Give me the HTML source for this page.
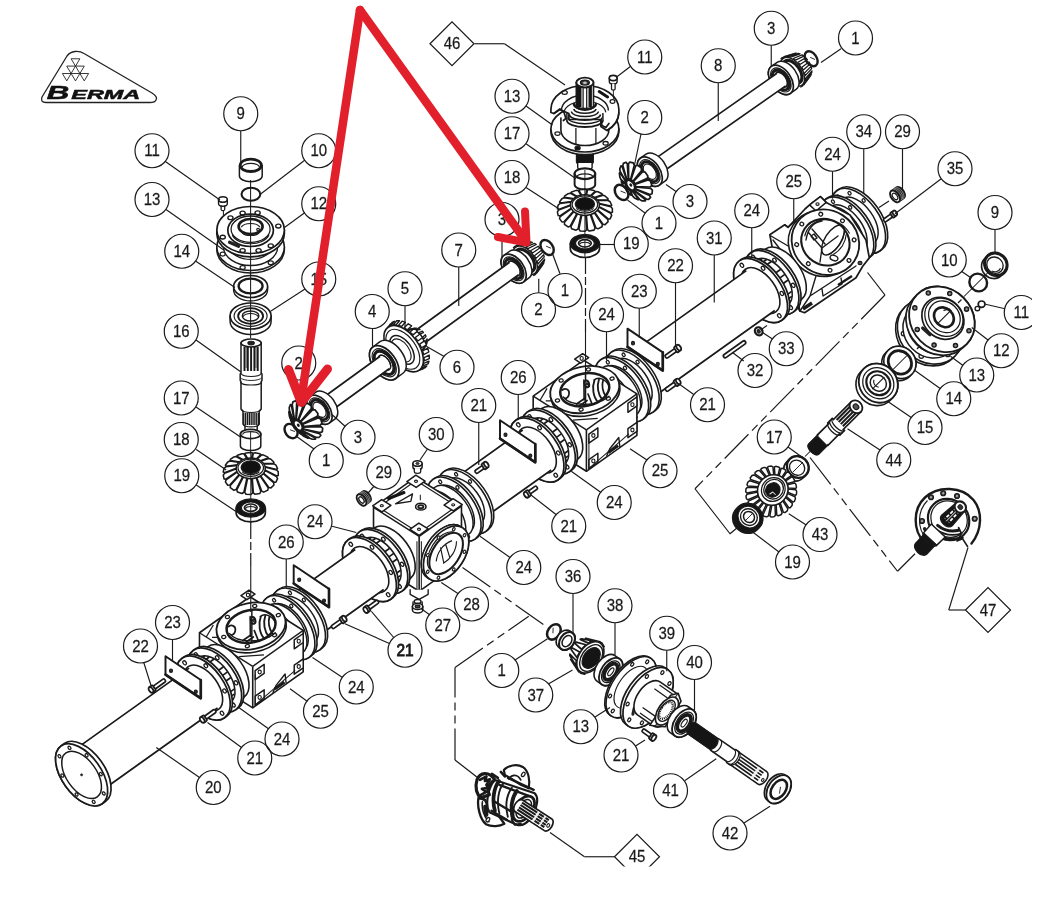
<!DOCTYPE html>
<html><head><meta charset="utf-8"><title>Berma exploded view</title>
<style>
html,body{margin:0;padding:0;background:#fff;}
body{width:1064px;height:904px;overflow:hidden;}
svg{display:block;}
svg text{font-family:"Liberation Sans",Arial,sans-serif;fill:#1a1a1a;}
</style></head><body>
<svg width="1064" height="904" viewBox="0 0 1064 904">
<rect x="0" y="0" width="1064" height="904" fill="#fff"/>
<g opacity="0.999">
<path d="M239.4 165.5 L239.4 176 A11.2 5.6 0 0 0 262.2 176 L262.2 165.5" fill="#fff" stroke="#1a1a1a" stroke-width="1.49" stroke-linejoin="round" stroke-linecap="round" />
<ellipse cx="250.8" cy="165.3" rx="10.6" ry="6.2" fill="#fff" stroke="#1a1a1a" stroke-width="2.76"/>
<path d="M242.2 167.3 A8.6 4 0 0 1 259.4 167.3" fill="none" stroke="#1a1a1a" stroke-width="1.26"/>
<ellipse cx="250.9" cy="194.2" rx="9.4" ry="6.5" fill="none" stroke="#1a1a1a" stroke-width="2.07"/>
<path d="M218.5 199.6 L218.5 203.4 A4.4 2.8 0 0 0 227.3 203.4 L227.3 199.6" fill="#fff" stroke="#1a1a1a" stroke-width="1.38" stroke-linejoin="round" stroke-linecap="round" />
<ellipse cx="222.9" cy="199.5" rx="4.4" ry="2.8" fill="#fff" stroke="#1a1a1a" stroke-width="1.61"/>
<path d="M221.1 206 L221.1 209.5 A1.8 1.2 0 0 0 224.7 209.5 L224.7 206" fill="none" stroke="#1a1a1a" stroke-width="1.26" stroke-linejoin="round" stroke-linecap="round" />
<line x1="223.4" y1="211" x2="223.4" y2="234" stroke="#1a1a1a" stroke-width="1.03" stroke-linecap="butt"/>
<path d="M216.8 247 L216.8 249.5 A33.8 23.5 0 0 0 284.4 249.5 L284.4 247" fill="#fff" stroke="#1a1a1a" stroke-width="1.49" stroke-linejoin="round" stroke-linecap="round" />
<ellipse cx="250.6" cy="247" rx="33.8" ry="23.5" fill="#fff" stroke="#1a1a1a" stroke-width="1.61"/>
<ellipse cx="222.72" cy="254.12" rx="2.6" ry="1.9" fill="none" stroke="#1a1a1a" stroke-width="1.26"/>
<ellipse cx="242.61" cy="267.49" rx="2.6" ry="1.9" fill="none" stroke="#1a1a1a" stroke-width="1.26"/>
<ellipse cx="270.75" cy="262.78" rx="2.6" ry="1.9" fill="none" stroke="#1a1a1a" stroke-width="1.26"/>
<path d="M223.6 238 L223.6 247 A27 18.5 0 0 0 277.6 247 L277.6 238" fill="#fff" stroke="#1a1a1a" stroke-width="1.38" stroke-linejoin="round" stroke-linecap="round" />
<path d="M272.33 248.01 A22.5 15.5 0 0 1 228.87 248.01" fill="none" stroke="#1a1a1a" stroke-width="1.26"/>
<path d="M216.8 230 L216.8 233.4 A33.8 23.5 0 0 0 284.4 233.4 L284.4 230" fill="#fff" stroke="#1a1a1a" stroke-width="1.61" stroke-linejoin="round" stroke-linecap="round" />
<ellipse cx="250.6" cy="230" rx="33.8" ry="23.5" fill="#fff" stroke="#1a1a1a" stroke-width="1.72"/>
<ellipse cx="242.61" cy="213.01" rx="2.6" ry="1.9" fill="none" stroke="#1a1a1a" stroke-width="1.38"/>
<ellipse cx="257.62" cy="212.83" rx="2.6" ry="1.9" fill="none" stroke="#1a1a1a" stroke-width="1.38"/>
<ellipse cx="230.45" cy="217.72" rx="2.6" ry="1.9" fill="none" stroke="#1a1a1a" stroke-width="1.38"/>
<ellipse cx="278.33" cy="226.05" rx="2.6" ry="1.9" fill="none" stroke="#1a1a1a" stroke-width="1.38"/>
<ellipse cx="222.72" cy="237.12" rx="2.6" ry="1.9" fill="none" stroke="#1a1a1a" stroke-width="1.38"/>
<ellipse cx="242.61" cy="250.49" rx="2.6" ry="1.9" fill="none" stroke="#1a1a1a" stroke-width="1.38"/>
<ellipse cx="258.59" cy="250.49" rx="2.6" ry="1.9" fill="none" stroke="#1a1a1a" stroke-width="1.38"/>
<ellipse cx="270.75" cy="245.78" rx="2.6" ry="1.9" fill="none" stroke="#1a1a1a" stroke-width="1.38"/>
<ellipse cx="250.6" cy="230.3" rx="22.8" ry="16.2" fill="none" stroke="#1a1a1a" stroke-width="1.72"/>
<ellipse cx="250.6" cy="229.2" rx="19.5" ry="13.2" fill="none" stroke="#1a1a1a" stroke-width="1.26"/>
<path d="M268.92 235.11 A19.5 13.2 0 0 1 232.28 235.11" fill="none" stroke="#1a1a1a" stroke-width="1.15"/>
<ellipse cx="250.6" cy="226.5" rx="12" ry="7.5" fill="none" stroke="#1a1a1a" stroke-width="2.64"/>
<path d="M241.2 227.12 A10 5.5 0 0 1 260 227.12" fill="none" stroke="#1a1a1a" stroke-width="1.15"/>
<path d="M259.06 232.87 A9 4 0 0 1 242.14 232.87" fill="none" stroke="#1a1a1a" stroke-width="1.15"/>
<ellipse cx="258.1" cy="229.5" rx="1.4" ry="1.2" fill="#fff" stroke="#1a1a1a" stroke-width="1.15"/>
<rect x="227.6" y="242.5" width="13" height="3.2" rx="1.5" fill="#222" transform="rotate(24 233.6 244)"/>
<path d="M233.6 286.5 L233.6 290 A17 11 0 0 0 267.6 290 L267.6 286.5" fill="#fff" stroke="#1a1a1a" stroke-width="1.38" stroke-linejoin="round" stroke-linecap="round" />
<ellipse cx="250.6" cy="286.5" rx="17" ry="11" fill="#fff" stroke="#1a1a1a" stroke-width="1.61"/>
<ellipse cx="250.6" cy="286" rx="12" ry="7.4" fill="none" stroke="#1a1a1a" stroke-width="2.3"/>
<path d="M230.1 316 L230.1 321.5 A20.5 13 0 0 0 271.1 321.5 L271.1 316" fill="#fff" stroke="#1a1a1a" stroke-width="1.49" stroke-linejoin="round" stroke-linecap="round" />
<ellipse cx="250.6" cy="316" rx="20.5" ry="13" fill="#fff" stroke="#1a1a1a" stroke-width="1.72"/>
<ellipse cx="250.6" cy="316" rx="16.5" ry="10.3" fill="none" stroke="#1a1a1a" stroke-width="1.15"/>
<ellipse cx="250.6" cy="316" rx="12.5" ry="7.8" fill="none" stroke="#1a1a1a" stroke-width="1.84"/>
<ellipse cx="250.6" cy="316" rx="8.3" ry="5" fill="none" stroke="#1a1a1a" stroke-width="1.38"/>
<path d="M242.8 316.79 A8.3 5 0 0 1 258.4 316.79" fill="none" stroke="#1a1a1a" stroke-width="1.15"/>
<line x1="250.6" y1="180" x2="250.6" y2="338" stroke="#1a1a1a" stroke-width="1.03" stroke-linecap="butt"/>
<path d="M241 343 L241 373 L240.2 374 L240.2 380.5 L241 381.5 L241 409 L243 411 L243 424 L245 426 L245 430 A6 2.5 0 0 0 257.2 430 L257.2 426 L259.2 424 L259.2 411 L261.2 409 L261.2 381.5 L262.0 380.5 L262.0 374 L261.2 373 L261.2 343" fill="#fff" stroke="#1a1a1a" stroke-width="1.49" stroke-linejoin="round" stroke-linecap="round" />
<ellipse cx="251.1" cy="343" rx="10.1" ry="4" fill="#fff" stroke="#1a1a1a" stroke-width="1.61"/>
<ellipse cx="251.1" cy="343" rx="3.2" ry="1.8" fill="#222" stroke="#1a1a1a" stroke-width="1.15"/>
<line x1="244.5" y1="347" x2="244.5" y2="371" stroke="#1a1a1a" stroke-width="1.95" stroke-linecap="butt"/>
<line x1="247.8" y1="347" x2="247.8" y2="371" stroke="#1a1a1a" stroke-width="1.95" stroke-linecap="butt"/>
<line x1="251.1" y1="347" x2="251.1" y2="371" stroke="#1a1a1a" stroke-width="1.95" stroke-linecap="butt"/>
<line x1="254.4" y1="347" x2="254.4" y2="371" stroke="#1a1a1a" stroke-width="1.95" stroke-linecap="butt"/>
<line x1="257.7" y1="347" x2="257.7" y2="371" stroke="#1a1a1a" stroke-width="1.95" stroke-linecap="butt"/>
<line x1="246.2" y1="347" x2="246.2" y2="368" stroke="#1a1a1a" stroke-width="0.69" stroke-linecap="butt"/>
<line x1="256" y1="347" x2="256" y2="368" stroke="#1a1a1a" stroke-width="0.69" stroke-linecap="butt"/>
<path d="M261.05 373.61 A10.1 3.5 0 0 1 241.15 373.61" fill="none" stroke="#1a1a1a" stroke-width="1.15"/>
<path d="M261.83 382.11 A10.9 3.5 0 0 1 240.37 382.11" fill="none" stroke="#1a1a1a" stroke-width="1.15"/>
<path d="M261.83 377.61 A10.9 3.5 0 0 1 240.37 377.61" fill="none" stroke="#1a1a1a" stroke-width="0.92"/>
<path d="M261.05 409.61 A10.1 3.5 0 0 1 241.15 409.61" fill="none" stroke="#1a1a1a" stroke-width="1.15"/>
<line x1="243.8" y1="413" x2="243.8" y2="425" stroke="#1a1a1a" stroke-width="1.32" stroke-linecap="butt"/>
<line x1="245.65" y1="413" x2="245.65" y2="425" stroke="#1a1a1a" stroke-width="1.32" stroke-linecap="butt"/>
<line x1="247.5" y1="413" x2="247.5" y2="425" stroke="#1a1a1a" stroke-width="1.32" stroke-linecap="butt"/>
<line x1="249.35" y1="413" x2="249.35" y2="425" stroke="#1a1a1a" stroke-width="1.32" stroke-linecap="butt"/>
<line x1="251.2" y1="413" x2="251.2" y2="425" stroke="#1a1a1a" stroke-width="1.32" stroke-linecap="butt"/>
<line x1="253.05" y1="413" x2="253.05" y2="425" stroke="#1a1a1a" stroke-width="1.32" stroke-linecap="butt"/>
<line x1="254.9" y1="413" x2="254.9" y2="425" stroke="#1a1a1a" stroke-width="1.32" stroke-linecap="butt"/>
<line x1="256.75" y1="413" x2="256.75" y2="425" stroke="#1a1a1a" stroke-width="1.32" stroke-linecap="butt"/>
<line x1="258.6" y1="413" x2="258.6" y2="425" stroke="#1a1a1a" stroke-width="1.32" stroke-linecap="butt"/>
<path d="M259.08 424.49 A8.1 2.8 0 0 1 243.12 424.49" fill="none" stroke="#1a1a1a" stroke-width="1.15"/>
<path d="M240.4 434 L240.4 446 A10.2 4.6 0 0 0 260.8 446 L260.8 434" fill="#fff" stroke="#1a1a1a" stroke-width="1.49" stroke-linejoin="round" stroke-linecap="round" />
<ellipse cx="250.6" cy="434" rx="10.2" ry="4.6" fill="#fff" stroke="#1a1a1a" stroke-width="1.84"/>
<path d="M242.52 434.43 A8.2 3.3 0 0 1 258.68 434.43" fill="none" stroke="#1a1a1a" stroke-width="1.15"/>
<line x1="250.6" y1="431" x2="250.6" y2="452" stroke="#1a1a1a" stroke-width="0.92" stroke-linecap="butt"/>
<polygon points="247.72,458.75 244.73,453.58 246.03,452.91 250.93,452.6 252.48,453.09 251.52,458.53" fill="#fff" stroke="#1a1a1a" stroke-width="1.55" stroke-linejoin="round"/>
<polygon points="252.25,458.57 253.35,453.15 255.11,452.86 259.88,453.78 260.88,454.6 255.95,459.24" fill="#fff" stroke="#1a1a1a" stroke-width="1.55" stroke-linejoin="round"/>
<polygon points="243.52,459.97 236.77,456.12 237.45,455.2 241.96,453.69 243.89,453.74 247.02,458.88" fill="#fff" stroke="#1a1a1a" stroke-width="1.55" stroke-linejoin="round"/>
<polygon points="256.62,459.45 261.68,454.87 263.73,455.07 267.85,457.11 268.19,458.1 259.81,460.93" fill="#fff" stroke="#1a1a1a" stroke-width="1.55" stroke-linejoin="round"/>
<polygon points="240.11,462.09 230.33,460.49 230.32,459.48 233.94,456.94 236.05,456.48 242.91,460.25" fill="#fff" stroke="#1a1a1a" stroke-width="1.55" stroke-linejoin="round"/>
<polygon points="260.34,461.28 268.82,458.55 270.93,459.28 273.96,462.23 273.6,463.22 262.69,463.42" fill="#fff" stroke="#1a1a1a" stroke-width="1.55" stroke-linejoin="round"/>
<polygon points="237.84,464.88 226.09,466.21 225.4,465.29 227.74,462 229.8,461.01 239.66,462.5" fill="#fff" stroke="#1a1a1a" stroke-width="1.55" stroke-linejoin="round"/>
<polygon points="263.03,463.87 274.01,463.8 275.95,465.04 277.55,468.58 276.54,469.39 264.27,466.43" fill="#fff" stroke="#1a1a1a" stroke-width="1.55" stroke-linejoin="round"/>
<polygon points="236.98,468.04 224.53,472.67 223.23,472 224.04,468.31 225.81,466.84 237.61,465.37" fill="#fff" stroke="#1a1a1a" stroke-width="1.55" stroke-linejoin="round"/>
<polygon points="264.39,466.95 276.68,470.04 278.24,471.73 278.24,475.47 276.68,475.96 264.39,469.65" fill="#fff" stroke="#1a1a1a" stroke-width="1.55" stroke-linejoin="round"/>
<polygon points="237.61,471.23 225.81,479.16 224.04,478.89 223.23,475.2 224.53,473.33 236.98,468.56" fill="#fff" stroke="#1a1a1a" stroke-width="1.55" stroke-linejoin="round"/>
<polygon points="264.27,470.17 276.54,476.61 277.55,478.62 275.95,482.16 274.01,482.2 263.03,472.73" fill="#fff" stroke="#1a1a1a" stroke-width="1.55" stroke-linejoin="round"/>
<polygon points="239.66,474.1 229.8,484.99 227.74,485.2 225.4,481.91 226.09,479.79 237.84,471.72" fill="#fff" stroke="#1a1a1a" stroke-width="1.55" stroke-linejoin="round"/>
<polygon points="262.69,473.18 273.6,482.78 273.96,484.97 270.93,487.92 268.82,487.45 260.34,475.32" fill="#fff" stroke="#1a1a1a" stroke-width="1.55" stroke-linejoin="round"/>
<polygon points="242.91,476.35 236.05,489.52 233.94,490.26 230.32,487.72 230.33,485.51 240.11,474.51" fill="#fff" stroke="#1a1a1a" stroke-width="1.55" stroke-linejoin="round"/>
<polygon points="259.81,475.67 268.19,487.9 267.85,490.09 263.73,492.13 261.68,491.13 256.62,477.15" fill="#fff" stroke="#1a1a1a" stroke-width="1.55" stroke-linejoin="round"/>
<polygon points="247.02,477.72 243.89,492.26 241.96,493.51 237.45,492 236.77,489.88 243.52,476.63" fill="#fff" stroke="#1a1a1a" stroke-width="1.55" stroke-linejoin="round"/>
<polygon points="255.95,477.36 260.88,491.4 259.88,493.42 255.11,494.34 253.35,492.85 252.25,478.03" fill="#fff" stroke="#1a1a1a" stroke-width="1.55" stroke-linejoin="round"/>
<polygon points="251.52,478.07 252.48,492.91 250.93,494.6 246.03,494.29 244.73,492.42 247.72,477.85" fill="#fff" stroke="#1a1a1a" stroke-width="1.55" stroke-linejoin="round"/>
<ellipse cx="250.75" cy="468.4" rx="14.5" ry="10.3" fill="#fff" stroke="#1a1a1a" stroke-width="1.49"/>
<ellipse cx="250.75" cy="467.8" rx="12.76" ry="8.65" fill="none" stroke="#1a1a1a" stroke-width="1.26"/>
<ellipse cx="250.75" cy="467.2" rx="9.57" ry="6.18" fill="#111" stroke="#1a1a1a" stroke-width="1.38"/>
<path d="M259.42 471.58 A9.57 5.15 0 0 1 242.08 471.58" fill="none" stroke="#1a1a1a" stroke-width="1.03"/>
<line x1="250.75" y1="452" x2="250.75" y2="461" stroke="#1a1a1a" stroke-width="0.92" stroke-linecap="butt"/>
<line x1="250.75" y1="474" x2="250.75" y2="499" stroke="#1a1a1a" stroke-width="0.92" stroke-linecap="butt"/>
<path d="M236.15 508 L236.15 512.8 A14.6 9.1 0 0 0 265.35 512.8 L265.35 508" fill="#fff" stroke="#1a1a1a" stroke-width="1.72" stroke-linejoin="round" stroke-linecap="round" />
<ellipse cx="250.75" cy="508" rx="14.6" ry="9.1" fill="#151515" stroke="#1a1a1a" stroke-width="1.38"/>
<ellipse cx="250.75" cy="507.7" rx="9.4" ry="5.7" fill="#fff" stroke="#1a1a1a" stroke-width="1.15"/>
<ellipse cx="250.75" cy="507.7" rx="6.4" ry="3.7" fill="none" stroke="#1a1a1a" stroke-width="1.61"/>
<path d="M245.11 508.71 A6 3.2 0 0 1 256.39 508.71" fill="none" stroke="#1a1a1a" stroke-width="1.03"/>
<line x1="250.75" y1="505" x2="250.75" y2="522" stroke="#1a1a1a" stroke-width="0.92" stroke-linecap="butt"/>
<path d="M576.4 150 L576.4 162 A8.5 3 0 0 0 593.4 162 L593.4 150Z" fill="#151515" stroke="#1a1a1a" stroke-width="1.15" stroke-linejoin="round" stroke-linecap="round" />
<path d="M577.6999999999999 163 L577.6999999999999 167.5 A7.2 2.6 0 0 0 592.1 167.5 L592.1 163" fill="#fff" stroke="#1a1a1a" stroke-width="1.38" stroke-linejoin="round" stroke-linecap="round" />
<path d="M550.9 129 L550.9 131.6 A34 23 0 0 0 618.9 131.6 L618.9 129" fill="#fff" stroke="#1a1a1a" stroke-width="1.61" stroke-linejoin="round" stroke-linecap="round" />
<ellipse cx="584.9" cy="129" rx="34" ry="23" fill="#fff" stroke="#1a1a1a" stroke-width="1.72"/>
<ellipse cx="557.5" cy="133.6" rx="2.6" ry="1.8" fill="none" stroke="#1a1a1a" stroke-width="1.26"/>
<ellipse cx="605.6" cy="143.3" rx="2.6" ry="1.8" fill="none" stroke="#1a1a1a" stroke-width="1.26"/>
<ellipse cx="577.6" cy="148" rx="2.6" ry="2" fill="#151515" stroke="#1a1a1a" stroke-width="1.15"/>
<path d="M560.9 118 L560.9 130 A24 15.5 0 0 0 608.9 130 L608.9 118" fill="#fff" stroke="#1a1a1a" stroke-width="1.61" stroke-linejoin="round" stroke-linecap="round" />
<line x1="575.9" y1="128" x2="575.9" y2="144" stroke="#1a1a1a" stroke-width="1.26" stroke-linecap="butt"/>
<line x1="595.9" y1="128" x2="595.9" y2="144" stroke="#1a1a1a" stroke-width="1.26" stroke-linecap="butt"/>
<path d="M550.9 112.5 L550.9 109.5 A34 24 0 0 1 618.9 109.5 L618.9 112.5 A34 24 0 0 1 606.9 130.5 L600.9 126.5 L600.9 119.5 L568.9 119.5 L568.9 113.5 L559.9 109.5 L553.9 113.5Z" fill="#fff" stroke="#1a1a1a" stroke-width="1.72" stroke-linejoin="round" stroke-linecap="round" />
<path d="M618.9 112.5 A34 24 0 0 1 606.75 130.89" fill="none" stroke="#1a1a1a" stroke-width="1.49"/>
<path d="M561.4 110.5 A23.5 15.5 0 0 1 608.4 110.5" fill="none" stroke="#1a1a1a" stroke-width="1.49"/>
<path d="M563.98 112.41 A21 12.5 0 0 1 605.82 112.41" fill="none" stroke="#1a1a1a" stroke-width="1.15"/>
<path d="M553.9 113.5 L559.9 109.0 L563.9 112.0 L565.9 118.5 L563.4 120.5" fill="none" stroke="#1a1a1a" stroke-width="1.72" stroke-linejoin="round" stroke-linecap="round" />
<path d="M600.9 120.0 L601.9 125.5 L605.9 127.5 L608.9 123.5" fill="none" stroke="#1a1a1a" stroke-width="1.72" stroke-linejoin="round" stroke-linecap="round" />
<path d="M602.9 120.5 A18 6.5 0 0 1 566.9 120.5" fill="none" stroke="#1a1a1a" stroke-width="1.84"/>
<path d="M601.9 117.5 A17 6.2 0 0 1 567.9 117.5" fill="none" stroke="#1a1a1a" stroke-width="1.38"/>
<path d="M600.4 114.5 A15.5 5.6 0 0 1 569.4 114.5" fill="none" stroke="#1a1a1a" stroke-width="1.72"/>
<path d="M598.4 111.5 A13.5 5 0 0 1 571.4 111.5" fill="none" stroke="#1a1a1a" stroke-width="1.38"/>
<path d="M595.9 109 A11 4.2 0 0 1 573.9 109" fill="none" stroke="#1a1a1a" stroke-width="1.61"/>
<line x1="566.9" y1="113" x2="566.9" y2="121" stroke="#1a1a1a" stroke-width="1.49" stroke-linecap="butt"/>
<line x1="602.9" y1="113" x2="602.9" y2="121" stroke="#1a1a1a" stroke-width="1.49" stroke-linecap="butt"/>
<ellipse cx="564.6" cy="92.5" rx="2.7" ry="1.9" fill="none" stroke="#1a1a1a" stroke-width="1.26"/>
<ellipse cx="612.5" cy="101.5" rx="2.4" ry="1.8" fill="none" stroke="#1a1a1a" stroke-width="1.26"/>
<rect x="597" y="92.5" width="13" height="3" rx="1.5" fill="#151515" transform="rotate(33 603 94)"/>
<path d="M576.3 82.5 L576.3 106.5 A8.6 3.6 0 0 0 593.5 106.5 L593.5 82.5Z" fill="#fff" stroke="#1a1a1a" stroke-width="1.61" stroke-linejoin="round" stroke-linecap="round" />
<rect x="576.9" y="85" width="4.6" height="22" fill="#151515"/>
<rect x="588.5" y="86" width="3.4" height="21" fill="#151515"/>
<line x1="583.1" y1="87" x2="583.1" y2="108" stroke="#1a1a1a" stroke-width="1.26" stroke-linecap="butt"/>
<line x1="586.7" y1="87" x2="586.7" y2="108" stroke="#1a1a1a" stroke-width="1.26" stroke-linecap="butt"/>
<ellipse cx="584.9" cy="82.5" rx="8.6" ry="4.9" fill="#fff" stroke="#1a1a1a" stroke-width="1.95"/>
<ellipse cx="584.9" cy="82.6" rx="4.4" ry="2.5" fill="#333" stroke="#1a1a1a" stroke-width="1.38"/>
<ellipse cx="584.9" cy="82.9" rx="2" ry="1.1" fill="#ddd" stroke="#888" stroke-width="0.57"/>
<path d="M573.9 104 A11 5 0 0 0 595.9 104" fill="none" stroke="#1a1a1a" stroke-width="2.53" stroke-linejoin="round" stroke-linecap="round" />
<path d="M609.3 78 L609.3 81.6 A3.9 2.6 0 0 0 617.1 81.6 L617.1 78" fill="#fff" stroke="#1a1a1a" stroke-width="1.38" stroke-linejoin="round" stroke-linecap="round" />
<ellipse cx="613.2" cy="78" rx="3.9" ry="2.6" fill="#fff" stroke="#1a1a1a" stroke-width="1.61"/>
<path d="M611.5 84 L611.5 89 A1.8 1.1 0 0 0 615.1 89 L615.1 84" fill="#fff" stroke="#1a1a1a" stroke-width="1.26" stroke-linejoin="round" stroke-linecap="round" />
<line x1="613.4" y1="90" x2="613.4" y2="99" stroke="#1a1a1a" stroke-width="0.92" stroke-linecap="butt"/>
<path d="M574.6 173.8 L574.6 184.5 A10.3 5 0 0 0 595.1999999999999 184.5 L595.1999999999999 173.8" fill="#fff" stroke="#1a1a1a" stroke-width="1.95" stroke-linejoin="round" stroke-linecap="round" />
<ellipse cx="584.9" cy="173.7" rx="10.3" ry="5.4" fill="#fff" stroke="#1a1a1a" stroke-width="2.18"/>
<path d="M576.63 177.19 A8.3 3.6 0 0 1 593.17 177.19" fill="none" stroke="#1a1a1a" stroke-width="1.38"/>
<line x1="584.9" y1="170" x2="584.9" y2="190" stroke="#1a1a1a" stroke-width="0.92" stroke-linecap="butt"/>
<polygon points="581.87,195.45 578.88,190.28 580.18,189.61 585.08,189.3 586.63,189.79 585.67,195.23" fill="#fff" stroke="#1a1a1a" stroke-width="1.55" stroke-linejoin="round"/>
<polygon points="586.4,195.27 587.5,189.85 589.26,189.56 594.03,190.48 595.03,191.3 590.1,195.94" fill="#fff" stroke="#1a1a1a" stroke-width="1.55" stroke-linejoin="round"/>
<polygon points="577.67,196.67 570.92,192.82 571.6,191.9 576.11,190.39 578.04,190.44 581.17,195.58" fill="#fff" stroke="#1a1a1a" stroke-width="1.55" stroke-linejoin="round"/>
<polygon points="590.77,196.15 595.83,191.57 597.88,191.77 602,193.81 602.34,194.8 593.96,197.63" fill="#fff" stroke="#1a1a1a" stroke-width="1.55" stroke-linejoin="round"/>
<polygon points="574.26,198.79 564.48,197.19 564.47,196.18 568.09,193.64 570.2,193.18 577.06,196.95" fill="#fff" stroke="#1a1a1a" stroke-width="1.55" stroke-linejoin="round"/>
<polygon points="594.49,197.98 602.97,195.25 605.08,195.98 608.11,198.93 607.75,199.92 596.84,200.12" fill="#fff" stroke="#1a1a1a" stroke-width="1.55" stroke-linejoin="round"/>
<polygon points="571.99,201.58 560.24,202.91 559.55,201.99 561.89,198.7 563.95,197.71 573.81,199.2" fill="#fff" stroke="#1a1a1a" stroke-width="1.55" stroke-linejoin="round"/>
<polygon points="597.18,200.57 608.16,200.5 610.1,201.74 611.7,205.28 610.69,206.09 598.42,203.13" fill="#fff" stroke="#1a1a1a" stroke-width="1.55" stroke-linejoin="round"/>
<polygon points="571.13,204.74 558.68,209.37 557.38,208.7 558.19,205.01 559.96,203.54 571.76,202.07" fill="#fff" stroke="#1a1a1a" stroke-width="1.55" stroke-linejoin="round"/>
<polygon points="598.54,203.65 610.83,206.74 612.39,208.43 612.39,212.17 610.83,212.66 598.54,206.35" fill="#fff" stroke="#1a1a1a" stroke-width="1.55" stroke-linejoin="round"/>
<polygon points="571.76,207.93 559.96,215.86 558.19,215.59 557.38,211.9 558.68,210.03 571.13,205.26" fill="#fff" stroke="#1a1a1a" stroke-width="1.55" stroke-linejoin="round"/>
<polygon points="598.42,206.87 610.69,213.31 611.7,215.32 610.1,218.86 608.16,218.9 597.18,209.43" fill="#fff" stroke="#1a1a1a" stroke-width="1.55" stroke-linejoin="round"/>
<polygon points="573.81,210.8 563.95,221.69 561.89,221.9 559.55,218.61 560.24,216.49 571.99,208.42" fill="#fff" stroke="#1a1a1a" stroke-width="1.55" stroke-linejoin="round"/>
<polygon points="596.84,209.88 607.75,219.48 608.11,221.67 605.08,224.62 602.97,224.15 594.49,212.02" fill="#fff" stroke="#1a1a1a" stroke-width="1.55" stroke-linejoin="round"/>
<polygon points="577.06,213.05 570.2,226.22 568.09,226.96 564.47,224.42 564.48,222.21 574.26,211.21" fill="#fff" stroke="#1a1a1a" stroke-width="1.55" stroke-linejoin="round"/>
<polygon points="593.96,212.37 602.34,224.6 602,226.79 597.88,228.83 595.83,227.83 590.77,213.85" fill="#fff" stroke="#1a1a1a" stroke-width="1.55" stroke-linejoin="round"/>
<polygon points="581.17,214.42 578.04,228.96 576.11,230.21 571.6,228.7 570.92,226.58 577.67,213.33" fill="#fff" stroke="#1a1a1a" stroke-width="1.55" stroke-linejoin="round"/>
<polygon points="590.1,214.06 595.03,228.1 594.03,230.12 589.26,231.04 587.5,229.55 586.4,214.73" fill="#fff" stroke="#1a1a1a" stroke-width="1.55" stroke-linejoin="round"/>
<polygon points="585.67,214.77 586.63,229.61 585.08,231.3 580.18,230.99 578.88,229.12 581.87,214.55" fill="#fff" stroke="#1a1a1a" stroke-width="1.55" stroke-linejoin="round"/>
<ellipse cx="584.9" cy="205.1" rx="14.5" ry="10.3" fill="#fff" stroke="#1a1a1a" stroke-width="1.49"/>
<ellipse cx="584.9" cy="204.5" rx="12.76" ry="8.65" fill="none" stroke="#1a1a1a" stroke-width="1.26"/>
<ellipse cx="584.9" cy="203.9" rx="9.57" ry="6.18" fill="#111" stroke="#1a1a1a" stroke-width="1.38"/>
<path d="M593.57 208.28 A9.57 5.15 0 0 1 576.23 208.28" fill="none" stroke="#1a1a1a" stroke-width="1.03"/>
<line x1="584.9" y1="188" x2="584.9" y2="197" stroke="#1a1a1a" stroke-width="0.92" stroke-linecap="butt"/>
<line x1="584.9" y1="210" x2="584.9" y2="236" stroke="#1a1a1a" stroke-width="0.92" stroke-linecap="butt"/>
<path d="M570.3 243.6 L570.3 248.4 A14.6 9.1 0 0 0 599.5 248.4 L599.5 243.6" fill="#fff" stroke="#1a1a1a" stroke-width="1.72" stroke-linejoin="round" stroke-linecap="round" />
<ellipse cx="584.9" cy="243.6" rx="14.6" ry="9.1" fill="#151515" stroke="#1a1a1a" stroke-width="1.38"/>
<ellipse cx="584.9" cy="243.3" rx="9.4" ry="5.7" fill="#fff" stroke="#1a1a1a" stroke-width="1.15"/>
<ellipse cx="584.9" cy="243.3" rx="6.4" ry="3.7" fill="none" stroke="#1a1a1a" stroke-width="1.61"/>
<path d="M579.26 244.31 A6 3.2 0 0 1 590.54 244.31" fill="none" stroke="#1a1a1a" stroke-width="1.03"/>
<line x1="584.9" y1="240" x2="584.9" y2="257" stroke="#1a1a1a" stroke-width="0.92" stroke-linecap="butt"/>
<g transform="translate(524.99 260.5) rotate(-36)">
<polygon points="-1.82,-17.23 9.54,-13.79 11,-14 0,-17.5" fill="#fff" stroke="#1a1a1a" stroke-width="1.26" stroke-linejoin="round"/>
<polygon points="2.02,-17.17 12.62,-13.74 14.03,-13.06 3.78,-16.33" fill="#fff" stroke="#1a1a1a" stroke-width="1.26" stroke-linejoin="round"/>
<polygon points="5.6,-14.8 15.48,-11.84 16.64,-10.37 7.06,-12.96" fill="#fff" stroke="#1a1a1a" stroke-width="1.26" stroke-linejoin="round"/>
<polygon points="8.42,-10.45 17.74,-8.36 18.51,-6.28 9.38,-7.85" fill="#fff" stroke="#1a1a1a" stroke-width="1.26" stroke-linejoin="round"/>
<polygon points="10.12,-4.69 19.09,-3.75 19.36,-1.36 10.45,-1.69" fill="#fff" stroke="#1a1a1a" stroke-width="1.26" stroke-linejoin="round"/>
<polygon points="10.45,1.69 19.36,1.36 19.09,3.75 10.12,4.69" fill="#fff" stroke="#1a1a1a" stroke-width="1.26" stroke-linejoin="round"/>
<polygon points="9.38,7.85 18.51,6.28 17.74,8.36 8.42,10.45" fill="#fff" stroke="#1a1a1a" stroke-width="1.26" stroke-linejoin="round"/>
<polygon points="7.06,12.96 16.64,10.37 15.48,11.84 5.6,14.8" fill="#fff" stroke="#1a1a1a" stroke-width="1.26" stroke-linejoin="round"/>
<polygon points="3.78,16.33 14.03,13.06 12.62,13.74 2.02,17.17" fill="#fff" stroke="#1a1a1a" stroke-width="1.26" stroke-linejoin="round"/>
<polygon points="0,17.5 11,14 9.54,13.79 -1.82,17.23" fill="#fff" stroke="#1a1a1a" stroke-width="1.26" stroke-linejoin="round"/>
<ellipse cx="0" cy="0" rx="9.77" ry="16.28" fill="#fff" stroke="#1a1a1a" stroke-width="1.38"/>
</g>
<g transform="translate(524.99 260.5) rotate(-36)">
<ellipse cx="0" cy="0" rx="7.6" ry="13" fill="none" stroke="#1a1a1a" stroke-width="3.22"/>
</g>
<g transform="translate(547.09 247.54) rotate(-36)">
<ellipse cx="0" cy="0" rx="5.6" ry="8.3" fill="none" stroke="#1a1a1a" stroke-width="2.42"/>
</g>
<line x1="546.11" y1="246.19" x2="551.06" y2="248.24" stroke="#1a1a1a" stroke-width="0.92" stroke-linecap="butt"/>
<g transform="translate(513.66 268.73) rotate(-36)">
<path d="M0 -16.5 L7 -16.5 A10 16.5 0 0 1 7 16.5 L0 16.5 A10 16.5 0 0 1 0 -16.5Z" fill="#fff" stroke="#1a1a1a" stroke-width="1.49" stroke-linejoin="round"/>
<ellipse cx="0" cy="0" rx="10" ry="16.5" fill="#fff" stroke="#1a1a1a" stroke-width="1.72"/>
</g>
<g transform="translate(513.66 268.73) rotate(-36)">
<ellipse cx="0" cy="0" rx="8.2" ry="13.53" fill="none" stroke="#1a1a1a" stroke-width="1.15"/>
</g>
<g transform="translate(513.66 268.73) rotate(-36)">
<ellipse cx="0" cy="0" rx="6.8" ry="11.22" fill="none" stroke="#1a1a1a" stroke-width="2.99"/>
</g>
<g transform="translate(513.66 268.73) rotate(-36)">
<ellipse cx="0" cy="0" rx="5.23" ry="8.62" fill="none" stroke="#1a1a1a" stroke-width="1.15"/>
</g>
<g transform="translate(410.11 343.97) rotate(-36)">
<rect x="0" y="-7.7" width="128.5" height="15.4" fill="#fff" stroke="none"/>
<path d="M0 -7.7 L128.5 -7.7 M0 7.7 L128.5 7.7" stroke="#1a1a1a" stroke-width="1.72" fill="none"/>
</g>
<g transform="translate(513.66 268.73) rotate(-36)">
<path d="M0 -8.62 A5.23 8.62 0 0 1 0 8.62" fill="none" stroke="#1a1a1a" stroke-width="1.38"/>
<path d="M0 -11.22 A6.8 11.22 0 0 1 0 11.22" fill="none" stroke="#1a1a1a" stroke-width="2.99"/>
</g>
<g transform="translate(415.77 339.85) rotate(-36)">
<polygon points="-1.25,-12.31 4,-9.85 5,-10 0,-12.5" fill="#fff" stroke="#1a1a1a" stroke-width="1.26" stroke-linejoin="round"/>
<polygon points="2.12,-11.94 6.7,-9.56 7.63,-8.9 3.28,-11.12" fill="#fff" stroke="#1a1a1a" stroke-width="1.26" stroke-linejoin="round"/>
<polygon points="5.03,-8.95 9.02,-7.16 9.68,-5.84 5.85,-7.3" fill="#fff" stroke="#1a1a1a" stroke-width="1.26" stroke-linejoin="round"/>
<polygon points="6.83,-3.98 10.46,-3.18 10.7,-1.49 7.12,-1.86" fill="#fff" stroke="#1a1a1a" stroke-width="1.26" stroke-linejoin="round"/>
<polygon points="7.12,1.86 10.7,1.49 10.46,3.18 6.83,3.98" fill="#fff" stroke="#1a1a1a" stroke-width="1.26" stroke-linejoin="round"/>
<polygon points="5.85,7.3 9.68,5.84 9.02,7.16 5.03,8.95" fill="#fff" stroke="#1a1a1a" stroke-width="1.26" stroke-linejoin="round"/>
<polygon points="3.28,11.12 7.63,8.9 6.7,9.56 2.12,11.94" fill="#fff" stroke="#1a1a1a" stroke-width="1.26" stroke-linejoin="round"/>
<polygon points="0,12.5 5,10 4,9.85 -1.25,12.31" fill="#fff" stroke="#1a1a1a" stroke-width="1.26" stroke-linejoin="round"/>
<ellipse cx="0" cy="0" rx="6.7" ry="11.62" fill="#fff" stroke="#1a1a1a" stroke-width="1.38"/>
</g>
<g transform="translate(403.64 348.67) rotate(-36)">
<polygon points="-3.29,-25.4 1.47,-26.83 3.96,-27.77 -0.93,-26.28" fill="#fff" stroke="#1a1a1a" stroke-width="1.38" stroke-linejoin="round"/>
<polygon points="1.1,-26.5 6.11,-28 8.64,-27.61 3.5,-26.13" fill="#fff" stroke="#1a1a1a" stroke-width="1.38" stroke-linejoin="round"/>
<polygon points="5.49,-25.29 10.74,-26.72 13.1,-25.04 7.72,-23.7" fill="#fff" stroke="#1a1a1a" stroke-width="1.38" stroke-linejoin="round"/>
<polygon points="9.47,-21.87 14.95,-23.1 16.93,-20.28 11.34,-19.19" fill="#fff" stroke="#1a1a1a" stroke-width="1.38" stroke-linejoin="round"/>
<polygon points="12.72,-16.53 18.39,-17.47 19.81,-13.75 14.07,-13.01" fill="#fff" stroke="#1a1a1a" stroke-width="1.38" stroke-linejoin="round"/>
<polygon points="14.95,-9.76 20.74,-10.31 21.48,-6.01 15.65,-5.69" fill="#fff" stroke="#1a1a1a" stroke-width="1.38" stroke-linejoin="round"/>
<polygon points="15.95,-2.13 21.8,-2.25 21.8,2.25 15.95,2.13" fill="#fff" stroke="#1a1a1a" stroke-width="1.38" stroke-linejoin="round"/>
<polygon points="15.65,5.69 21.48,6.01 20.74,10.31 14.95,9.76" fill="#fff" stroke="#1a1a1a" stroke-width="1.38" stroke-linejoin="round"/>
<polygon points="14.07,13.01 19.81,13.75 18.39,17.47 12.72,16.53" fill="#fff" stroke="#1a1a1a" stroke-width="1.38" stroke-linejoin="round"/>
<polygon points="11.34,19.19 16.93,20.28 14.95,23.1 9.47,21.87" fill="#fff" stroke="#1a1a1a" stroke-width="1.38" stroke-linejoin="round"/>
<polygon points="7.72,23.7 13.1,25.04 10.74,26.72 5.49,25.29" fill="#fff" stroke="#1a1a1a" stroke-width="1.38" stroke-linejoin="round"/>
<polygon points="3.5,26.13 8.64,27.61 6.11,28 1.1,26.5" fill="#fff" stroke="#1a1a1a" stroke-width="1.38" stroke-linejoin="round"/>
<polygon points="-0.93,26.28 3.96,27.77 1.47,26.83 -3.29,25.4" fill="#fff" stroke="#1a1a1a" stroke-width="1.38" stroke-linejoin="round"/>
<ellipse cx="0" cy="0" rx="15" ry="26.5" fill="#fff" stroke="#1a1a1a" stroke-width="1.61"/>
<ellipse cx="-1" cy="0" rx="12.9" ry="22.79" fill="none" stroke="#1a1a1a" stroke-width="1.15"/>
<ellipse cx="-2" cy="0" rx="9.3" ry="16.43" fill="none" stroke="#1a1a1a" stroke-width="1.49"/>
<ellipse cx="-3" cy="0" rx="7.5" ry="13.25" fill="none" stroke="#1a1a1a" stroke-width="1.15"/>
</g>
<g transform="translate(384.22 362.78) rotate(-36)">
<path d="M0 -19.5 L9 -19.5 A11.5 19.5 0 0 1 9 19.5 L0 19.5 A11.5 19.5 0 0 1 0 -19.5Z" fill="#fff" stroke="#1a1a1a" stroke-width="1.49" stroke-linejoin="round"/>
<ellipse cx="0" cy="0" rx="11.5" ry="19.5" fill="#fff" stroke="#1a1a1a" stroke-width="1.72"/>
</g>
<g transform="translate(384.22 362.78) rotate(-36)">
<ellipse cx="0" cy="0" rx="9.43" ry="15.99" fill="none" stroke="#1a1a1a" stroke-width="1.15"/>
</g>
<g transform="translate(384.22 362.78) rotate(-36)">
<ellipse cx="0" cy="0" rx="7.82" ry="13.26" fill="none" stroke="#1a1a1a" stroke-width="2.99"/>
</g>
<g transform="translate(384.22 362.78) rotate(-36)">
<ellipse cx="0" cy="0" rx="5.09" ry="8.62" fill="none" stroke="#1a1a1a" stroke-width="1.15"/>
</g>
<g transform="translate(324.35 406.27) rotate(-36)">
<rect x="0" y="-7.7" width="74.5" height="15.4" fill="#fff" stroke="none"/>
<path d="M0 -7.7 L74.5 -7.7 M0 7.7 L74.5 7.7" stroke="#1a1a1a" stroke-width="1.72" fill="none"/>
</g>
<g transform="translate(384.22 362.78) rotate(-36)">
<path d="M0 -8.62 A5.09 8.62 0 0 1 0 8.62" fill="none" stroke="#1a1a1a" stroke-width="1.38"/>
<path d="M0 -13.26 A7.82 13.26 0 0 1 0 13.26" fill="none" stroke="#1a1a1a" stroke-width="2.99"/>
</g>
<g transform="translate(319.5 409.8) rotate(-36)">
<path d="M0 -16.5 L7 -16.5 A10 16.5 0 0 1 7 16.5 L0 16.5 A10 16.5 0 0 1 0 -16.5Z" fill="#fff" stroke="#1a1a1a" stroke-width="1.49" stroke-linejoin="round"/>
<ellipse cx="0" cy="0" rx="10" ry="16.5" fill="#fff" stroke="#1a1a1a" stroke-width="1.72"/>
</g>
<g transform="translate(319.5 409.8) rotate(-36)">
<ellipse cx="0" cy="0" rx="8.2" ry="13.53" fill="none" stroke="#1a1a1a" stroke-width="1.15"/>
</g>
<g transform="translate(319.5 409.8) rotate(-36)">
<ellipse cx="0" cy="0" rx="6.8" ry="11.22" fill="none" stroke="#1a1a1a" stroke-width="2.99"/>
</g>
<g transform="translate(319.5 409.8) rotate(-36)">
<ellipse cx="0" cy="0" rx="5.23" ry="8.62" fill="none" stroke="#1a1a1a" stroke-width="1.15"/>
</g>
<g transform="translate(298.06 425.38) rotate(-36)">
<polygon points="3.35,-1.12 20.86,-4.03 22.92,-2.39 22.92,2.39 20.86,4.03 3.35,1.12" fill="#fff" stroke="#1a1a1a" stroke-width="1.72" stroke-linejoin="round"/>
<polygon points="2.65,-3.54 18.3,-12.89 20.7,-12.28 22.07,-8.04 20.6,-5.76 3.29,-1.54" fill="#fff" stroke="#1a1a1a" stroke-width="1.72" stroke-linejoin="round"/>
<polygon points="3.29,1.54 20.6,5.76 22.07,8.04 20.7,12.28 18.3,12.89 2.65,3.54" fill="#fff" stroke="#1a1a1a" stroke-width="1.72" stroke-linejoin="round"/>
<polygon points="1.34,-5.14 13.51,-18.8 15.91,-19.36 18.33,-16.64 17.58,-14.22 2.47,-3.86" fill="#fff" stroke="#1a1a1a" stroke-width="1.72" stroke-linejoin="round"/>
<polygon points="2.47,3.86 17.58,14.22 18.33,16.64 15.91,19.36 13.51,18.8 1.34,5.14" fill="#fff" stroke="#1a1a1a" stroke-width="1.72" stroke-linejoin="round"/>
<polygon points="1.09,5.29 12.49,19.43 12.58,21.42 9.66,22 7.58,20.4 -0.28,5.56" fill="#fff" stroke="#1a1a1a" stroke-width="1.72" stroke-linejoin="round"/>
<polygon points="-0.28,-5.56 7.58,-20.4 9.66,-22 12.58,-21.42 12.49,-19.43 1.09,-5.29" fill="#fff" stroke="#1a1a1a" stroke-width="1.72" stroke-linejoin="round"/>
<polygon points="-0.54,5.51 6.5,20.18 6.11,21.3 3.37,19.6 1.87,17.33 -1.83,4.71" fill="#fff" stroke="#1a1a1a" stroke-width="1.72" stroke-linejoin="round"/>
<polygon points="-1.83,-4.71 1.87,-17.33 3.37,-19.6 6.11,-21.3 6.5,-20.18 -0.54,-5.51" fill="#fff" stroke="#1a1a1a" stroke-width="1.72" stroke-linejoin="round"/>
<polygon points="-2.05,4.47 0.98,16.32 0.43,16.29 -1.52,12.71 -2.3,10.29 -2.97,2.78" fill="#fff" stroke="#1a1a1a" stroke-width="1.72" stroke-linejoin="round"/>
<polygon points="-2.97,-2.78 -2.3,-10.29 -1.52,-12.71 0.43,-16.29 0.98,-16.32 -2.05,-4.47" fill="#fff" stroke="#1a1a1a" stroke-width="1.72" stroke-linejoin="round"/>
<polygon points="-3.09,2.4 -2.81,8.71 -3.18,7.56 -3.88,2.91 -3.99,0.89 -3.42,0.22" fill="#fff" stroke="#1a1a1a" stroke-width="1.72" stroke-linejoin="round"/>
<polygon points="-3.42,-0.22 -3.99,-0.89 -3.88,-2.91 -3.18,-7.56 -2.81,-8.71 -3.09,-2.4" fill="#fff" stroke="#1a1a1a" stroke-width="1.72" stroke-linejoin="round"/>
<ellipse cx="0" cy="0" rx="3.99" ry="6.2" fill="#fff" stroke="#1a1a1a" stroke-width="2.99"/>
<ellipse cx="0.3" cy="0" rx="1.3" ry="1.8" fill="#1a1a1a" stroke="none"/>
</g>
<g transform="translate(291.07 431.07) rotate(-36)">
<ellipse cx="0" cy="0" rx="5.8" ry="7.8" fill="none" stroke="#1a1a1a" stroke-width="2.42"/>
</g>
<line x1="290.16" y1="429.81" x2="295.02" y2="431.57" stroke="#1a1a1a" stroke-width="0.92" stroke-linecap="butt"/>
<g transform="translate(792.33 71.9) rotate(-35)">
<polygon points="-1.82,-17.23 9.54,-13.79 11,-14 0,-17.5" fill="#fff" stroke="#1a1a1a" stroke-width="1.26" stroke-linejoin="round"/>
<polygon points="2.02,-17.17 12.62,-13.74 14.03,-13.06 3.78,-16.33" fill="#fff" stroke="#1a1a1a" stroke-width="1.26" stroke-linejoin="round"/>
<polygon points="5.6,-14.8 15.48,-11.84 16.64,-10.37 7.06,-12.96" fill="#fff" stroke="#1a1a1a" stroke-width="1.26" stroke-linejoin="round"/>
<polygon points="8.42,-10.45 17.74,-8.36 18.51,-6.28 9.38,-7.85" fill="#fff" stroke="#1a1a1a" stroke-width="1.26" stroke-linejoin="round"/>
<polygon points="10.12,-4.69 19.09,-3.75 19.36,-1.36 10.45,-1.69" fill="#fff" stroke="#1a1a1a" stroke-width="1.26" stroke-linejoin="round"/>
<polygon points="10.45,1.69 19.36,1.36 19.09,3.75 10.12,4.69" fill="#fff" stroke="#1a1a1a" stroke-width="1.26" stroke-linejoin="round"/>
<polygon points="9.38,7.85 18.51,6.28 17.74,8.36 8.42,10.45" fill="#fff" stroke="#1a1a1a" stroke-width="1.26" stroke-linejoin="round"/>
<polygon points="7.06,12.96 16.64,10.37 15.48,11.84 5.6,14.8" fill="#fff" stroke="#1a1a1a" stroke-width="1.26" stroke-linejoin="round"/>
<polygon points="3.78,16.33 14.03,13.06 12.62,13.74 2.02,17.17" fill="#fff" stroke="#1a1a1a" stroke-width="1.26" stroke-linejoin="round"/>
<polygon points="0,17.5 11,14 9.54,13.79 -1.82,17.23" fill="#fff" stroke="#1a1a1a" stroke-width="1.26" stroke-linejoin="round"/>
<ellipse cx="0" cy="0" rx="9.77" ry="16.28" fill="#fff" stroke="#1a1a1a" stroke-width="1.38"/>
</g>
<g transform="translate(792.33 71.9) rotate(-35)">
<ellipse cx="0" cy="0" rx="7.6" ry="13" fill="none" stroke="#1a1a1a" stroke-width="3.22"/>
</g>
<g transform="translate(811.17 58.71) rotate(-35)">
<ellipse cx="0" cy="0" rx="5.4" ry="8.3" fill="none" stroke="#1a1a1a" stroke-width="2.42"/>
</g>
<line x1="810.22" y1="57.35" x2="815.05" y2="59.54" stroke="#1a1a1a" stroke-width="0.92" stroke-linecap="butt"/>
<g transform="translate(780.86 79.93) rotate(-35)">
<path d="M0 -16.5 L7 -16.5 A10 16.5 0 0 1 7 16.5 L0 16.5 A10 16.5 0 0 1 0 -16.5Z" fill="#fff" stroke="#1a1a1a" stroke-width="1.49" stroke-linejoin="round"/>
<ellipse cx="0" cy="0" rx="10" ry="16.5" fill="#fff" stroke="#1a1a1a" stroke-width="1.72"/>
</g>
<g transform="translate(780.86 79.93) rotate(-35)">
<ellipse cx="0" cy="0" rx="8.2" ry="13.53" fill="none" stroke="#1a1a1a" stroke-width="1.15"/>
</g>
<g transform="translate(780.86 79.93) rotate(-35)">
<ellipse cx="0" cy="0" rx="6.8" ry="11.22" fill="none" stroke="#1a1a1a" stroke-width="2.99"/>
</g>
<g transform="translate(780.86 79.93) rotate(-35)">
<ellipse cx="0" cy="0" rx="5.23" ry="8.62" fill="none" stroke="#1a1a1a" stroke-width="1.15"/>
</g>
<g transform="translate(653.9 168.83) rotate(-35)">
<rect x="0" y="-7.6" width="155.5" height="15.2" fill="#fff" stroke="none"/>
<path d="M0 -7.6 L155.5 -7.6 M0 7.6 L155.5 7.6" stroke="#1a1a1a" stroke-width="1.72" fill="none"/>
</g>
<g transform="translate(780.86 79.93) rotate(-35)">
<path d="M0 -8.62 A5.23 8.62 0 0 1 0 8.62" fill="none" stroke="#1a1a1a" stroke-width="1.38"/>
<path d="M0 -11.22 A6.8 11.22 0 0 1 0 11.22" fill="none" stroke="#1a1a1a" stroke-width="2.99"/>
</g>
<g transform="translate(649.8 171.7) rotate(-35)">
<path d="M0 -16.5 L7 -16.5 A10 16.5 0 0 1 7 16.5 L0 16.5 A10 16.5 0 0 1 0 -16.5Z" fill="#fff" stroke="#1a1a1a" stroke-width="1.49" stroke-linejoin="round"/>
<ellipse cx="0" cy="0" rx="10" ry="16.5" fill="#fff" stroke="#1a1a1a" stroke-width="1.72"/>
</g>
<g transform="translate(649.8 171.7) rotate(-35)">
<ellipse cx="0" cy="0" rx="8.2" ry="13.53" fill="none" stroke="#1a1a1a" stroke-width="1.15"/>
</g>
<g transform="translate(649.8 171.7) rotate(-35)">
<ellipse cx="0" cy="0" rx="6.8" ry="11.22" fill="none" stroke="#1a1a1a" stroke-width="2.99"/>
</g>
<g transform="translate(649.8 171.7) rotate(-35)">
<ellipse cx="0" cy="0" rx="5.23" ry="8.62" fill="none" stroke="#1a1a1a" stroke-width="1.15"/>
</g>
<g transform="translate(630.55 185.18) rotate(-35)">
<polygon points="3.23,-1.12 17.7,-4.03 19.42,-2.39 19.42,2.39 17.7,4.03 3.23,1.12" fill="#fff" stroke="#1a1a1a" stroke-width="1.72" stroke-linejoin="round"/>
<polygon points="2.55,-3.54 15.24,-12.89 17.29,-12.28 18.6,-8.04 17.45,-5.76 3.17,-1.54" fill="#fff" stroke="#1a1a1a" stroke-width="1.72" stroke-linejoin="round"/>
<polygon points="3.17,1.54 17.45,5.76 18.6,8.04 17.29,12.28 15.24,12.89 2.55,3.54" fill="#fff" stroke="#1a1a1a" stroke-width="1.72" stroke-linejoin="round"/>
<polygon points="1.29,-5.14 10.62,-18.8 12.68,-19.36 15,-16.64 14.54,-14.22 2.38,-3.86" fill="#fff" stroke="#1a1a1a" stroke-width="1.72" stroke-linejoin="round"/>
<polygon points="2.38,3.86 14.54,14.22 15,16.64 12.68,19.36 10.62,18.8 1.29,5.14" fill="#fff" stroke="#1a1a1a" stroke-width="1.72" stroke-linejoin="round"/>
<polygon points="1.05,5.29 9.64,19.43 9.46,21.42 6.65,22 4.92,20.4 -0.27,5.56" fill="#fff" stroke="#1a1a1a" stroke-width="1.72" stroke-linejoin="round"/>
<polygon points="-0.27,-5.56 4.92,-20.4 6.65,-22 9.46,-21.42 9.64,-19.43 1.05,-5.29" fill="#fff" stroke="#1a1a1a" stroke-width="1.72" stroke-linejoin="round"/>
<polygon points="-0.52,5.51 3.87,20.18 3.24,21.3 0.6,19.6 -0.58,17.33 -1.77,4.71" fill="#fff" stroke="#1a1a1a" stroke-width="1.72" stroke-linejoin="round"/>
<polygon points="-1.77,-4.71 -0.58,-17.33 0.6,-19.6 3.24,-21.3 3.87,-20.18 -0.52,-5.51" fill="#fff" stroke="#1a1a1a" stroke-width="1.72" stroke-linejoin="round"/>
<polygon points="-1.98,4.47 -1.44,16.32 -2.24,16.29 -4.11,12.71 -4.6,10.29 -2.86,2.78" fill="#fff" stroke="#1a1a1a" stroke-width="1.72" stroke-linejoin="round"/>
<polygon points="-2.86,-2.78 -4.6,-10.29 -4.11,-12.71 -2.24,-16.29 -1.44,-16.32 -1.98,-4.47" fill="#fff" stroke="#1a1a1a" stroke-width="1.72" stroke-linejoin="round"/>
<polygon points="-2.98,2.4 -5.09,8.71 -5.71,7.56 -6.39,2.91 -6.23,0.89 -3.29,0.22" fill="#fff" stroke="#1a1a1a" stroke-width="1.72" stroke-linejoin="round"/>
<polygon points="-3.29,-0.22 -6.23,-0.89 -6.39,-2.91 -5.71,-7.56 -5.09,-8.71 -2.98,-2.4" fill="#fff" stroke="#1a1a1a" stroke-width="1.72" stroke-linejoin="round"/>
<ellipse cx="0" cy="0" rx="3.85" ry="6.2" fill="#fff" stroke="#1a1a1a" stroke-width="2.99"/>
<ellipse cx="0.3" cy="0" rx="1.3" ry="1.8" fill="#1a1a1a" stroke="none"/>
</g>
<g transform="translate(621.59 192.43) rotate(-35)">
<ellipse cx="0" cy="0" rx="6" ry="8.3" fill="none" stroke="#1a1a1a" stroke-width="2.53"/>
</g>
<line x1="620.64" y1="191.07" x2="625.71" y2="193.09" stroke="#1a1a1a" stroke-width="0.92" stroke-linecap="butt"/>
<g transform="translate(858.26 220.86) rotate(-35.5)">
<path d="M0 -37 L2.6 -37 A20.78 37 0 0 1 2.6 37 L0 37 A20.78 37 0 0 1 0 -37Z" fill="#fff" stroke="#1a1a1a" stroke-width="1.61" stroke-linejoin="round"/>
<ellipse cx="0" cy="0" rx="20.78" ry="37" fill="#fff" stroke="#1a1a1a" stroke-width="1.61"/>
</g>
<g transform="translate(873.93 248.18) rotate(-35.5)">
<ellipse cx="0" cy="0" rx="1.37" ry="1.9" fill="#fff" stroke="#1a1a1a" stroke-width="1.26"/>
</g>
<g transform="translate(858.99 245.46) rotate(-35.5)">
<ellipse cx="0" cy="0" rx="1.37" ry="1.9" fill="#fff" stroke="#1a1a1a" stroke-width="1.26"/>
</g>
<g transform="translate(843.71 231.24) rotate(-35.5)">
<ellipse cx="0" cy="0" rx="1.37" ry="1.9" fill="#fff" stroke="#1a1a1a" stroke-width="1.26"/>
</g>
<g transform="translate(835.24 212.16) rotate(-35.5)">
<ellipse cx="0" cy="0" rx="1.37" ry="1.9" fill="#fff" stroke="#1a1a1a" stroke-width="1.26"/>
</g>
<g transform="translate(837.94 196.65) rotate(-35.5)">
<ellipse cx="0" cy="0" rx="1.37" ry="1.9" fill="#fff" stroke="#1a1a1a" stroke-width="1.26"/>
</g>
<g transform="translate(849.53 193.24) rotate(-35.5)">
<ellipse cx="0" cy="0" rx="1.37" ry="1.9" fill="#fff" stroke="#1a1a1a" stroke-width="1.26"/>
</g>
<g transform="translate(863.64 200.51) rotate(-35.5)">
<ellipse cx="0" cy="0" rx="1.37" ry="1.9" fill="#fff" stroke="#1a1a1a" stroke-width="1.26"/>
</g>
<g transform="translate(858.26 220.86) rotate(-35.5)">
<ellipse cx="0" cy="0" rx="15.1" ry="27" fill="none" stroke="#1a1a1a" stroke-width="1.49"/>
</g>
<g transform="translate(852.97 224.64) rotate(-35.5)">
<ellipse cx="0" cy="0" rx="14.6" ry="26" fill="none" stroke="#1a1a1a" stroke-width="2.76"/>
</g>
<g transform="translate(846.86 228.99) rotate(-35.5)">
<path d="M0 -36.5 L2.6 -36.5 A20.5 36.5 0 0 1 2.6 36.5 L0 36.5 A20.5 36.5 0 0 1 0 -36.5Z" fill="#fff" stroke="#1a1a1a" stroke-width="1.61" stroke-linejoin="round"/>
<ellipse cx="0" cy="0" rx="20.5" ry="36.5" fill="#fff" stroke="#1a1a1a" stroke-width="1.61"/>
</g>
<g transform="translate(860.76 256.33) rotate(-35.5)">
<ellipse cx="0" cy="0" rx="1.37" ry="1.9" fill="#fff" stroke="#1a1a1a" stroke-width="1.26"/>
</g>
<g transform="translate(843.55 250.64) rotate(-35.5)">
<ellipse cx="0" cy="0" rx="1.37" ry="1.9" fill="#fff" stroke="#1a1a1a" stroke-width="1.26"/>
</g>
<g transform="translate(828.28 232.27) rotate(-35.5)">
<ellipse cx="0" cy="0" rx="1.37" ry="1.9" fill="#fff" stroke="#1a1a1a" stroke-width="1.26"/>
</g>
<g transform="translate(823.9 211.98) rotate(-35.5)">
<ellipse cx="0" cy="0" rx="1.37" ry="1.9" fill="#fff" stroke="#1a1a1a" stroke-width="1.26"/>
</g>
<g transform="translate(832.97 201.66) rotate(-35.5)">
<ellipse cx="0" cy="0" rx="1.37" ry="1.9" fill="#fff" stroke="#1a1a1a" stroke-width="1.26"/>
</g>
<g transform="translate(850.18 207.35) rotate(-35.5)">
<ellipse cx="0" cy="0" rx="1.37" ry="1.9" fill="#fff" stroke="#1a1a1a" stroke-width="1.26"/>
</g>
<g transform="translate(846.86 228.99) rotate(-35.5)">
<ellipse cx="0" cy="0" rx="15.4" ry="27.5" fill="none" stroke="#1a1a1a" stroke-width="1.49"/>
</g>
<g transform="translate(835.47 237.12) rotate(-35.5)">
<path d="M0 -29 L9 -29 A16.3 29 0 0 1 9 29 L0 29 A16.3 29 0 0 1 0 -29Z" fill="#fff" stroke="#1a1a1a" stroke-width="1.49" stroke-linejoin="round"/>
<ellipse cx="0" cy="0" rx="16.3" ry="29" fill="#fff" stroke="#1a1a1a" stroke-width="1.49"/>
</g>
<polygon points="769.8,234.7 784.7,224.8 788,227.3 805,209 809.6,204.9 820.4,196.6 826.2,202.4 850,215 866,240 869.3,257.9 862.7,266.2 856,277.8 804.6,312.7 799.7,311 790,290 775,262" fill="#fff" stroke="#1a1a1a" stroke-width="1.72" stroke-linejoin="round"/>
<polygon points="809.6,204.9 820.4,196.6 826.2,202.4 816,211" fill="#fff" stroke="#1a1a1a" stroke-width="1.49" stroke-linejoin="round"/>
<ellipse cx="817.5" cy="204" rx="1.6" ry="1.3" fill="#fff" stroke="#1a1a1a" stroke-width="1.15"/>
<path d="M771 236 L795 250 M784.7 224.8 L788 227.3 L796 220.5 M773 240 L790 262 L806 268 M790 262 L800 311" fill="none" stroke="#1a1a1a" stroke-width="1.38" stroke-linejoin="round" stroke-linecap="round" />
<path d="M816 276 L810 296 L800 311 M810 296 L856 266 M822 289 L823 296 L842 284 L841 278" fill="none" stroke="#1a1a1a" stroke-width="1.38" stroke-linejoin="round" stroke-linecap="round" />
<line x1="803" y1="309" x2="812" y2="303" stroke="#1a1a1a" stroke-width="3.45" stroke-linecap="butt"/>
<line x1="838" y1="285" x2="852" y2="276" stroke="#1a1a1a" stroke-width="2.53" stroke-linecap="butt"/>
<ellipse cx="860" cy="263" rx="2" ry="1.6" fill="#555" stroke="#1a1a1a" stroke-width="1.15"/>
<g transform="translate(825.4 242.2) rotate(33)">
<ellipse cx="-2" cy="3" rx="34.5" ry="32" fill="#fff" stroke="#1a1a1a" stroke-width="1.61"/>
<ellipse cx="0" cy="0" rx="34.5" ry="32" fill="#fff" stroke="#1a1a1a" stroke-width="1.84"/>
<ellipse cx="0" cy="0" rx="24.8" ry="22.6" fill="#fff" stroke="#1a1a1a" stroke-width="2.07"/>
<path d="M-22 9 A24.8 22.6 0 0 1 14 -18" fill="none" stroke="#1a1a1a" stroke-width="1.15" transform="translate(1.5 -2.5)"/>
<ellipse cx="29.69" cy="2.39" rx="1.9" ry="1.8" fill="#fff" stroke="#1a1a1a" stroke-width="1.26"/>
<ellipse cx="19.16" cy="20.99" rx="1.9" ry="1.8" fill="#fff" stroke="#1a1a1a" stroke-width="1.26"/>
<ellipse cx="-2.6" cy="27.3" rx="1.9" ry="1.8" fill="#fff" stroke="#1a1a1a" stroke-width="1.26"/>
<ellipse cx="-22.83" cy="17.61" rx="1.9" ry="1.8" fill="#fff" stroke="#1a1a1a" stroke-width="1.26"/>
<ellipse cx="-29.69" cy="-2.39" rx="1.9" ry="1.8" fill="#fff" stroke="#1a1a1a" stroke-width="1.26"/>
<ellipse cx="-19.16" cy="-20.99" rx="1.9" ry="1.8" fill="#fff" stroke="#1a1a1a" stroke-width="1.26"/>
<ellipse cx="2.6" cy="-27.3" rx="1.9" ry="1.8" fill="#fff" stroke="#1a1a1a" stroke-width="1.26"/>
<ellipse cx="22.83" cy="-17.61" rx="1.9" ry="1.8" fill="#fff" stroke="#1a1a1a" stroke-width="1.26"/>
</g>
<path d="M808 232 L822 248 L838 236 M822 248 L820 262 M812 229 L825 244 M806 240 C808 228 814 222 822 221 M811 236 l3 4 l3 -2 l-3 -4z" fill="none" stroke="#1a1a1a" stroke-width="1.38" stroke-linejoin="round" stroke-linecap="round" />
<g transform="translate(833 240) rotate(33)">
<ellipse cx="0" cy="0" rx="8" ry="17" fill="none" stroke="#1a1a1a" stroke-width="1.49"/>
<path d="M4 -15 C9 -6 9 6 4 15 M8 -12 C12 -5 12 5 8 12" fill="none" stroke="#1a1a1a" stroke-width="1.15"/>
</g>
<ellipse cx="834" cy="258" rx="4" ry="2.6" fill="none" stroke="#1a1a1a" stroke-width="1.38" transform="rotate(20 834 258)"/>
<g transform="translate(776.04 279.51) rotate(-35.5)">
<path d="M0 -31 L9 -31 A17.5 31 0 0 1 9 31 L0 31 A17.5 31 0 0 1 0 -31Z" fill="#fff" stroke="#1a1a1a" stroke-width="1.61" stroke-linejoin="round"/>
<ellipse cx="0" cy="0" rx="17.5" ry="31" fill="#fff" stroke="#1a1a1a" stroke-width="1.61"/>
</g>
<g transform="translate(761.35 256.61) rotate(-35.5)">
<ellipse cx="0" cy="0" rx="1.26" ry="1.7" fill="#fff" stroke="#1a1a1a" stroke-width="1.26"/>
</g>
<g transform="translate(770.25 256.19) rotate(-35.5)">
<ellipse cx="0" cy="0" rx="1.26" ry="1.7" fill="#fff" stroke="#1a1a1a" stroke-width="1.26"/>
</g>
<g transform="translate(780.7 262.02) rotate(-35.5)">
<ellipse cx="0" cy="0" rx="1.26" ry="1.7" fill="#fff" stroke="#1a1a1a" stroke-width="1.26"/>
</g>
<g transform="translate(789.91 272.54) rotate(-35.5)">
<ellipse cx="0" cy="0" rx="1.26" ry="1.7" fill="#fff" stroke="#1a1a1a" stroke-width="1.26"/>
</g>
<g transform="translate(795.82 286.94) rotate(-35.5)">
<ellipse cx="0" cy="0" rx="1.26" ry="1.7" fill="#fff" stroke="#1a1a1a" stroke-width="1.26"/>
</g>
<g transform="translate(794.58 298.65) rotate(-35.5)">
<ellipse cx="0" cy="0" rx="1.26" ry="1.7" fill="#fff" stroke="#1a1a1a" stroke-width="1.26"/>
</g>
<g transform="translate(771.97 282.42) rotate(-35.5)">
<path d="M0 -36.5 L2.6 -36.5 A20.5 36.5 0 0 1 2.6 36.5 L0 36.5 A20.5 36.5 0 0 1 0 -36.5Z" fill="#fff" stroke="#1a1a1a" stroke-width="1.72" stroke-linejoin="round"/>
<ellipse cx="0" cy="0" rx="20.5" ry="36.5" fill="#fff" stroke="#1a1a1a" stroke-width="1.72"/>
</g>
<g transform="translate(753.25 257.23) rotate(-35.5)">
<ellipse cx="0" cy="0" rx="1.54" ry="2.2" fill="#fff" stroke="#1a1a1a" stroke-width="1.26"/>
</g>
<g transform="translate(774.48 260.19) rotate(-35.5)">
<ellipse cx="0" cy="0" rx="1.54" ry="2.2" fill="#fff" stroke="#1a1a1a" stroke-width="1.26"/>
</g>
<g transform="translate(793.2 285.37) rotate(-35.5)">
<ellipse cx="0" cy="0" rx="1.54" ry="2.2" fill="#fff" stroke="#1a1a1a" stroke-width="1.26"/>
</g>
<g transform="translate(790.68 307.6) rotate(-35.5)">
<ellipse cx="0" cy="0" rx="1.54" ry="2.2" fill="#fff" stroke="#1a1a1a" stroke-width="1.26"/>
</g>
<g transform="translate(769.45 304.64) rotate(-35.5)">
<ellipse cx="0" cy="0" rx="1.54" ry="2.2" fill="#fff" stroke="#1a1a1a" stroke-width="1.26"/>
</g>
<g transform="translate(750.74 279.46) rotate(-35.5)">
<ellipse cx="0" cy="0" rx="1.54" ry="2.2" fill="#fff" stroke="#1a1a1a" stroke-width="1.26"/>
</g>
<line x1="762.05" y1="258.74" x2="757.17" y2="262.22" stroke="#1a1a1a" stroke-width="1.72" stroke-linecap="butt"/>
<line x1="766.54" y1="259.46" x2="761.65" y2="262.94" stroke="#1a1a1a" stroke-width="1.72" stroke-linecap="butt"/>
<line x1="771.34" y1="261.54" x2="766.46" y2="265.03" stroke="#1a1a1a" stroke-width="1.72" stroke-linecap="butt"/>
<line x1="780.78" y1="269.23" x2="775.9" y2="272.72" stroke="#1a1a1a" stroke-width="1.72" stroke-linecap="butt"/>
<line x1="784.85" y1="274.38" x2="779.97" y2="277.87" stroke="#1a1a1a" stroke-width="1.72" stroke-linecap="butt"/>
<line x1="788.15" y1="280.01" x2="783.27" y2="283.49" stroke="#1a1a1a" stroke-width="1.72" stroke-linecap="butt"/>
<line x1="791.74" y1="291.35" x2="786.85" y2="294.84" stroke="#1a1a1a" stroke-width="1.72" stroke-linecap="butt"/>
<line x1="791.8" y1="296.39" x2="786.92" y2="299.88" stroke="#1a1a1a" stroke-width="1.72" stroke-linecap="butt"/>
<line x1="790.69" y1="300.6" x2="785.81" y2="304.08" stroke="#1a1a1a" stroke-width="1.72" stroke-linecap="butt"/>
<g transform="translate(771.97 282.42) rotate(-35.5)">
<ellipse cx="0" cy="0" rx="15.4" ry="27.5" fill="none" stroke="#1a1a1a" stroke-width="1.49"/>
</g>
<g transform="translate(760.57 290.55) rotate(-35.5)">
<path d="M0 -36.5 L2.6 -36.5 A20.5 36.5 0 0 1 2.6 36.5 L0 36.5 A20.5 36.5 0 0 1 0 -36.5Z" fill="#fff" stroke="#1a1a1a" stroke-width="1.72" stroke-linejoin="round"/>
<ellipse cx="0" cy="0" rx="20.5" ry="36.5" fill="#fff" stroke="#1a1a1a" stroke-width="1.72"/>
</g>
<g transform="translate(741.85 265.36) rotate(-35.5)">
<ellipse cx="0" cy="0" rx="1.54" ry="2.2" fill="#fff" stroke="#1a1a1a" stroke-width="1.26"/>
</g>
<g transform="translate(763.08 268.32) rotate(-35.5)">
<ellipse cx="0" cy="0" rx="1.54" ry="2.2" fill="#fff" stroke="#1a1a1a" stroke-width="1.26"/>
</g>
<g transform="translate(781.8 293.5) rotate(-35.5)">
<ellipse cx="0" cy="0" rx="1.54" ry="2.2" fill="#fff" stroke="#1a1a1a" stroke-width="1.26"/>
</g>
<g transform="translate(779.29 315.73) rotate(-35.5)">
<ellipse cx="0" cy="0" rx="1.54" ry="2.2" fill="#fff" stroke="#1a1a1a" stroke-width="1.26"/>
</g>
<g transform="translate(758.06 312.77) rotate(-35.5)">
<ellipse cx="0" cy="0" rx="1.54" ry="2.2" fill="#fff" stroke="#1a1a1a" stroke-width="1.26"/>
</g>
<g transform="translate(739.34 287.59) rotate(-35.5)">
<ellipse cx="0" cy="0" rx="1.54" ry="2.2" fill="#fff" stroke="#1a1a1a" stroke-width="1.26"/>
</g>
<g transform="translate(760.57 290.55) rotate(-35.5)">
<ellipse cx="0" cy="0" rx="14.7" ry="26.2" fill="none" stroke="#1a1a1a" stroke-width="1.61"/>
</g>
<g transform="translate(632.26 382.07) rotate(-35.5)">
<rect x="0" y="-24.5" width="157.6" height="49" fill="#fff" stroke="none"/>
<path d="M0 -24.5 L157.6 -24.5 M0 24.5 L157.6 24.5" stroke="#1a1a1a" stroke-width="1.72" fill="none"/>
</g>
<g transform="translate(632.26 382.07) rotate(-35.5)">
<path d="M0 -36.5 L2.6 -36.5 A20.5 36.5 0 0 1 2.6 36.5 L0 36.5 A20.5 36.5 0 0 1 0 -36.5Z" fill="#fff" stroke="#1a1a1a" stroke-width="1.61" stroke-linejoin="round"/>
<ellipse cx="0" cy="0" rx="20.5" ry="36.5" fill="#fff" stroke="#1a1a1a" stroke-width="1.61"/>
</g>
<g transform="translate(647.72 409.01) rotate(-35.5)">
<ellipse cx="0" cy="0" rx="1.37" ry="1.9" fill="#fff" stroke="#1a1a1a" stroke-width="1.26"/>
</g>
<g transform="translate(632.99 406.33) rotate(-35.5)">
<ellipse cx="0" cy="0" rx="1.37" ry="1.9" fill="#fff" stroke="#1a1a1a" stroke-width="1.26"/>
</g>
<g transform="translate(617.91 392.3) rotate(-35.5)">
<ellipse cx="0" cy="0" rx="1.37" ry="1.9" fill="#fff" stroke="#1a1a1a" stroke-width="1.26"/>
</g>
<g transform="translate(609.55 373.48) rotate(-35.5)">
<ellipse cx="0" cy="0" rx="1.37" ry="1.9" fill="#fff" stroke="#1a1a1a" stroke-width="1.26"/>
</g>
<g transform="translate(612.22 358.18) rotate(-35.5)">
<ellipse cx="0" cy="0" rx="1.37" ry="1.9" fill="#fff" stroke="#1a1a1a" stroke-width="1.26"/>
</g>
<g transform="translate(623.65 354.81) rotate(-35.5)">
<ellipse cx="0" cy="0" rx="1.37" ry="1.9" fill="#fff" stroke="#1a1a1a" stroke-width="1.26"/>
</g>
<g transform="translate(637.57 361.99) rotate(-35.5)">
<ellipse cx="0" cy="0" rx="1.37" ry="1.9" fill="#fff" stroke="#1a1a1a" stroke-width="1.26"/>
</g>
<g transform="translate(632.26 382.07) rotate(-35.5)">
<ellipse cx="0" cy="0" rx="15.1" ry="27" fill="none" stroke="#1a1a1a" stroke-width="1.49"/>
</g>
<g transform="translate(627.38 385.55) rotate(-35.5)">
<ellipse cx="0" cy="0" rx="14.6" ry="26" fill="none" stroke="#1a1a1a" stroke-width="2.76"/>
</g>
<g transform="translate(621.68 389.61) rotate(-35.5)">
<path d="M0 -36.5 L2.6 -36.5 A20.5 36.5 0 0 1 2.6 36.5 L0 36.5 A20.5 36.5 0 0 1 0 -36.5Z" fill="#fff" stroke="#1a1a1a" stroke-width="1.61" stroke-linejoin="round"/>
<ellipse cx="0" cy="0" rx="20.5" ry="36.5" fill="#fff" stroke="#1a1a1a" stroke-width="1.61"/>
</g>
<g transform="translate(635.57 416.95) rotate(-35.5)">
<ellipse cx="0" cy="0" rx="1.37" ry="1.9" fill="#fff" stroke="#1a1a1a" stroke-width="1.26"/>
</g>
<g transform="translate(618.36 411.26) rotate(-35.5)">
<ellipse cx="0" cy="0" rx="1.37" ry="1.9" fill="#fff" stroke="#1a1a1a" stroke-width="1.26"/>
</g>
<g transform="translate(603.1 392.89) rotate(-35.5)">
<ellipse cx="0" cy="0" rx="1.37" ry="1.9" fill="#fff" stroke="#1a1a1a" stroke-width="1.26"/>
</g>
<g transform="translate(598.72 372.6) rotate(-35.5)">
<ellipse cx="0" cy="0" rx="1.37" ry="1.9" fill="#fff" stroke="#1a1a1a" stroke-width="1.26"/>
</g>
<g transform="translate(607.79 362.28) rotate(-35.5)">
<ellipse cx="0" cy="0" rx="1.37" ry="1.9" fill="#fff" stroke="#1a1a1a" stroke-width="1.26"/>
</g>
<g transform="translate(625 367.97) rotate(-35.5)">
<ellipse cx="0" cy="0" rx="1.37" ry="1.9" fill="#fff" stroke="#1a1a1a" stroke-width="1.26"/>
</g>
<g transform="translate(621.68 389.61) rotate(-35.5)">
<ellipse cx="0" cy="0" rx="15.4" ry="27.5" fill="none" stroke="#1a1a1a" stroke-width="1.49"/>
</g>
<g transform="translate(611.91 396.58) rotate(-35.5)">
<path d="M0 -29 L9 -29 A16.3 29 0 0 1 9 29 L0 29 A16.3 29 0 0 1 0 -29Z" fill="#fff" stroke="#1a1a1a" stroke-width="1.49" stroke-linejoin="round"/>
<ellipse cx="0" cy="0" rx="16.3" ry="29" fill="#fff" stroke="#1a1a1a" stroke-width="1.49"/>
</g>
<polygon points="533.19,396.2 583.67,360.19 636.9,393.9 636.9,435.3 586.42,471.3 533.19,437.6" fill="#fff" stroke="#1a1a1a" stroke-width="1.61" stroke-linejoin="round"/>
<polygon points="574.67,359.19 582.67,353.69 588.67,357.69 580.67,363.19" fill="#fff" stroke="#1a1a1a" stroke-width="1.49" stroke-linejoin="round"/>
<ellipse cx="581.67" cy="358.44" rx="1.6" ry="1.9" fill="#fff" stroke="#1a1a1a" stroke-width="1.15"/>
<line x1="539.95" y1="400.48" x2="547.06" y2="388.44" stroke="#1a1a1a" stroke-width="1.26" stroke-linecap="butt"/>
<line x1="586.42" y1="429.9" x2="636.9" y2="393.9" stroke="#1a1a1a" stroke-width="1.38" stroke-linecap="butt"/>
<line x1="586.42" y1="429.9" x2="533.19" y2="396.2" stroke="#1a1a1a" stroke-width="1.38" stroke-linecap="butt"/>
<line x1="586.42" y1="429.9" x2="586.42" y2="471.3" stroke="#1a1a1a" stroke-width="1.61" stroke-linecap="butt"/>
<line x1="545.77" y1="400.87" x2="568.19" y2="400.81" stroke="#1a1a1a" stroke-width="1.26" stroke-linecap="butt"/>
<line x1="572.84" y1="420.11" x2="597.7" y2="418.31" stroke="#1a1a1a" stroke-width="1.26" stroke-linecap="butt"/>
<polygon points="627.94,403.28 636.94,396.98 636.94,405.98 627.94,412.28" fill="#fff" stroke="#1a1a1a" stroke-width="1.49" stroke-linejoin="round"/>
<ellipse cx="632.44" cy="404.63" rx="1.6" ry="1.9" fill="#fff" stroke="#1a1a1a" stroke-width="1.15"/>
<polygon points="588.87,434.16 597.87,427.86 597.87,436.86 588.87,443.16" fill="#fff" stroke="#1a1a1a" stroke-width="1.49" stroke-linejoin="round"/>
<ellipse cx="593.37" cy="435.51" rx="1.6" ry="1.9" fill="#fff" stroke="#1a1a1a" stroke-width="1.15"/>
<polygon points="627.94,428.68 636.94,422.38 636.94,431.38 627.94,437.68" fill="#fff" stroke="#1a1a1a" stroke-width="1.49" stroke-linejoin="round"/>
<ellipse cx="632.44" cy="430.03" rx="1.6" ry="1.9" fill="#fff" stroke="#1a1a1a" stroke-width="1.15"/>
<polygon points="588.87,459.56 597.87,453.26 597.87,462.26 588.87,468.56" fill="#fff" stroke="#1a1a1a" stroke-width="1.49" stroke-linejoin="round"/>
<ellipse cx="593.37" cy="460.91" rx="1.6" ry="1.9" fill="#fff" stroke="#1a1a1a" stroke-width="1.15"/>
<path d="M606.78 455.78 L609.78 448.78 L618.8 437.49 L619.8 446.49" fill="#fff" stroke="#1a1a1a" stroke-width="1.38" stroke-linejoin="round" stroke-linecap="round" />
<line x1="608.41" y1="452.62" x2="618.18" y2="445.65" stroke="#1a1a1a" stroke-width="2.99" stroke-linecap="butt"/>
<line x1="588.42" y1="468.8" x2="628.9" y2="433.8" stroke="#1a1a1a" stroke-width="1.03" stroke-linecap="butt"/>
<line x1="588.92" y1="468.3" x2="588.92" y2="437.9" stroke="#1a1a1a" stroke-width="1.03" stroke-linecap="butt"/>
<g transform="translate(584.74 389.55) rotate(-12)">
<path d="M-35 0 L-35 3.2 A35 23 0 0 0 35 3.2 L35 0Z" fill="#fff" stroke="#1a1a1a" stroke-width="1.61"/>
<ellipse cx="0" cy="0" rx="35" ry="23" fill="#fff" stroke="#1a1a1a" stroke-width="1.84"/>
<ellipse cx="0" cy="0.2" rx="24.8" ry="16.2" fill="#fff" stroke="#1a1a1a" stroke-width="2.53"/>
<ellipse cx="-21.21" cy="-13.79" rx="2.1" ry="1.6" fill="#fff" stroke="#1a1a1a" stroke-width="1.26"/>
<ellipse cx="7.76" cy="-18.84" rx="2.1" ry="1.6" fill="#fff" stroke="#1a1a1a" stroke-width="1.26"/>
<ellipse cx="28.98" cy="-5.05" rx="2.1" ry="1.6" fill="#fff" stroke="#1a1a1a" stroke-width="1.26"/>
<ellipse cx="21.21" cy="13.79" rx="2.1" ry="1.6" fill="#fff" stroke="#1a1a1a" stroke-width="1.26"/>
<ellipse cx="-7.76" cy="18.84" rx="2.1" ry="1.6" fill="#fff" stroke="#1a1a1a" stroke-width="1.26"/>
<ellipse cx="-28.98" cy="5.05" rx="2.1" ry="1.6" fill="#fff" stroke="#1a1a1a" stroke-width="1.26"/>
</g>
<path d="M562.33 390.04 C565.12 387.85 569.31 389.25 569.11 393.23 C568.91 396.22 566.92 398.21 564.92 398.61 " fill="none" stroke="#1a1a1a" stroke-width="1.72" stroke-linejoin="round" stroke-linecap="round" />
<path d="M563.33 397.02 C570.1 405.98 596 407.97 608.95 396.22 " fill="none" stroke="#1a1a1a" stroke-width="1.38" stroke-linejoin="round" stroke-linecap="round" />
<path d="M585.54 374.11 L585.54 405.98 M583.85 380.08 L584.05 400 " fill="none" stroke="#1a1a1a" stroke-width="1.49" stroke-linejoin="round" stroke-linecap="round" />
<ellipse cx="586.84" cy="383.87" rx="2.1" ry="3.4" fill="#fff" stroke="#1a1a1a" stroke-width="2.18" transform="rotate(-15 586.84 383.87)"/>
<ellipse cx="586.84" cy="383.87" rx="0.7" ry="1.2" fill="#333" stroke="#1a1a1a" stroke-width="0.92" transform="rotate(-15 586.84 383.87)"/>
<path d="M576.58 403.99 L584.55 398.51 M579.27 405.98 L587.04 400.5 M588.03 394.03 L592.02 403.99 " fill="none" stroke="#1a1a1a" stroke-width="1.72" stroke-linejoin="round" stroke-linecap="round" />
<path d="M594.01 380.08 C597.99 376.3 605.46 378.59 609.15 386.06 " fill="none" stroke="#1a1a1a" stroke-width="1.49" stroke-linejoin="round" stroke-linecap="round" />
<path d="M594.51 380.08 C591.82 387.06 593.01 397.02 598.19 402.2 M598.99 379.29 C596.6 386.06 597.99 395.02 602.57 400.2 M603.17 380.08 C601.58 385.06 602.57 392.04 606.16 397.02 " fill="none" stroke="#1a1a1a" stroke-width="1.84" stroke-linejoin="round" stroke-linecap="round" />
<g transform="translate(552.48 438.97) rotate(-35.5)">
<path d="M0 -31 L9 -31 A17.5 31 0 0 1 9 31 L0 31 A17.5 31 0 0 1 0 -31Z" fill="#fff" stroke="#1a1a1a" stroke-width="1.61" stroke-linejoin="round"/>
<ellipse cx="0" cy="0" rx="17.5" ry="31" fill="#fff" stroke="#1a1a1a" stroke-width="1.61"/>
</g>
<g transform="translate(537.79 416.07) rotate(-35.5)">
<ellipse cx="0" cy="0" rx="1.26" ry="1.7" fill="#fff" stroke="#1a1a1a" stroke-width="1.26"/>
</g>
<g transform="translate(546.69 415.65) rotate(-35.5)">
<ellipse cx="0" cy="0" rx="1.26" ry="1.7" fill="#fff" stroke="#1a1a1a" stroke-width="1.26"/>
</g>
<g transform="translate(557.15 421.48) rotate(-35.5)">
<ellipse cx="0" cy="0" rx="1.26" ry="1.7" fill="#fff" stroke="#1a1a1a" stroke-width="1.26"/>
</g>
<g transform="translate(566.35 432) rotate(-35.5)">
<ellipse cx="0" cy="0" rx="1.26" ry="1.7" fill="#fff" stroke="#1a1a1a" stroke-width="1.26"/>
</g>
<g transform="translate(572.27 446.4) rotate(-35.5)">
<ellipse cx="0" cy="0" rx="1.26" ry="1.7" fill="#fff" stroke="#1a1a1a" stroke-width="1.26"/>
</g>
<g transform="translate(571.03 458.11) rotate(-35.5)">
<ellipse cx="0" cy="0" rx="1.26" ry="1.7" fill="#fff" stroke="#1a1a1a" stroke-width="1.26"/>
</g>
<g transform="translate(548.41 441.88) rotate(-35.5)">
<path d="M0 -36.5 L2.6 -36.5 A20.5 36.5 0 0 1 2.6 36.5 L0 36.5 A20.5 36.5 0 0 1 0 -36.5Z" fill="#fff" stroke="#1a1a1a" stroke-width="1.72" stroke-linejoin="round"/>
<ellipse cx="0" cy="0" rx="20.5" ry="36.5" fill="#fff" stroke="#1a1a1a" stroke-width="1.72"/>
</g>
<g transform="translate(529.69 416.7) rotate(-35.5)">
<ellipse cx="0" cy="0" rx="1.54" ry="2.2" fill="#fff" stroke="#1a1a1a" stroke-width="1.26"/>
</g>
<g transform="translate(550.92 419.65) rotate(-35.5)">
<ellipse cx="0" cy="0" rx="1.54" ry="2.2" fill="#fff" stroke="#1a1a1a" stroke-width="1.26"/>
</g>
<g transform="translate(569.64 444.84) rotate(-35.5)">
<ellipse cx="0" cy="0" rx="1.54" ry="2.2" fill="#fff" stroke="#1a1a1a" stroke-width="1.26"/>
</g>
<g transform="translate(567.13 467.06) rotate(-35.5)">
<ellipse cx="0" cy="0" rx="1.54" ry="2.2" fill="#fff" stroke="#1a1a1a" stroke-width="1.26"/>
</g>
<g transform="translate(545.9 464.1) rotate(-35.5)">
<ellipse cx="0" cy="0" rx="1.54" ry="2.2" fill="#fff" stroke="#1a1a1a" stroke-width="1.26"/>
</g>
<g transform="translate(527.18 438.92) rotate(-35.5)">
<ellipse cx="0" cy="0" rx="1.54" ry="2.2" fill="#fff" stroke="#1a1a1a" stroke-width="1.26"/>
</g>
<line x1="538.5" y1="418.2" x2="533.61" y2="421.68" stroke="#1a1a1a" stroke-width="1.72" stroke-linecap="butt"/>
<line x1="542.98" y1="418.92" x2="538.1" y2="422.4" stroke="#1a1a1a" stroke-width="1.72" stroke-linecap="butt"/>
<line x1="547.79" y1="421" x2="542.9" y2="424.49" stroke="#1a1a1a" stroke-width="1.72" stroke-linecap="butt"/>
<line x1="557.23" y1="428.69" x2="552.34" y2="432.18" stroke="#1a1a1a" stroke-width="1.72" stroke-linecap="butt"/>
<line x1="561.29" y1="433.84" x2="556.41" y2="437.33" stroke="#1a1a1a" stroke-width="1.72" stroke-linecap="butt"/>
<line x1="564.6" y1="439.47" x2="559.71" y2="442.96" stroke="#1a1a1a" stroke-width="1.72" stroke-linecap="butt"/>
<line x1="568.18" y1="450.81" x2="563.3" y2="454.3" stroke="#1a1a1a" stroke-width="1.72" stroke-linecap="butt"/>
<line x1="568.25" y1="455.85" x2="563.36" y2="459.34" stroke="#1a1a1a" stroke-width="1.72" stroke-linecap="butt"/>
<line x1="567.14" y1="460.06" x2="562.25" y2="463.55" stroke="#1a1a1a" stroke-width="1.72" stroke-linecap="butt"/>
<g transform="translate(548.41 441.88) rotate(-35.5)">
<ellipse cx="0" cy="0" rx="15.4" ry="27.5" fill="none" stroke="#1a1a1a" stroke-width="1.49"/>
</g>
<g transform="translate(537.01 450.01) rotate(-35.5)">
<path d="M0 -36.5 L2.6 -36.5 A20.5 36.5 0 0 1 2.6 36.5 L0 36.5 A20.5 36.5 0 0 1 0 -36.5Z" fill="#fff" stroke="#1a1a1a" stroke-width="1.72" stroke-linejoin="round"/>
<ellipse cx="0" cy="0" rx="20.5" ry="36.5" fill="#fff" stroke="#1a1a1a" stroke-width="1.72"/>
</g>
<g transform="translate(518.29 424.83) rotate(-35.5)">
<ellipse cx="0" cy="0" rx="1.54" ry="2.2" fill="#fff" stroke="#1a1a1a" stroke-width="1.26"/>
</g>
<g transform="translate(539.52 427.78) rotate(-35.5)">
<ellipse cx="0" cy="0" rx="1.54" ry="2.2" fill="#fff" stroke="#1a1a1a" stroke-width="1.26"/>
</g>
<g transform="translate(558.24 452.97) rotate(-35.5)">
<ellipse cx="0" cy="0" rx="1.54" ry="2.2" fill="#fff" stroke="#1a1a1a" stroke-width="1.26"/>
</g>
<g transform="translate(555.73 475.19) rotate(-35.5)">
<ellipse cx="0" cy="0" rx="1.54" ry="2.2" fill="#fff" stroke="#1a1a1a" stroke-width="1.26"/>
</g>
<g transform="translate(534.5 472.23) rotate(-35.5)">
<ellipse cx="0" cy="0" rx="1.54" ry="2.2" fill="#fff" stroke="#1a1a1a" stroke-width="1.26"/>
</g>
<g transform="translate(515.78 447.05) rotate(-35.5)">
<ellipse cx="0" cy="0" rx="1.54" ry="2.2" fill="#fff" stroke="#1a1a1a" stroke-width="1.26"/>
</g>
<g transform="translate(537.01 450.01) rotate(-35.5)">
<ellipse cx="0" cy="0" rx="14.7" ry="26.2" fill="none" stroke="#1a1a1a" stroke-width="1.61"/>
</g>
<g transform="translate(464.72 501.57) rotate(-35.5)">
<rect x="0" y="-24.5" width="88.8" height="49" fill="#fff" stroke="none"/>
<path d="M0 -24.5 L88.8 -24.5 M0 24.5 L88.8 24.5" stroke="#1a1a1a" stroke-width="1.72" fill="none"/>
</g>
<g transform="translate(464.72 501.57) rotate(-35.5)">
<path d="M0 -36.5 L2.6 -36.5 A20.5 36.5 0 0 1 2.6 36.5 L0 36.5 A20.5 36.5 0 0 1 0 -36.5Z" fill="#fff" stroke="#1a1a1a" stroke-width="1.61" stroke-linejoin="round"/>
<ellipse cx="0" cy="0" rx="20.5" ry="36.5" fill="#fff" stroke="#1a1a1a" stroke-width="1.61"/>
</g>
<g transform="translate(480.18 528.52) rotate(-35.5)">
<ellipse cx="0" cy="0" rx="1.37" ry="1.9" fill="#fff" stroke="#1a1a1a" stroke-width="1.26"/>
</g>
<g transform="translate(465.44 525.84) rotate(-35.5)">
<ellipse cx="0" cy="0" rx="1.37" ry="1.9" fill="#fff" stroke="#1a1a1a" stroke-width="1.26"/>
</g>
<g transform="translate(450.37 511.81) rotate(-35.5)">
<ellipse cx="0" cy="0" rx="1.37" ry="1.9" fill="#fff" stroke="#1a1a1a" stroke-width="1.26"/>
</g>
<g transform="translate(442.01 492.99) rotate(-35.5)">
<ellipse cx="0" cy="0" rx="1.37" ry="1.9" fill="#fff" stroke="#1a1a1a" stroke-width="1.26"/>
</g>
<g transform="translate(444.67 477.69) rotate(-35.5)">
<ellipse cx="0" cy="0" rx="1.37" ry="1.9" fill="#fff" stroke="#1a1a1a" stroke-width="1.26"/>
</g>
<g transform="translate(456.11 474.32) rotate(-35.5)">
<ellipse cx="0" cy="0" rx="1.37" ry="1.9" fill="#fff" stroke="#1a1a1a" stroke-width="1.26"/>
</g>
<g transform="translate(470.02 481.5) rotate(-35.5)">
<ellipse cx="0" cy="0" rx="1.37" ry="1.9" fill="#fff" stroke="#1a1a1a" stroke-width="1.26"/>
</g>
<g transform="translate(464.72 501.57) rotate(-35.5)">
<ellipse cx="0" cy="0" rx="15.1" ry="27" fill="none" stroke="#1a1a1a" stroke-width="1.49"/>
</g>
<g transform="translate(459.83 505.06) rotate(-35.5)">
<ellipse cx="0" cy="0" rx="14.6" ry="26" fill="none" stroke="#1a1a1a" stroke-width="2.76"/>
</g>
<g transform="translate(454.14 509.12) rotate(-35.5)">
<path d="M0 -36.5 L2.6 -36.5 A20.5 36.5 0 0 1 2.6 36.5 L0 36.5 A20.5 36.5 0 0 1 0 -36.5Z" fill="#fff" stroke="#1a1a1a" stroke-width="1.61" stroke-linejoin="round"/>
<ellipse cx="0" cy="0" rx="20.5" ry="36.5" fill="#fff" stroke="#1a1a1a" stroke-width="1.61"/>
</g>
<g transform="translate(468.03 536.46) rotate(-35.5)">
<ellipse cx="0" cy="0" rx="1.37" ry="1.9" fill="#fff" stroke="#1a1a1a" stroke-width="1.26"/>
</g>
<g transform="translate(450.82 530.77) rotate(-35.5)">
<ellipse cx="0" cy="0" rx="1.37" ry="1.9" fill="#fff" stroke="#1a1a1a" stroke-width="1.26"/>
</g>
<g transform="translate(435.55 512.4) rotate(-35.5)">
<ellipse cx="0" cy="0" rx="1.37" ry="1.9" fill="#fff" stroke="#1a1a1a" stroke-width="1.26"/>
</g>
<g transform="translate(431.17 492.11) rotate(-35.5)">
<ellipse cx="0" cy="0" rx="1.37" ry="1.9" fill="#fff" stroke="#1a1a1a" stroke-width="1.26"/>
</g>
<g transform="translate(440.24 481.79) rotate(-35.5)">
<ellipse cx="0" cy="0" rx="1.37" ry="1.9" fill="#fff" stroke="#1a1a1a" stroke-width="1.26"/>
</g>
<g transform="translate(457.45 487.48) rotate(-35.5)">
<ellipse cx="0" cy="0" rx="1.37" ry="1.9" fill="#fff" stroke="#1a1a1a" stroke-width="1.26"/>
</g>
<g transform="translate(454.14 509.12) rotate(-35.5)">
<ellipse cx="0" cy="0" rx="15.4" ry="27.5" fill="none" stroke="#1a1a1a" stroke-width="1.49"/>
</g>
<g transform="translate(444.37 516.09) rotate(-35.5)">
<path d="M0 -29 L9 -29 A16.3 29 0 0 1 9 29 L0 29 A16.3 29 0 0 1 0 -29Z" fill="#fff" stroke="#1a1a1a" stroke-width="1.49" stroke-linejoin="round"/>
<ellipse cx="0" cy="0" rx="16.3" ry="29" fill="#fff" stroke="#1a1a1a" stroke-width="1.49"/>
</g>
<polygon points="373.52,507.41 415.85,477.21 461.48,506.1 461.48,561.1 419.15,591.3 373.52,562.41" fill="#fff" stroke="#1a1a1a" stroke-width="1.61" stroke-linejoin="round"/>
<line x1="419.15" y1="536.3" x2="419.15" y2="591.3" stroke="#1a1a1a" stroke-width="1.61" stroke-linecap="butt"/>
<line x1="373.52" y1="507.41" x2="419.15" y2="536.3" stroke="#1a1a1a" stroke-width="1.49" stroke-linecap="butt"/>
<line x1="419.15" y1="536.3" x2="461.48" y2="506.1" stroke="#1a1a1a" stroke-width="1.49" stroke-linecap="butt"/>
<line x1="421.35" y1="541.3" x2="421.35" y2="589.3" stroke="#1a1a1a" stroke-width="1.03" stroke-linecap="butt"/>
<line x1="416.95" y1="541.3" x2="416.95" y2="589.3" stroke="#1a1a1a" stroke-width="1.03" stroke-linecap="butt"/>
<polygon points="384.41,511.02 413.99,529.74 423.94,529.47 451.62,509.72 451.43,503.03 421.01,483.77 411.06,484.04 384.19,503.21" fill="none" stroke="#1a1a1a" stroke-width="1.15" stroke-linejoin="round"/>
<polygon points="406.88,481.54 415.84,475.15 425.13,481.04 416.18,487.43" fill="#fff" stroke="#1a1a1a" stroke-width="1.49" stroke-linejoin="round"/>
<ellipse cx="416.01" cy="481.29" rx="1.5" ry="1.1" fill="#fff" stroke="#1a1a1a" stroke-width="1.15"/>
<polygon points="444.06,505.08 453.02,498.69 462.31,504.58 453.36,510.97" fill="#fff" stroke="#1a1a1a" stroke-width="1.49" stroke-linejoin="round"/>
<ellipse cx="453.19" cy="504.83" rx="1.5" ry="1.1" fill="#fff" stroke="#1a1a1a" stroke-width="1.15"/>
<polygon points="409.87,529.47 418.82,523.08 428.12,528.97 419.16,535.36" fill="#fff" stroke="#1a1a1a" stroke-width="1.49" stroke-linejoin="round"/>
<ellipse cx="418.99" cy="529.22" rx="1.5" ry="1.1" fill="#fff" stroke="#1a1a1a" stroke-width="1.15"/>
<polygon points="372.69,505.93 381.64,499.54 390.94,505.43 381.98,511.82" fill="#fff" stroke="#1a1a1a" stroke-width="1.49" stroke-linejoin="round"/>
<ellipse cx="381.81" cy="505.68" rx="1.5" ry="1.1" fill="#fff" stroke="#1a1a1a" stroke-width="1.15"/>
<ellipse cx="420.82" cy="506.66" rx="5.2" ry="3.4" fill="#fff" stroke="#1a1a1a" stroke-width="1.61"/>
<ellipse cx="420.82" cy="506.66" rx="2.6" ry="1.6" fill="none" stroke="#1a1a1a" stroke-width="1.84"/>
<polygon points="395.5,503.75 412.5,493.9 410.8,501.4" fill="#fff" stroke="#1a1a1a" stroke-width="1.38" stroke-linejoin="round"/>
<rect x="386.5" y="494" width="19.5" height="3.2" rx="1.5" fill="#151515" transform="rotate(-20.5 396 495.6)"/>
<line x1="420.32" y1="494.66" x2="420.32" y2="500.16" stroke="#1a1a1a" stroke-width="1.03" stroke-linecap="butt"/>
<g transform="translate(443.99 552.14) rotate(33)">
<path d="M0 -30.5 L2.5 -30.5 A18.5 30.5 0 0 1 2.5 30.5 L0 30.5 A18.5 30.5 0 0 1 0 -30.5Z" fill="#fff" stroke="#1a1a1a" stroke-width="1.49" stroke-linejoin="round"/>
<ellipse cx="0" cy="0" rx="18.5" ry="30.5" fill="#fff" stroke="#1a1a1a" stroke-width="1.49"/>
</g>
<g transform="translate(446.11 553.48) rotate(33)">
<ellipse cx="0" cy="0" rx="18.5" ry="30.5" fill="#fff" stroke="#1a1a1a" stroke-width="1.72"/>
<ellipse cx="0" cy="0" rx="13.4" ry="23" fill="#fff" stroke="#1a1a1a" stroke-width="2.07"/>
<path d="M-3 -22 A13 22.5 0 0 0 -3 22" fill="none" stroke="#1a1a1a" stroke-width="1.15" transform="translate(-2.5 0)"/>
<ellipse cx="15.04" cy="9.23" rx="1.2" ry="1.7" fill="#fff" stroke="#1a1a1a" stroke-width="1.15"/>
<ellipse cx="6.76" cy="24.47" rx="1.2" ry="1.7" fill="#fff" stroke="#1a1a1a" stroke-width="1.15"/>
<ellipse cx="-5.47" cy="25.37" rx="1.2" ry="1.7" fill="#fff" stroke="#1a1a1a" stroke-width="1.15"/>
<ellipse cx="-14.5" cy="11.41" rx="1.2" ry="1.7" fill="#fff" stroke="#1a1a1a" stroke-width="1.15"/>
<ellipse cx="-15.04" cy="-9.23" rx="1.2" ry="1.7" fill="#fff" stroke="#1a1a1a" stroke-width="1.15"/>
<ellipse cx="-6.76" cy="-24.47" rx="1.2" ry="1.7" fill="#fff" stroke="#1a1a1a" stroke-width="1.15"/>
<ellipse cx="5.47" cy="-25.37" rx="1.2" ry="1.7" fill="#fff" stroke="#1a1a1a" stroke-width="1.15"/>
<ellipse cx="14.5" cy="-11.41" rx="1.2" ry="1.7" fill="#fff" stroke="#1a1a1a" stroke-width="1.15"/>
<path d="M-6 -8 L6 2 M-8 -2 L3 9 M2 -16 C7 -8 7 2 3 10 M-2 -14 C-8 -6 -8 4 -4 12" fill="none" stroke="#1a1a1a" stroke-width="1.15"/>
</g>
<path d="M410.14798006613927 589.7978905249477 L410.14798006613927 594.2978905249477 L419.14798006613927 599.2978905249477 L428.14798006613927 594.2978905249477 L428.14798006613927 589.7978905249477" fill="#fff" stroke="#1a1a1a" stroke-width="1.38" stroke-linejoin="round" stroke-linecap="round" />
<g transform="translate(384.94 558.48) rotate(-35.5)">
<path d="M0 -31 L9 -31 A17.5 31 0 0 1 9 31 L0 31 A17.5 31 0 0 1 0 -31Z" fill="#fff" stroke="#1a1a1a" stroke-width="1.61" stroke-linejoin="round"/>
<ellipse cx="0" cy="0" rx="17.5" ry="31" fill="#fff" stroke="#1a1a1a" stroke-width="1.61"/>
</g>
<g transform="translate(370.25 535.58) rotate(-35.5)">
<ellipse cx="0" cy="0" rx="1.26" ry="1.7" fill="#fff" stroke="#1a1a1a" stroke-width="1.26"/>
</g>
<g transform="translate(379.15 535.16) rotate(-35.5)">
<ellipse cx="0" cy="0" rx="1.26" ry="1.7" fill="#fff" stroke="#1a1a1a" stroke-width="1.26"/>
</g>
<g transform="translate(389.6 540.99) rotate(-35.5)">
<ellipse cx="0" cy="0" rx="1.26" ry="1.7" fill="#fff" stroke="#1a1a1a" stroke-width="1.26"/>
</g>
<g transform="translate(398.81 551.51) rotate(-35.5)">
<ellipse cx="0" cy="0" rx="1.26" ry="1.7" fill="#fff" stroke="#1a1a1a" stroke-width="1.26"/>
</g>
<g transform="translate(404.72 565.91) rotate(-35.5)">
<ellipse cx="0" cy="0" rx="1.26" ry="1.7" fill="#fff" stroke="#1a1a1a" stroke-width="1.26"/>
</g>
<g transform="translate(403.48 577.62) rotate(-35.5)">
<ellipse cx="0" cy="0" rx="1.26" ry="1.7" fill="#fff" stroke="#1a1a1a" stroke-width="1.26"/>
</g>
<g transform="translate(380.86 561.39) rotate(-35.5)">
<path d="M0 -36.5 L2.6 -36.5 A20.5 36.5 0 0 1 2.6 36.5 L0 36.5 A20.5 36.5 0 0 1 0 -36.5Z" fill="#fff" stroke="#1a1a1a" stroke-width="1.72" stroke-linejoin="round"/>
<ellipse cx="0" cy="0" rx="20.5" ry="36.5" fill="#fff" stroke="#1a1a1a" stroke-width="1.72"/>
</g>
<g transform="translate(362.15 536.2) rotate(-35.5)">
<ellipse cx="0" cy="0" rx="1.54" ry="2.2" fill="#fff" stroke="#1a1a1a" stroke-width="1.26"/>
</g>
<g transform="translate(383.38 539.16) rotate(-35.5)">
<ellipse cx="0" cy="0" rx="1.54" ry="2.2" fill="#fff" stroke="#1a1a1a" stroke-width="1.26"/>
</g>
<g transform="translate(402.1 564.34) rotate(-35.5)">
<ellipse cx="0" cy="0" rx="1.54" ry="2.2" fill="#fff" stroke="#1a1a1a" stroke-width="1.26"/>
</g>
<g transform="translate(399.58 586.57) rotate(-35.5)">
<ellipse cx="0" cy="0" rx="1.54" ry="2.2" fill="#fff" stroke="#1a1a1a" stroke-width="1.26"/>
</g>
<g transform="translate(378.35 583.61) rotate(-35.5)">
<ellipse cx="0" cy="0" rx="1.54" ry="2.2" fill="#fff" stroke="#1a1a1a" stroke-width="1.26"/>
</g>
<g transform="translate(359.63 558.43) rotate(-35.5)">
<ellipse cx="0" cy="0" rx="1.54" ry="2.2" fill="#fff" stroke="#1a1a1a" stroke-width="1.26"/>
</g>
<line x1="370.95" y1="537.71" x2="366.07" y2="541.19" stroke="#1a1a1a" stroke-width="1.72" stroke-linecap="butt"/>
<line x1="375.44" y1="538.43" x2="370.55" y2="541.91" stroke="#1a1a1a" stroke-width="1.72" stroke-linecap="butt"/>
<line x1="380.24" y1="540.51" x2="375.36" y2="544" stroke="#1a1a1a" stroke-width="1.72" stroke-linecap="butt"/>
<line x1="389.68" y1="548.2" x2="384.8" y2="551.69" stroke="#1a1a1a" stroke-width="1.72" stroke-linecap="butt"/>
<line x1="393.75" y1="553.35" x2="388.87" y2="556.84" stroke="#1a1a1a" stroke-width="1.72" stroke-linecap="butt"/>
<line x1="397.05" y1="558.98" x2="392.17" y2="562.46" stroke="#1a1a1a" stroke-width="1.72" stroke-linecap="butt"/>
<line x1="400.64" y1="570.32" x2="395.75" y2="573.81" stroke="#1a1a1a" stroke-width="1.72" stroke-linecap="butt"/>
<line x1="400.7" y1="575.36" x2="395.82" y2="578.85" stroke="#1a1a1a" stroke-width="1.72" stroke-linecap="butt"/>
<line x1="399.59" y1="579.57" x2="394.71" y2="583.05" stroke="#1a1a1a" stroke-width="1.72" stroke-linecap="butt"/>
<g transform="translate(380.86 561.39) rotate(-35.5)">
<ellipse cx="0" cy="0" rx="15.4" ry="27.5" fill="none" stroke="#1a1a1a" stroke-width="1.49"/>
</g>
<g transform="translate(369.47 569.52) rotate(-35.5)">
<path d="M0 -36.5 L2.6 -36.5 A20.5 36.5 0 0 1 2.6 36.5 L0 36.5 A20.5 36.5 0 0 1 0 -36.5Z" fill="#fff" stroke="#1a1a1a" stroke-width="1.72" stroke-linejoin="round"/>
<ellipse cx="0" cy="0" rx="20.5" ry="36.5" fill="#fff" stroke="#1a1a1a" stroke-width="1.72"/>
</g>
<g transform="translate(350.75 544.33) rotate(-35.5)">
<ellipse cx="0" cy="0" rx="1.54" ry="2.2" fill="#fff" stroke="#1a1a1a" stroke-width="1.26"/>
</g>
<g transform="translate(371.98 547.29) rotate(-35.5)">
<ellipse cx="0" cy="0" rx="1.54" ry="2.2" fill="#fff" stroke="#1a1a1a" stroke-width="1.26"/>
</g>
<g transform="translate(390.7 572.47) rotate(-35.5)">
<ellipse cx="0" cy="0" rx="1.54" ry="2.2" fill="#fff" stroke="#1a1a1a" stroke-width="1.26"/>
</g>
<g transform="translate(388.19 594.7) rotate(-35.5)">
<ellipse cx="0" cy="0" rx="1.54" ry="2.2" fill="#fff" stroke="#1a1a1a" stroke-width="1.26"/>
</g>
<g transform="translate(366.95 591.74) rotate(-35.5)">
<ellipse cx="0" cy="0" rx="1.54" ry="2.2" fill="#fff" stroke="#1a1a1a" stroke-width="1.26"/>
</g>
<g transform="translate(348.24 566.56) rotate(-35.5)">
<ellipse cx="0" cy="0" rx="1.54" ry="2.2" fill="#fff" stroke="#1a1a1a" stroke-width="1.26"/>
</g>
<g transform="translate(369.47 569.52) rotate(-35.5)">
<ellipse cx="0" cy="0" rx="14.7" ry="26.2" fill="none" stroke="#1a1a1a" stroke-width="1.61"/>
</g>
<g transform="translate(298.56 620.1) rotate(-35.5)">
<rect x="0" y="-24.5" width="87.1" height="49" fill="#fff" stroke="none"/>
<path d="M0 -24.5 L87.1 -24.5 M0 24.5 L87.1 24.5" stroke="#1a1a1a" stroke-width="1.72" fill="none"/>
</g>
<g transform="translate(298.56 620.1) rotate(-35.5)">
<path d="M0 -36.5 L2.6 -36.5 A20.5 36.5 0 0 1 2.6 36.5 L0 36.5 A20.5 36.5 0 0 1 0 -36.5Z" fill="#fff" stroke="#1a1a1a" stroke-width="1.61" stroke-linejoin="round"/>
<ellipse cx="0" cy="0" rx="20.5" ry="36.5" fill="#fff" stroke="#1a1a1a" stroke-width="1.61"/>
</g>
<g transform="translate(314.02 647.04) rotate(-35.5)">
<ellipse cx="0" cy="0" rx="1.37" ry="1.9" fill="#fff" stroke="#1a1a1a" stroke-width="1.26"/>
</g>
<g transform="translate(299.28 644.36) rotate(-35.5)">
<ellipse cx="0" cy="0" rx="1.37" ry="1.9" fill="#fff" stroke="#1a1a1a" stroke-width="1.26"/>
</g>
<g transform="translate(284.2 630.33) rotate(-35.5)">
<ellipse cx="0" cy="0" rx="1.37" ry="1.9" fill="#fff" stroke="#1a1a1a" stroke-width="1.26"/>
</g>
<g transform="translate(275.85 611.51) rotate(-35.5)">
<ellipse cx="0" cy="0" rx="1.37" ry="1.9" fill="#fff" stroke="#1a1a1a" stroke-width="1.26"/>
</g>
<g transform="translate(278.51 596.21) rotate(-35.5)">
<ellipse cx="0" cy="0" rx="1.37" ry="1.9" fill="#fff" stroke="#1a1a1a" stroke-width="1.26"/>
</g>
<g transform="translate(289.95 592.85) rotate(-35.5)">
<ellipse cx="0" cy="0" rx="1.37" ry="1.9" fill="#fff" stroke="#1a1a1a" stroke-width="1.26"/>
</g>
<g transform="translate(303.86 600.02) rotate(-35.5)">
<ellipse cx="0" cy="0" rx="1.37" ry="1.9" fill="#fff" stroke="#1a1a1a" stroke-width="1.26"/>
</g>
<g transform="translate(298.56 620.1) rotate(-35.5)">
<ellipse cx="0" cy="0" rx="15.1" ry="27" fill="none" stroke="#1a1a1a" stroke-width="1.49"/>
</g>
<g transform="translate(293.67 623.58) rotate(-35.5)">
<ellipse cx="0" cy="0" rx="14.6" ry="26" fill="none" stroke="#1a1a1a" stroke-width="2.76"/>
</g>
<g transform="translate(287.97 627.64) rotate(-35.5)">
<path d="M0 -36.5 L2.6 -36.5 A20.5 36.5 0 0 1 2.6 36.5 L0 36.5 A20.5 36.5 0 0 1 0 -36.5Z" fill="#fff" stroke="#1a1a1a" stroke-width="1.61" stroke-linejoin="round"/>
<ellipse cx="0" cy="0" rx="20.5" ry="36.5" fill="#fff" stroke="#1a1a1a" stroke-width="1.61"/>
</g>
<g transform="translate(301.87 654.98) rotate(-35.5)">
<ellipse cx="0" cy="0" rx="1.37" ry="1.9" fill="#fff" stroke="#1a1a1a" stroke-width="1.26"/>
</g>
<g transform="translate(284.66 649.29) rotate(-35.5)">
<ellipse cx="0" cy="0" rx="1.37" ry="1.9" fill="#fff" stroke="#1a1a1a" stroke-width="1.26"/>
</g>
<g transform="translate(269.39 630.92) rotate(-35.5)">
<ellipse cx="0" cy="0" rx="1.37" ry="1.9" fill="#fff" stroke="#1a1a1a" stroke-width="1.26"/>
</g>
<g transform="translate(265.01 610.63) rotate(-35.5)">
<ellipse cx="0" cy="0" rx="1.37" ry="1.9" fill="#fff" stroke="#1a1a1a" stroke-width="1.26"/>
</g>
<g transform="translate(274.08 600.31) rotate(-35.5)">
<ellipse cx="0" cy="0" rx="1.37" ry="1.9" fill="#fff" stroke="#1a1a1a" stroke-width="1.26"/>
</g>
<g transform="translate(291.29 606) rotate(-35.5)">
<ellipse cx="0" cy="0" rx="1.37" ry="1.9" fill="#fff" stroke="#1a1a1a" stroke-width="1.26"/>
</g>
<g transform="translate(287.97 627.64) rotate(-35.5)">
<ellipse cx="0" cy="0" rx="15.4" ry="27.5" fill="none" stroke="#1a1a1a" stroke-width="1.49"/>
</g>
<g transform="translate(278.2 634.61) rotate(-35.5)">
<path d="M0 -29 L9 -29 A16.3 29 0 0 1 9 29 L0 29 A16.3 29 0 0 1 0 -29Z" fill="#fff" stroke="#1a1a1a" stroke-width="1.49" stroke-linejoin="round"/>
<ellipse cx="0" cy="0" rx="16.3" ry="29" fill="#fff" stroke="#1a1a1a" stroke-width="1.49"/>
</g>
<polygon points="199.48,632.73 249.96,596.72 303.19,630.43 303.19,671.83 252.72,707.83 199.48,674.13" fill="#fff" stroke="#1a1a1a" stroke-width="1.61" stroke-linejoin="round"/>
<polygon points="240.96,595.72 248.96,590.22 254.96,594.22 246.96,599.72" fill="#fff" stroke="#1a1a1a" stroke-width="1.49" stroke-linejoin="round"/>
<ellipse cx="247.96" cy="594.97" rx="1.6" ry="1.9" fill="#fff" stroke="#1a1a1a" stroke-width="1.15"/>
<line x1="206.24" y1="637.01" x2="213.35" y2="624.97" stroke="#1a1a1a" stroke-width="1.26" stroke-linecap="butt"/>
<line x1="252.72" y1="666.43" x2="303.19" y2="630.43" stroke="#1a1a1a" stroke-width="1.38" stroke-linecap="butt"/>
<line x1="252.72" y1="666.43" x2="199.48" y2="632.73" stroke="#1a1a1a" stroke-width="1.38" stroke-linecap="butt"/>
<line x1="252.72" y1="666.43" x2="252.72" y2="707.83" stroke="#1a1a1a" stroke-width="1.61" stroke-linecap="butt"/>
<line x1="212.07" y1="637.4" x2="234.48" y2="637.34" stroke="#1a1a1a" stroke-width="1.26" stroke-linecap="butt"/>
<line x1="239.14" y1="656.64" x2="263.99" y2="654.84" stroke="#1a1a1a" stroke-width="1.26" stroke-linecap="butt"/>
<polygon points="294.24,639.81 303.24,633.51 303.24,642.51 294.24,648.81" fill="#fff" stroke="#1a1a1a" stroke-width="1.49" stroke-linejoin="round"/>
<ellipse cx="298.74" cy="641.16" rx="1.6" ry="1.9" fill="#fff" stroke="#1a1a1a" stroke-width="1.15"/>
<polygon points="255.16,670.69 264.16,664.39 264.16,673.39 255.16,679.69" fill="#fff" stroke="#1a1a1a" stroke-width="1.49" stroke-linejoin="round"/>
<ellipse cx="259.66" cy="672.04" rx="1.6" ry="1.9" fill="#fff" stroke="#1a1a1a" stroke-width="1.15"/>
<polygon points="294.24,665.21 303.24,658.91 303.24,667.91 294.24,674.21" fill="#fff" stroke="#1a1a1a" stroke-width="1.49" stroke-linejoin="round"/>
<ellipse cx="298.74" cy="666.56" rx="1.6" ry="1.9" fill="#fff" stroke="#1a1a1a" stroke-width="1.15"/>
<polygon points="255.16,696.09 264.16,689.79 264.16,698.79 255.16,705.09" fill="#fff" stroke="#1a1a1a" stroke-width="1.49" stroke-linejoin="round"/>
<ellipse cx="259.66" cy="697.44" rx="1.6" ry="1.9" fill="#fff" stroke="#1a1a1a" stroke-width="1.15"/>
<path d="M273.07 692.31 L276.07 685.31 L285.1 674.02 L286.1 683.02" fill="#fff" stroke="#1a1a1a" stroke-width="1.38" stroke-linejoin="round" stroke-linecap="round" />
<line x1="274.7" y1="689.15" x2="284.47" y2="682.18" stroke="#1a1a1a" stroke-width="2.99" stroke-linecap="butt"/>
<line x1="254.72" y1="705.33" x2="295.19" y2="670.33" stroke="#1a1a1a" stroke-width="1.03" stroke-linecap="butt"/>
<line x1="255.22" y1="704.83" x2="255.22" y2="674.43" stroke="#1a1a1a" stroke-width="1.03" stroke-linecap="butt"/>
<g transform="translate(251.04 626.08) rotate(-12)">
<path d="M-35 0 L-35 3.2 A35 23 0 0 0 35 3.2 L35 0Z" fill="#fff" stroke="#1a1a1a" stroke-width="1.61"/>
<ellipse cx="0" cy="0" rx="35" ry="23" fill="#fff" stroke="#1a1a1a" stroke-width="1.84"/>
<ellipse cx="0" cy="0.2" rx="24.8" ry="16.2" fill="#fff" stroke="#1a1a1a" stroke-width="2.53"/>
<ellipse cx="-21.21" cy="-13.79" rx="2.1" ry="1.6" fill="#fff" stroke="#1a1a1a" stroke-width="1.26"/>
<ellipse cx="7.76" cy="-18.84" rx="2.1" ry="1.6" fill="#fff" stroke="#1a1a1a" stroke-width="1.26"/>
<ellipse cx="28.98" cy="-5.05" rx="2.1" ry="1.6" fill="#fff" stroke="#1a1a1a" stroke-width="1.26"/>
<ellipse cx="21.21" cy="13.79" rx="2.1" ry="1.6" fill="#fff" stroke="#1a1a1a" stroke-width="1.26"/>
<ellipse cx="-7.76" cy="18.84" rx="2.1" ry="1.6" fill="#fff" stroke="#1a1a1a" stroke-width="1.26"/>
<ellipse cx="-28.98" cy="5.05" rx="2.1" ry="1.6" fill="#fff" stroke="#1a1a1a" stroke-width="1.26"/>
</g>
<path d="M228.63 626.57 C231.42 624.38 235.6 625.78 235.4 629.76 C235.2 632.75 233.21 634.74 231.22 635.14 " fill="none" stroke="#1a1a1a" stroke-width="1.72" stroke-linejoin="round" stroke-linecap="round" />
<path d="M229.62 633.55 C236.4 642.51 262.29 644.5 275.24 632.75 " fill="none" stroke="#1a1a1a" stroke-width="1.38" stroke-linejoin="round" stroke-linecap="round" />
<path d="M251.84 610.64 L251.84 642.51 M250.14 616.61 L250.34 636.53 " fill="none" stroke="#1a1a1a" stroke-width="1.49" stroke-linejoin="round" stroke-linecap="round" />
<ellipse cx="253.13" cy="620.4" rx="2.1" ry="3.4" fill="#fff" stroke="#1a1a1a" stroke-width="2.18" transform="rotate(-15 253.13 620.4)"/>
<ellipse cx="253.13" cy="620.4" rx="0.7" ry="1.2" fill="#333" stroke="#1a1a1a" stroke-width="0.92" transform="rotate(-15 253.13 620.4)"/>
<path d="M242.87 640.52 L250.84 635.04 M245.56 642.51 L253.33 637.03 M254.33 630.56 L258.31 640.52 " fill="none" stroke="#1a1a1a" stroke-width="1.72" stroke-linejoin="round" stroke-linecap="round" />
<path d="M260.3 616.61 C264.29 612.83 271.76 615.12 275.44 622.59 " fill="none" stroke="#1a1a1a" stroke-width="1.49" stroke-linejoin="round" stroke-linecap="round" />
<path d="M260.8 616.61 C258.11 623.59 259.31 633.55 264.49 638.73 M265.28 615.82 C262.89 622.59 264.29 631.55 268.87 636.73 M269.47 616.61 C267.87 621.59 268.87 628.57 272.45 633.55 " fill="none" stroke="#1a1a1a" stroke-width="1.84" stroke-linejoin="round" stroke-linecap="round" />
<g transform="translate(218.77 677) rotate(-35.5)">
<path d="M0 -31 L9 -31 A17.5 31 0 0 1 9 31 L0 31 A17.5 31 0 0 1 0 -31Z" fill="#fff" stroke="#1a1a1a" stroke-width="1.61" stroke-linejoin="round"/>
<ellipse cx="0" cy="0" rx="17.5" ry="31" fill="#fff" stroke="#1a1a1a" stroke-width="1.61"/>
</g>
<g transform="translate(204.09 654.1) rotate(-35.5)">
<ellipse cx="0" cy="0" rx="1.26" ry="1.7" fill="#fff" stroke="#1a1a1a" stroke-width="1.26"/>
</g>
<g transform="translate(212.99 653.68) rotate(-35.5)">
<ellipse cx="0" cy="0" rx="1.26" ry="1.7" fill="#fff" stroke="#1a1a1a" stroke-width="1.26"/>
</g>
<g transform="translate(223.44 659.51) rotate(-35.5)">
<ellipse cx="0" cy="0" rx="1.26" ry="1.7" fill="#fff" stroke="#1a1a1a" stroke-width="1.26"/>
</g>
<g transform="translate(232.64 670.03) rotate(-35.5)">
<ellipse cx="0" cy="0" rx="1.26" ry="1.7" fill="#fff" stroke="#1a1a1a" stroke-width="1.26"/>
</g>
<g transform="translate(238.56 684.43) rotate(-35.5)">
<ellipse cx="0" cy="0" rx="1.26" ry="1.7" fill="#fff" stroke="#1a1a1a" stroke-width="1.26"/>
</g>
<g transform="translate(237.32 696.14) rotate(-35.5)">
<ellipse cx="0" cy="0" rx="1.26" ry="1.7" fill="#fff" stroke="#1a1a1a" stroke-width="1.26"/>
</g>
<g transform="translate(214.7 679.91) rotate(-35.5)">
<path d="M0 -36.5 L2.6 -36.5 A20.5 36.5 0 0 1 2.6 36.5 L0 36.5 A20.5 36.5 0 0 1 0 -36.5Z" fill="#fff" stroke="#1a1a1a" stroke-width="1.72" stroke-linejoin="round"/>
<ellipse cx="0" cy="0" rx="20.5" ry="36.5" fill="#fff" stroke="#1a1a1a" stroke-width="1.72"/>
</g>
<g transform="translate(195.99 654.73) rotate(-35.5)">
<ellipse cx="0" cy="0" rx="1.54" ry="2.2" fill="#fff" stroke="#1a1a1a" stroke-width="1.26"/>
</g>
<g transform="translate(217.22 657.68) rotate(-35.5)">
<ellipse cx="0" cy="0" rx="1.54" ry="2.2" fill="#fff" stroke="#1a1a1a" stroke-width="1.26"/>
</g>
<g transform="translate(235.93 682.87) rotate(-35.5)">
<ellipse cx="0" cy="0" rx="1.54" ry="2.2" fill="#fff" stroke="#1a1a1a" stroke-width="1.26"/>
</g>
<g transform="translate(233.42 705.09) rotate(-35.5)">
<ellipse cx="0" cy="0" rx="1.54" ry="2.2" fill="#fff" stroke="#1a1a1a" stroke-width="1.26"/>
</g>
<g transform="translate(212.19 702.13) rotate(-35.5)">
<ellipse cx="0" cy="0" rx="1.54" ry="2.2" fill="#fff" stroke="#1a1a1a" stroke-width="1.26"/>
</g>
<g transform="translate(193.47 676.95) rotate(-35.5)">
<ellipse cx="0" cy="0" rx="1.54" ry="2.2" fill="#fff" stroke="#1a1a1a" stroke-width="1.26"/>
</g>
<line x1="204.79" y1="656.23" x2="199.91" y2="659.71" stroke="#1a1a1a" stroke-width="1.72" stroke-linecap="butt"/>
<line x1="209.28" y1="656.95" x2="204.39" y2="660.43" stroke="#1a1a1a" stroke-width="1.72" stroke-linecap="butt"/>
<line x1="214.08" y1="659.03" x2="209.2" y2="662.52" stroke="#1a1a1a" stroke-width="1.72" stroke-linecap="butt"/>
<line x1="223.52" y1="666.72" x2="218.64" y2="670.21" stroke="#1a1a1a" stroke-width="1.72" stroke-linecap="butt"/>
<line x1="227.59" y1="671.87" x2="222.7" y2="675.36" stroke="#1a1a1a" stroke-width="1.72" stroke-linecap="butt"/>
<line x1="230.89" y1="677.5" x2="226.01" y2="680.99" stroke="#1a1a1a" stroke-width="1.72" stroke-linecap="butt"/>
<line x1="234.48" y1="688.84" x2="229.59" y2="692.33" stroke="#1a1a1a" stroke-width="1.72" stroke-linecap="butt"/>
<line x1="234.54" y1="693.88" x2="229.66" y2="697.37" stroke="#1a1a1a" stroke-width="1.72" stroke-linecap="butt"/>
<line x1="233.43" y1="698.09" x2="228.55" y2="701.58" stroke="#1a1a1a" stroke-width="1.72" stroke-linecap="butt"/>
<g transform="translate(214.7 679.91) rotate(-35.5)">
<ellipse cx="0" cy="0" rx="15.4" ry="27.5" fill="none" stroke="#1a1a1a" stroke-width="1.49"/>
</g>
<g transform="translate(203.31 688.04) rotate(-35.5)">
<path d="M0 -36.5 L2.6 -36.5 A20.5 36.5 0 0 1 2.6 36.5 L0 36.5 A20.5 36.5 0 0 1 0 -36.5Z" fill="#fff" stroke="#1a1a1a" stroke-width="1.72" stroke-linejoin="round"/>
<ellipse cx="0" cy="0" rx="20.5" ry="36.5" fill="#fff" stroke="#1a1a1a" stroke-width="1.72"/>
</g>
<g transform="translate(184.59 662.86) rotate(-35.5)">
<ellipse cx="0" cy="0" rx="1.54" ry="2.2" fill="#fff" stroke="#1a1a1a" stroke-width="1.26"/>
</g>
<g transform="translate(205.82 665.81) rotate(-35.5)">
<ellipse cx="0" cy="0" rx="1.54" ry="2.2" fill="#fff" stroke="#1a1a1a" stroke-width="1.26"/>
</g>
<g transform="translate(224.54 691) rotate(-35.5)">
<ellipse cx="0" cy="0" rx="1.54" ry="2.2" fill="#fff" stroke="#1a1a1a" stroke-width="1.26"/>
</g>
<g transform="translate(222.02 713.22) rotate(-35.5)">
<ellipse cx="0" cy="0" rx="1.54" ry="2.2" fill="#fff" stroke="#1a1a1a" stroke-width="1.26"/>
</g>
<g transform="translate(200.79 710.26) rotate(-35.5)">
<ellipse cx="0" cy="0" rx="1.54" ry="2.2" fill="#fff" stroke="#1a1a1a" stroke-width="1.26"/>
</g>
<g transform="translate(182.08 685.08) rotate(-35.5)">
<ellipse cx="0" cy="0" rx="1.54" ry="2.2" fill="#fff" stroke="#1a1a1a" stroke-width="1.26"/>
</g>
<g transform="translate(203.31 688.04) rotate(-35.5)">
<ellipse cx="0" cy="0" rx="14.7" ry="26.2" fill="none" stroke="#1a1a1a" stroke-width="1.61"/>
</g>
<g transform="translate(84.85 772.53) rotate(-35.5)">
<rect x="0" y="-24.5" width="145.5" height="49" fill="#fff" stroke="none"/>
<path d="M0 -24.5 L145.5 -24.5 M0 24.5 L145.5 24.5" stroke="#1a1a1a" stroke-width="1.72" fill="none"/>
</g>
<g transform="translate(81.6 774.85) rotate(-35.5)">
<path d="M0 -35.5 L4.2 -35.5 A19.6 35.5 0 0 1 4.2 35.5 L0 35.5 A19.6 35.5 0 0 1 0 -35.5Z" fill="#fff" stroke="#1a1a1a" stroke-width="1.72" stroke-linejoin="round"/>
<ellipse cx="0" cy="0" rx="19.6" ry="35.5" fill="#fff" stroke="#1a1a1a" stroke-width="1.72"/>
</g>
<g transform="translate(81.6 774.85) rotate(-35.5)">
<ellipse cx="0" cy="0" rx="15" ry="27" fill="none" stroke="#1a1a1a" stroke-width="1.49"/>
</g>
<g transform="translate(100.78 774.15) rotate(-35.5)">
<ellipse cx="0" cy="0" rx="1.29" ry="1.8" fill="#fff" stroke="#1a1a1a" stroke-width="1.26"/>
</g>
<g transform="translate(103.72 793.46) rotate(-35.5)">
<ellipse cx="0" cy="0" rx="1.29" ry="1.8" fill="#fff" stroke="#1a1a1a" stroke-width="1.26"/>
</g>
<g transform="translate(93.7 801.87) rotate(-35.5)">
<ellipse cx="0" cy="0" rx="1.29" ry="1.8" fill="#fff" stroke="#1a1a1a" stroke-width="1.26"/>
</g>
<g transform="translate(76.59 794.45) rotate(-35.5)">
<ellipse cx="0" cy="0" rx="1.29" ry="1.8" fill="#fff" stroke="#1a1a1a" stroke-width="1.26"/>
</g>
<g transform="translate(62.42 775.56) rotate(-35.5)">
<ellipse cx="0" cy="0" rx="1.29" ry="1.8" fill="#fff" stroke="#1a1a1a" stroke-width="1.26"/>
</g>
<g transform="translate(59.47 756.25) rotate(-35.5)">
<ellipse cx="0" cy="0" rx="1.29" ry="1.8" fill="#fff" stroke="#1a1a1a" stroke-width="1.26"/>
</g>
<g transform="translate(69.49 747.84) rotate(-35.5)">
<ellipse cx="0" cy="0" rx="1.29" ry="1.8" fill="#fff" stroke="#1a1a1a" stroke-width="1.26"/>
</g>
<g transform="translate(86.6 755.25) rotate(-35.5)">
<ellipse cx="0" cy="0" rx="1.29" ry="1.8" fill="#fff" stroke="#1a1a1a" stroke-width="1.26"/>
</g>
<ellipse cx="81.6" cy="774.85" rx="1.1" ry="1.1" fill="#222" stroke="#1a1a1a" stroke-width="0.57"/>
<polygon points="165.5,656.3 200.8,680.02 200.8,698.32 165.5,674.6" fill="#fff" stroke="#1a1a1a" stroke-width="1.95" stroke-linejoin="round"/>
<path d="M200.8 680.02 L200.8 698.32 L165.5 674.6" fill="none" stroke="#1a1a1a" stroke-width="2.64" stroke-linejoin="round" stroke-linecap="round" />
<ellipse cx="171" cy="670.84" rx="1.5" ry="1.7" fill="#333" stroke="#1a1a1a" stroke-width="1.15"/>
<ellipse cx="195.8" cy="691.82" rx="1.5" ry="1.7" fill="#333" stroke="#1a1a1a" stroke-width="1.15"/>
<polygon points="293.7,565.2 329,588.92 329,607.22 293.7,583.5" fill="#fff" stroke="#1a1a1a" stroke-width="1.95" stroke-linejoin="round"/>
<path d="M329 588.92 L329 607.22 L293.7 583.5" fill="none" stroke="#1a1a1a" stroke-width="2.64" stroke-linejoin="round" stroke-linecap="round" />
<ellipse cx="299.2" cy="579.74" rx="1.5" ry="1.7" fill="#333" stroke="#1a1a1a" stroke-width="1.15"/>
<ellipse cx="324" cy="600.72" rx="1.5" ry="1.7" fill="#333" stroke="#1a1a1a" stroke-width="1.15"/>
<polygon points="500,420.3 535.3,444.02 535.3,462.32 500,438.6" fill="#fff" stroke="#1a1a1a" stroke-width="1.95" stroke-linejoin="round"/>
<path d="M535.3 444.02 L535.3 462.32 L500 438.6" fill="none" stroke="#1a1a1a" stroke-width="2.64" stroke-linejoin="round" stroke-linecap="round" />
<ellipse cx="505.5" cy="434.84" rx="1.5" ry="1.7" fill="#333" stroke="#1a1a1a" stroke-width="1.15"/>
<ellipse cx="530.3" cy="455.82" rx="1.5" ry="1.7" fill="#333" stroke="#1a1a1a" stroke-width="1.15"/>
<polygon points="627.5,328.6 662.8,352.32 662.8,370.62 627.5,346.9" fill="#fff" stroke="#1a1a1a" stroke-width="1.95" stroke-linejoin="round"/>
<path d="M662.8 352.32 L662.8 370.62 L627.5 346.9" fill="none" stroke="#1a1a1a" stroke-width="2.64" stroke-linejoin="round" stroke-linecap="round" />
<ellipse cx="633" cy="343.14" rx="1.5" ry="1.7" fill="#333" stroke="#1a1a1a" stroke-width="1.15"/>
<ellipse cx="657.8" cy="364.12" rx="1.5" ry="1.7" fill="#333" stroke="#1a1a1a" stroke-width="1.15"/>
<g transform="translate(677 349) rotate(144.5)">
<rect x="1" y="-1.8" width="13" height="3.6" rx="1.2" fill="#fff" stroke="#1a1a1a" stroke-width="1.67"/>
<rect x="-2.2" y="-3.2" width="4" height="6.4" rx="1.2" fill="#fff" stroke="#1a1a1a" stroke-width="1.84"/>
<ellipse cx="-2.2" cy="0" rx="1.9" ry="3.2" fill="#fff" stroke="#1a1a1a" stroke-width="1.84"/>
</g>
<g transform="translate(676.5 382.8) rotate(144.5)">
<rect x="1" y="-1.8" width="12" height="3.6" rx="1.2" fill="#fff" stroke="#1a1a1a" stroke-width="1.67"/>
<rect x="-2.2" y="-3.2" width="4" height="6.4" rx="1.2" fill="#fff" stroke="#1a1a1a" stroke-width="1.84"/>
<ellipse cx="-2.2" cy="0" rx="1.9" ry="3.2" fill="#fff" stroke="#1a1a1a" stroke-width="1.84"/>
</g>
<g transform="translate(484.5 466) rotate(144.5)">
<rect x="1" y="-1.8" width="10" height="3.6" rx="1.2" fill="#fff" stroke="#1a1a1a" stroke-width="1.67"/>
<rect x="-2.2" y="-3.2" width="4" height="6.4" rx="1.2" fill="#fff" stroke="#1a1a1a" stroke-width="1.84"/>
<ellipse cx="-2.2" cy="0" rx="1.9" ry="3.2" fill="#fff" stroke="#1a1a1a" stroke-width="1.84"/>
</g>
<g transform="translate(528 493.5) rotate(-35.5)">
<rect x="1" y="-1.8" width="10" height="3.6" rx="1.2" fill="#fff" stroke="#1a1a1a" stroke-width="1.67"/>
<rect x="-2.2" y="-3.2" width="4" height="6.4" rx="1.2" fill="#fff" stroke="#1a1a1a" stroke-width="1.84"/>
<ellipse cx="-2.2" cy="0" rx="1.9" ry="3.2" fill="#fff" stroke="#1a1a1a" stroke-width="1.84"/>
</g>
<g transform="translate(342.5 620) rotate(144.5)">
<rect x="1" y="-1.8" width="12" height="3.6" rx="1.2" fill="#fff" stroke="#1a1a1a" stroke-width="1.67"/>
<rect x="-2.2" y="-3.2" width="4" height="6.4" rx="1.2" fill="#fff" stroke="#1a1a1a" stroke-width="1.84"/>
<ellipse cx="-2.2" cy="0" rx="1.9" ry="3.2" fill="#fff" stroke="#1a1a1a" stroke-width="1.84"/>
</g>
<g transform="translate(367.5 608.8) rotate(-35.5)">
<rect x="1" y="-1.8" width="12" height="3.6" rx="1.2" fill="#fff" stroke="#1a1a1a" stroke-width="1.67"/>
<rect x="-2.2" y="-3.2" width="4" height="6.4" rx="1.2" fill="#fff" stroke="#1a1a1a" stroke-width="1.84"/>
<ellipse cx="-2.2" cy="0" rx="1.9" ry="3.2" fill="#fff" stroke="#1a1a1a" stroke-width="1.84"/>
</g>
<g transform="translate(204 718.7) rotate(-35.5)">
<rect x="1" y="-1.8" width="13" height="3.6" rx="1.2" fill="#fff" stroke="#1a1a1a" stroke-width="1.67"/>
<rect x="-2.2" y="-3.2" width="4" height="6.4" rx="1.2" fill="#fff" stroke="#1a1a1a" stroke-width="1.84"/>
<ellipse cx="-2.2" cy="0" rx="1.9" ry="3.2" fill="#fff" stroke="#1a1a1a" stroke-width="1.84"/>
</g>
<g transform="translate(152.8 688.6) rotate(-35.5)">
<rect x="1" y="-1.8" width="14" height="3.6" rx="1.2" fill="#fff" stroke="#1a1a1a" stroke-width="1.67"/>
<rect x="-2.2" y="-3.2" width="4" height="6.4" rx="1.2" fill="#fff" stroke="#1a1a1a" stroke-width="1.84"/>
<ellipse cx="-2.2" cy="0" rx="1.9" ry="3.2" fill="#fff" stroke="#1a1a1a" stroke-width="1.84"/>
</g>
<g transform="translate(893 214.5) rotate(144.5)">
<rect x="1" y="-1.8" width="10" height="3.6" rx="1.2" fill="#fff" stroke="#1a1a1a" stroke-width="1.67"/>
<rect x="-2.2" y="-2.8" width="4" height="5.6" rx="1.2" fill="#fff" stroke="#1a1a1a" stroke-width="1.84"/>
<ellipse cx="-2.2" cy="0" rx="1.9" ry="2.8" fill="#fff" stroke="#1a1a1a" stroke-width="1.84"/>
</g>
<g transform="translate(652 736.6) rotate(215)">
<rect x="1" y="-1.8" width="10.5" height="3.6" rx="1.2" fill="#fff" stroke="#1a1a1a" stroke-width="1.67"/>
<rect x="-2.2" y="-3.4" width="4" height="6.8" rx="1.2" fill="#fff" stroke="#1a1a1a" stroke-width="1.84"/>
<ellipse cx="-2.2" cy="0" rx="1.9" ry="3.4" fill="#fff" stroke="#1a1a1a" stroke-width="1.84"/>
</g>
<g transform="translate(723.75 357) rotate(-35.5)">
<rect x="0" y="-1.8" width="26.5" height="3.6" rx="1.8" fill="#fff" stroke="#1a1a1a" stroke-width="1.72"/>
</g>
<ellipse cx="758.7" cy="331.3" rx="3.6" ry="4.2" fill="#fff" stroke="#1a1a1a" stroke-width="2.3" transform="rotate(-35.5 758.7 331.3)"/>
<ellipse cx="758.7" cy="331.3" rx="1.4" ry="1.8" fill="#333" stroke="#1a1a1a" stroke-width="1.15" transform="rotate(-35.5 758.7 331.3)"/>
<line x1="762" y1="329" x2="767" y2="325.5" stroke="#1a1a1a" stroke-width="1.03" stroke-linecap="butt"/>
<g transform="translate(895 196.4) rotate(-35.5)">
<path d="M0 -6.7 L6.5 -6.7 A3.89 6.7 0 0 1 6.5 6.7 L0 6.7Z" fill="#222" stroke="#1a1a1a" stroke-width="1.38"/>
<path d="M1.62 -6.7 A3.89 6.7 0 0 1 1.62 6.7" fill="none" stroke="#999" stroke-width="0.69"/>
<path d="M3.25 -6.7 A3.89 6.7 0 0 1 3.25 6.7" fill="none" stroke="#999" stroke-width="0.69"/>
<path d="M4.88 -6.7 A3.89 6.7 0 0 1 4.88 6.7" fill="none" stroke="#999" stroke-width="0.69"/>
<ellipse cx="0" cy="0" rx="3.89" ry="6.7" fill="#fff" stroke="#1a1a1a" stroke-width="1.84"/>
<ellipse cx="0" cy="0" rx="2.14" ry="3.69" fill="#fff" stroke="#1a1a1a" stroke-width="1.26"/>
</g>
<line x1="889" y1="201" x2="879" y2="207.5" stroke="#1a1a1a" stroke-width="1.15" stroke-linecap="butt"/>
<g transform="translate(361.5 500) rotate(-35.5)">
<path d="M0 -6.5 L6 -6.5 A3.77 6.5 0 0 1 6 6.5 L0 6.5Z" fill="#222" stroke="#1a1a1a" stroke-width="1.38"/>
<path d="M1.5 -6.5 A3.77 6.5 0 0 1 1.5 6.5" fill="none" stroke="#999" stroke-width="0.69"/>
<path d="M3 -6.5 A3.77 6.5 0 0 1 3 6.5" fill="none" stroke="#999" stroke-width="0.69"/>
<path d="M4.5 -6.5 A3.77 6.5 0 0 1 4.5 6.5" fill="none" stroke="#999" stroke-width="0.69"/>
<ellipse cx="0" cy="0" rx="3.77" ry="6.5" fill="#fff" stroke="#1a1a1a" stroke-width="1.84"/>
<ellipse cx="0" cy="0" rx="2.07" ry="3.58" fill="#fff" stroke="#1a1a1a" stroke-width="1.26"/>
</g>
<path d="M412.9 463.5 L412.9 466.9 A4.6 2.6 0 0 0 422.1 466.9 L422.1 463.5" fill="#fff" stroke="#1a1a1a" stroke-width="1.49" stroke-linejoin="round" stroke-linecap="round" />
<ellipse cx="417.5" cy="463.5" rx="4.6" ry="2.8" fill="#fff" stroke="#1a1a1a" stroke-width="1.61"/>
<path d="M414.3 468.5 L414.3 471.5 A3.2 1.9 0 0 0 420.7 471.5 L420.7 468.5" fill="#fff" stroke="#1a1a1a" stroke-width="1.26" stroke-linejoin="round" stroke-linecap="round" />
<ellipse cx="417.5" cy="463.5" rx="1.6" ry="1" fill="#444" stroke="#1a1a1a" stroke-width="0.92"/>
<path d="M413 602 L413 605 A4.6 2.6 0 0 0 422.2 605 L422.2 602" fill="#fff" stroke="#1a1a1a" stroke-width="1.38" stroke-linejoin="round" stroke-linecap="round" />
<ellipse cx="417.6" cy="601.5" rx="3.4" ry="2" fill="#fff" stroke="#1a1a1a" stroke-width="1.38"/>
<path d="M412.4 606.5 L412.4 610 A5.2 3 0 0 0 422.8 610 L422.8 606.5" fill="#fff" stroke="#1a1a1a" stroke-width="1.49" stroke-linejoin="round" stroke-linecap="round" />
<ellipse cx="417.6" cy="606.5" rx="5.2" ry="3" fill="#fff" stroke="#1a1a1a" stroke-width="1.61"/>
<ellipse cx="417.6" cy="606.5" rx="2.4" ry="1.4" fill="#444" stroke="#1a1a1a" stroke-width="1.15"/>
<g transform="translate(995.8 264.3) rotate(135)">
<path d="M0 -11.8 L4.2 -11.8 A10.8 11.8 0 0 1 4.2 11.8 L0 11.8 A10.8 11.8 0 0 1 0 -11.8Z" fill="#fff" stroke="#1a1a1a" stroke-width="1.61" stroke-linejoin="round"/>
<ellipse cx="0" cy="0" rx="10.8" ry="11.8" fill="#fff" stroke="#1a1a1a" stroke-width="2.99"/>
</g>
<g transform="translate(995.8 264.3) rotate(135)">
<ellipse cx="1.2" cy="0" rx="7.8" ry="8.6" fill="none" stroke="#1a1a1a" stroke-width="1.38"/>
</g>
<path d="M1000.44 268.18 A6 5.5 0 0 1 991.8 271.06" fill="none" stroke="#1a1a1a" stroke-width="1.15"/>
<line x1="988" y1="272.5" x2="964" y2="296.5" stroke="#1a1a1a" stroke-width="1.03" stroke-linecap="butt"/>
<g transform="translate(978.2 282.5) rotate(135)">
<ellipse cx="0" cy="0" rx="8.5" ry="9.2" fill="none" stroke="#1a1a1a" stroke-width="2.42"/>
</g>
<ellipse cx="981.6" cy="304.2" rx="3.4" ry="3.2" fill="#fff" stroke="#1a1a1a" stroke-width="1.72"/>
<ellipse cx="977.4" cy="308.6" rx="2.3" ry="2.2" fill="#fff" stroke="#1a1a1a" stroke-width="1.38"/>
<g transform="translate(930.2 331.3) rotate(135)">
<path d="M0 -35 L2.5 -35 A30.5 35 0 0 1 2.5 35 L0 35 A30.5 35 0 0 1 0 -35Z" fill="#fff" stroke="#1a1a1a" stroke-width="1.61" stroke-linejoin="round"/>
<ellipse cx="0" cy="0" rx="30.5" ry="35" fill="#fff" stroke="#1a1a1a" stroke-width="1.61"/>
</g>
<ellipse cx="903.6" cy="333.6" rx="2.3" ry="2.3" fill="#fff" stroke="#1a1a1a" stroke-width="1.26"/>
<ellipse cx="921.3" cy="356" rx="2.3" ry="2.3" fill="#fff" stroke="#1a1a1a" stroke-width="1.26"/>
<ellipse cx="947.8" cy="354.4" rx="2.3" ry="2.3" fill="#fff" stroke="#1a1a1a" stroke-width="1.26"/>
<g transform="translate(934.5 326.5) rotate(135)">
<path d="M0 -29 L6 -29 A25.5 29 0 0 1 6 29 L0 29 A25.5 29 0 0 1 0 -29Z" fill="#fff" stroke="#1a1a1a" stroke-width="1.49" stroke-linejoin="round"/>
<ellipse cx="0" cy="0" rx="25.5" ry="29" fill="#fff" stroke="#1a1a1a" stroke-width="1.49"/>
</g>
<line x1="917" y1="349" x2="920.5" y2="345" stroke="#1a1a1a" stroke-width="1.26" stroke-linecap="butt"/>
<g transform="translate(941.9 319.3) rotate(135)">
<path d="M0 -35 L4.5 -35 A30.5 35 0 0 1 4.5 35 L0 35 A30.5 35 0 0 1 0 -35Z" fill="#fff" stroke="#1a1a1a" stroke-width="1.72" stroke-linejoin="round"/>
<ellipse cx="0" cy="0" rx="30.5" ry="35" fill="#fff" stroke="#1a1a1a" stroke-width="1.84"/>
</g>
<ellipse cx="917.24" cy="329.45" rx="2.2" ry="2.2" fill="#333" stroke="#1a1a1a" stroke-width="1.15"/>
<ellipse cx="917.24" cy="329.45" rx="0.9" ry="0.9" fill="#999" stroke="#999" stroke-width="0.46"/>
<ellipse cx="914.84" cy="307.9" rx="2.2" ry="2.2" fill="#333" stroke="#1a1a1a" stroke-width="1.15"/>
<ellipse cx="914.84" cy="307.9" rx="0.9" ry="0.9" fill="#999" stroke="#999" stroke-width="0.46"/>
<ellipse cx="928.3" cy="293.03" rx="2.2" ry="2.2" fill="#333" stroke="#1a1a1a" stroke-width="1.15"/>
<ellipse cx="928.3" cy="293.03" rx="0.9" ry="0.9" fill="#999" stroke="#999" stroke-width="0.46"/>
<ellipse cx="949.73" cy="293.54" rx="2.2" ry="2.2" fill="#333" stroke="#1a1a1a" stroke-width="1.15"/>
<ellipse cx="949.73" cy="293.54" rx="0.9" ry="0.9" fill="#999" stroke="#999" stroke-width="0.46"/>
<ellipse cx="966.56" cy="309.15" rx="2.2" ry="2.2" fill="#333" stroke="#1a1a1a" stroke-width="1.15"/>
<ellipse cx="966.56" cy="309.15" rx="0.9" ry="0.9" fill="#999" stroke="#999" stroke-width="0.46"/>
<ellipse cx="968.96" cy="330.7" rx="2.2" ry="2.2" fill="#333" stroke="#1a1a1a" stroke-width="1.15"/>
<ellipse cx="968.96" cy="330.7" rx="0.9" ry="0.9" fill="#999" stroke="#999" stroke-width="0.46"/>
<ellipse cx="955.5" cy="345.57" rx="2.2" ry="2.2" fill="#333" stroke="#1a1a1a" stroke-width="1.15"/>
<ellipse cx="955.5" cy="345.57" rx="0.9" ry="0.9" fill="#999" stroke="#999" stroke-width="0.46"/>
<ellipse cx="934.07" cy="345.06" rx="2.2" ry="2.2" fill="#333" stroke="#1a1a1a" stroke-width="1.15"/>
<ellipse cx="934.07" cy="345.06" rx="0.9" ry="0.9" fill="#999" stroke="#999" stroke-width="0.46"/>
<g transform="translate(942.9 318.3) rotate(135)">
<ellipse cx="0" cy="0" rx="19.5" ry="22.5" fill="none" stroke="#1a1a1a" stroke-width="1.72"/>
</g>
<g transform="translate(943.9 317.3) rotate(135)">
<ellipse cx="0" cy="0" rx="17.6" ry="20.5" fill="none" stroke="#1a1a1a" stroke-width="1.26"/>
</g>
<g transform="translate(944.4 316.8) rotate(135)">
<ellipse cx="0" cy="0" rx="14.6" ry="17" fill="none" stroke="#1a1a1a" stroke-width="1.26"/>
</g>
<g transform="translate(943.9 317.3) rotate(135)">
<ellipse cx="0" cy="0" rx="9" ry="10.8" fill="none" stroke="#1a1a1a" stroke-width="2.64"/>
</g>
<line x1="937.4" y1="323.8" x2="950.9" y2="310.3" stroke="#1a1a1a" stroke-width="1.15" stroke-linecap="butt"/>
<path d="M943.9 310.3 l5 -1.5 l2 2" fill="none" stroke="#1a1a1a" stroke-width="1.26" stroke-linejoin="round" stroke-linecap="round" />
<line x1="958" y1="303" x2="961.5" y2="299.5" stroke="#1a1a1a" stroke-width="1.26" stroke-linecap="butt"/>
<rect x="919.9" y="329.8" width="13" height="3.2" rx="1.5" fill="#222" transform="rotate(42 926.4 331.3)"/>
<g transform="translate(899.9 362.4) rotate(135)">
<path d="M0 -16.8 L3 -16.8 A15.4 16.8 0 0 1 3 16.8 L0 16.8 A15.4 16.8 0 0 1 0 -16.8Z" fill="#fff" stroke="#1a1a1a" stroke-width="1.61" stroke-linejoin="round"/>
<ellipse cx="0" cy="0" rx="15.4" ry="16.8" fill="#fff" stroke="#1a1a1a" stroke-width="1.61"/>
</g>
<g transform="translate(899.9 362.4) rotate(135)">
<ellipse cx="0" cy="0" rx="11" ry="12.3" fill="none" stroke="#1a1a1a" stroke-width="2.76"/>
</g>
<line x1="893" y1="369.5" x2="907" y2="355.5" stroke="#1a1a1a" stroke-width="1.03" stroke-linecap="butt"/>
<g transform="translate(878.3 383.2) rotate(135)">
<path d="M0 -20.5 L4 -20.5 A18.6 20.5 0 0 1 4 20.5 L0 20.5 A18.6 20.5 0 0 1 0 -20.5Z" fill="#fff" stroke="#1a1a1a" stroke-width="1.61" stroke-linejoin="round"/>
<ellipse cx="0" cy="0" rx="18.6" ry="20.5" fill="#fff" stroke="#1a1a1a" stroke-width="1.84"/>
</g>
<g transform="translate(878.3 383.2) rotate(135)">
<ellipse cx="0" cy="0" rx="14.8" ry="16.3" fill="none" stroke="#1a1a1a" stroke-width="1.26"/>
</g>
<g transform="translate(878.3 383.2) rotate(135)">
<ellipse cx="0" cy="0" rx="11.3" ry="12.6" fill="none" stroke="#1a1a1a" stroke-width="2.18"/>
</g>
<g transform="translate(878.3 383.2) rotate(135)">
<ellipse cx="0" cy="0" rx="7.6" ry="8.6" fill="none" stroke="#1a1a1a" stroke-width="1.49"/>
</g>
<path d="M878.72 387.21 A6.2 5.6 0 0 1 873.97 379.78" fill="none" stroke="#1a1a1a" stroke-width="1.15"/>
<line x1="872.3" y1="389.2" x2="884.3" y2="377.2" stroke="#1a1a1a" stroke-width="1.03" stroke-linecap="butt"/>
<g transform="translate(856 406.8) rotate(135)">
<path d="M0 -7 L25 -7 L25 -8.6 L31 -8.6 L31 -7.4 L47 -7.4 L47 -7 L60 -7 A3.4 7 0 0 1 60 7 L47 7 L47 7.4 L31 7.4 L31 8.6 L25 8.6 L25 7 L0 7Z" fill="#fff" stroke="#1a1a1a" stroke-width="1.72"/>
<path d="M48 -7 L60 -7 A3.4 7 0 0 1 60 7 L48 7Z" fill="#151515" stroke="#1a1a1a" stroke-width="1.15"/>
<line x1="3" y1="-4.4" x2="23" y2="-4.4" stroke="#1a1a1a" stroke-width="2.07"/>
<line x1="3" y1="-1.5" x2="23" y2="-1.5" stroke="#1a1a1a" stroke-width="2.07"/>
<line x1="3" y1="1.5" x2="23" y2="1.5" stroke="#1a1a1a" stroke-width="2.07"/>
<line x1="3" y1="4.4" x2="23" y2="4.4" stroke="#1a1a1a" stroke-width="2.07"/>
<path d="M25 -8.6 A3.6 8.6 0 0 1 25 8.6 M31 -8.6 A3.6 8.6 0 0 1 31 8.6 M28 -8.6 A3.6 8.6 0 0 1 28 8.6" fill="none" stroke="#1a1a1a" stroke-width="1.26"/>
<ellipse cx="0" cy="0" rx="5.8" ry="7" fill="#fff" stroke="#1a1a1a" stroke-width="1.84"/>
<ellipse cx="0" cy="0" rx="2.5" ry="3" fill="#555" stroke="#1a1a1a" stroke-width="1.15"/>
</g>
<line x1="811" y1="450.5" x2="805" y2="456.5" stroke="#1a1a1a" stroke-width="1.03" stroke-linecap="butt"/>
<g transform="translate(797.8 467) rotate(135)">
<path d="M0 -11.4 L4.5 -11.4 A10.4 11.4 0 0 1 4.5 11.4 L0 11.4 A10.4 11.4 0 0 1 0 -11.4Z" fill="#fff" stroke="#1a1a1a" stroke-width="1.72" stroke-linejoin="round"/>
<ellipse cx="0" cy="0" rx="10.4" ry="11.4" fill="#fff" stroke="#1a1a1a" stroke-width="2.3"/>
</g>
<g transform="translate(797.8 467) rotate(135)">
<ellipse cx="1" cy="0" rx="7.2" ry="8" fill="none" stroke="#1a1a1a" stroke-width="1.38"/>
</g>
<line x1="793" y1="472" x2="803" y2="462" stroke="#1a1a1a" stroke-width="0.92" stroke-linecap="butt"/>
<polygon points="762.96,501.96 755.77,510.9 753.85,510.96 751.84,508.95 751.9,507.03 760.84,499.84" fill="#fff" stroke="#1a1a1a" stroke-width="1.49" stroke-linejoin="round"/>
<polygon points="760.15,498.9 751.09,505.92 749.29,505.5 747.94,502.98 748.51,501.08 758.75,496.23" fill="#fff" stroke="#1a1a1a" stroke-width="1.49" stroke-linejoin="round"/>
<polygon points="758.36,495.12 748.05,499.78 746.5,498.92 745.94,496.08 746.97,494.34 757.79,492.12" fill="#fff" stroke="#1a1a1a" stroke-width="1.49" stroke-linejoin="round"/>
<polygon points="757.74,490.92 746.9,492.95 745.71,491.74 745.97,488.83 747.41,487.37 758.06,487.83" fill="#fff" stroke="#1a1a1a" stroke-width="1.49" stroke-linejoin="round"/>
<polygon points="758.35,486.65 747.74,486 746.99,484.54 748.06,481.8 749.8,480.72 759.51,483.72" fill="#fff" stroke="#1a1a1a" stroke-width="1.49" stroke-linejoin="round"/>
<polygon points="760.12,482.65 750.49,479.48 750.22,477.93 752.01,475.56 753.93,474.94 762.05,480.12" fill="#fff" stroke="#1a1a1a" stroke-width="1.49" stroke-linejoin="round"/>
<polygon points="762.92,479.25 754.94,473.93 755.16,472.41 757.53,470.62 759.48,470.49 765.45,477.32" fill="#fff" stroke="#1a1a1a" stroke-width="1.49" stroke-linejoin="round"/>
<polygon points="766.52,476.71 760.72,469.8 761.4,468.46 764.14,467.39 766,467.74 769.45,475.55" fill="#fff" stroke="#1a1a1a" stroke-width="1.49" stroke-linejoin="round"/>
<polygon points="770.63,475.26 767.37,467.41 768.43,466.37 771.34,466.11 772.95,466.9 773.72,474.94" fill="#fff" stroke="#1a1a1a" stroke-width="1.49" stroke-linejoin="round"/>
<polygon points="774.92,474.99 774.34,466.97 775.68,466.34 778.52,466.9 779.78,468.05 777.92,475.56" fill="#fff" stroke="#1a1a1a" stroke-width="1.49" stroke-linejoin="round"/>
<polygon points="779.03,475.95 781.08,468.51 782.58,468.34 785.1,469.69 785.92,471.09 781.7,477.35" fill="#fff" stroke="#1a1a1a" stroke-width="1.49" stroke-linejoin="round"/>
<polygon points="782.64,478.04 787.03,471.9 788.55,472.24 790.56,474.25 790.9,475.77 784.76,480.16" fill="#fff" stroke="#1a1a1a" stroke-width="1.49" stroke-linejoin="round"/>
<polygon points="785.45,481.1 791.71,476.88 793.11,477.7 794.46,480.22 794.29,481.72 786.85,483.77" fill="#fff" stroke="#1a1a1a" stroke-width="1.49" stroke-linejoin="round"/>
<polygon points="787.24,484.88 794.75,483.02 795.9,484.28 796.46,487.12 795.83,488.46 787.81,487.88" fill="#fff" stroke="#1a1a1a" stroke-width="1.49" stroke-linejoin="round"/>
<polygon points="787.86,489.08 795.9,489.85 796.69,491.46 796.43,494.37 795.39,495.43 787.54,492.17" fill="#fff" stroke="#1a1a1a" stroke-width="1.49" stroke-linejoin="round"/>
<polygon points="787.25,493.35 795.06,496.8 795.41,498.66 794.34,501.4 793,502.08 786.09,496.28" fill="#fff" stroke="#1a1a1a" stroke-width="1.49" stroke-linejoin="round"/>
<polygon points="785.48,497.35 792.31,503.32 792.18,505.27 790.39,507.64 788.87,507.86 783.55,499.88" fill="#fff" stroke="#1a1a1a" stroke-width="1.49" stroke-linejoin="round"/>
<polygon points="782.68,500.75 787.86,508.87 787.24,510.79 784.87,512.58 783.32,512.31 780.15,502.68" fill="#fff" stroke="#1a1a1a" stroke-width="1.49" stroke-linejoin="round"/>
<polygon points="779.08,503.29 782.08,513 781,514.74 778.26,515.81 776.8,515.06 776.15,504.45" fill="#fff" stroke="#1a1a1a" stroke-width="1.49" stroke-linejoin="round"/>
<polygon points="774.97,504.74 775.43,515.39 773.97,516.83 771.06,517.09 769.85,515.9 771.88,505.06" fill="#fff" stroke="#1a1a1a" stroke-width="1.49" stroke-linejoin="round"/>
<polygon points="770.68,505.01 768.46,515.83 766.72,516.86 763.88,516.3 763.02,514.75 767.68,504.44" fill="#fff" stroke="#1a1a1a" stroke-width="1.49" stroke-linejoin="round"/>
<polygon points="766.57,504.05 761.72,514.29 759.82,514.86 757.3,513.51 756.88,511.71 763.9,502.65" fill="#fff" stroke="#1a1a1a" stroke-width="1.49" stroke-linejoin="round"/>
<ellipse cx="772.8" cy="490" rx="15.8" ry="14.8" fill="#fff" stroke="#1a1a1a" stroke-width="1.61" transform="rotate(135 772.8 490)"/>
<ellipse cx="773.3" cy="489.5" rx="12.3" ry="11.4" fill="none" stroke="#1a1a1a" stroke-width="1.26" transform="rotate(135 773.3 489.5)"/>
<ellipse cx="773.6" cy="489.2" rx="10.2" ry="9.4" fill="none" stroke="#1a1a1a" stroke-width="1.26" transform="rotate(135 773.6 489.2)"/>
<ellipse cx="772.8" cy="490" rx="7.6" ry="7" fill="#151515" stroke="#1a1a1a" stroke-width="1.15" transform="rotate(135 772.8 490)"/>
<path d="M769.8 494 l3 -2 l2.5 2.5" fill="none" stroke="#ddd" stroke-width="1.03" stroke-linejoin="round" stroke-linecap="round" />
<g transform="translate(748.6 517.4) rotate(135)">
<path d="M0 -14.7 L2.6 -14.7 A13.4 14.7 0 0 1 2.6 14.7 L0 14.7 A13.4 14.7 0 0 1 0 -14.7Z" fill="#151515" stroke="#1a1a1a" stroke-width="1.61" stroke-linejoin="round"/>
</g>
<ellipse cx="748.6" cy="517.4" rx="13.4" ry="14.7" fill="#151515" stroke="#1a1a1a" stroke-width="1.38" transform="rotate(135 748.6 517.4)"/>
<ellipse cx="748.9" cy="517.1" rx="10.4" ry="11.4" fill="#fff" stroke="#1a1a1a" stroke-width="1.15" transform="rotate(135 748.9 517.1)"/>
<ellipse cx="748.9" cy="517.1" rx="8" ry="8.8" fill="#fff" stroke="#1a1a1a" stroke-width="1.38" transform="rotate(135 748.9 517.1)"/>
<ellipse cx="749" cy="517" rx="5.2" ry="5.8" fill="#fff" stroke="#1a1a1a" stroke-width="1.49" transform="rotate(135 749 517)"/>
<line x1="745.1" y1="520.9" x2="752.6" y2="513.4" stroke="#1a1a1a" stroke-width="0.92" stroke-linecap="butt"/>
<path d="M924 541.5 C913 531 912.5 509 925 497.5 C938 485.5 962 486 973.5 500 C982.5 511 982.5 530 971.5 543.5" fill="#fff" stroke="#1a1a1a" stroke-width="2.42" stroke-linecap="round"/>
<path d="M926.5 538.5 C917 529 917 511 927.5 500.5" fill="none" stroke="#1a1a1a" stroke-width="1.15"/>
<ellipse cx="931" cy="497.2" rx="2.5" ry="2.5" fill="#333" stroke="#1a1a1a" stroke-width="1.15"/>
<ellipse cx="931" cy="497.2" rx="1" ry="1" fill="#aaa" stroke="#aaa" stroke-width="0.46"/>
<ellipse cx="943.2" cy="493.2" rx="2.5" ry="2.5" fill="#333" stroke="#1a1a1a" stroke-width="1.15"/>
<ellipse cx="943.2" cy="493.2" rx="1" ry="1" fill="#aaa" stroke="#aaa" stroke-width="0.46"/>
<ellipse cx="957" cy="496" rx="2.5" ry="2.5" fill="#333" stroke="#1a1a1a" stroke-width="1.15"/>
<ellipse cx="957" cy="496" rx="1" ry="1" fill="#aaa" stroke="#aaa" stroke-width="0.46"/>
<ellipse cx="974.7" cy="518.7" rx="2.5" ry="2.5" fill="#333" stroke="#1a1a1a" stroke-width="1.15"/>
<ellipse cx="974.7" cy="518.7" rx="1" ry="1" fill="#aaa" stroke="#aaa" stroke-width="0.46"/>
<ellipse cx="922" cy="521" rx="2.5" ry="2.5" fill="#333" stroke="#1a1a1a" stroke-width="1.15"/>
<ellipse cx="922" cy="521" rx="1" ry="1" fill="#aaa" stroke="#aaa" stroke-width="0.46"/>
<rect x="923.5" y="527" width="3.4" height="6.4" rx="1.6" fill="#222" transform="rotate(-25 925 530)"/>
<g transform="translate(948.6 519.6) rotate(135)">
<ellipse cx="0" cy="0" rx="19.8" ry="21.5" fill="none" stroke="#1a1a1a" stroke-width="2.18"/>
</g>
<g transform="translate(949.1 519.1) rotate(135)">
<ellipse cx="0" cy="0" rx="17.4" ry="19" fill="none" stroke="#1a1a1a" stroke-width="1.26"/>
</g>
<path d="M937.61 525.33 Q947.01 533.08 958.63 530.31" fill="none" stroke="#1a1a1a" stroke-width="2.99" stroke-linejoin="round" stroke-linecap="round" />
<path d="M935.95 529.21 Q947.01 537.51 961.4 533.63" fill="none" stroke="#1a1a1a" stroke-width="1.84" stroke-linejoin="round" stroke-linecap="round" />
<path d="M933.18 532.53 Q945.91 541.93 962.51 537.51" fill="none" stroke="#1a1a1a" stroke-width="2.53" stroke-linejoin="round" stroke-linecap="round" />
<path d="M958.63 527.55 L961.4 533.63 L956.97 540.83 L962.51 538.61 L967.49 546.36" fill="none" stroke="#1a1a1a" stroke-width="1.72" stroke-linejoin="round" stroke-linecap="round" />
<g transform="translate(936.17 532.64) rotate(133)">
<path d="M-3 -9.5 L9 -9 L9 9 L-3 9.5Z" fill="#fff" stroke="#1a1a1a" stroke-width="1.49"/>
<path d="M9 -7.8 L22 -7.8 A5 7.8 0 0 1 22 7.8 L9 7.8Z" fill="#151515" stroke="#1a1a1a" stroke-width="1.38"/>
<path d="M9 -9 A4 9 0 0 1 9 9" fill="none" stroke="#1a1a1a" stroke-width="1.26"/>
</g>
<g transform="translate(960.3 507.1) rotate(135)">
<path d="M0 -6 L19 -7.5 A5 7.5 0 0 1 19 7.5 L0 6Z" fill="#151515" stroke="#1a1a1a" stroke-width="1.26"/>
<line x1="3" y1="-2.2" x2="19" y2="-2.75" stroke="#fff" stroke-width="1.72" stroke-dasharray="3.4 1.8"/>
<line x1="3" y1="2.2" x2="19" y2="2.75" stroke="#fff" stroke-width="1.72" stroke-dasharray="3.4 1.8"/>
<line x1="3" y1="0" x2="20" y2="0" stroke="#fff" stroke-width="0.92"/>
<ellipse cx="0" cy="0" rx="5.4" ry="6" fill="#fff" stroke="#1a1a1a" stroke-width="2.07"/>
<ellipse cx="0" cy="0" rx="2.3" ry="2.6" fill="#333" stroke="#1a1a1a" stroke-width="0.92"/>
</g>
<g transform="translate(553.9 631.9) rotate(215)">
<ellipse cx="0" cy="0" rx="6" ry="8.4" fill="none" stroke="#1a1a1a" stroke-width="2.53"/>
</g>
<line x1="552.94" y1="633.28" x2="553.13" y2="627.77" stroke="#1a1a1a" stroke-width="0.92" stroke-linecap="butt"/>
<g transform="translate(567.01 641.08) rotate(215)">
<path d="M0 -9.8 L3.5 -9.8 A7 9.8 0 0 1 3.5 9.8 L0 9.8 A7 9.8 0 0 1 0 -9.8Z" fill="#fff" stroke="#1a1a1a" stroke-width="1.72" stroke-linejoin="round"/>
<ellipse cx="0" cy="0" rx="7" ry="9.8" fill="#fff" stroke="#1a1a1a" stroke-width="2.07"/>
</g>
<g transform="translate(567.01 641.08) rotate(215)">
<ellipse cx="0" cy="0" rx="4.2" ry="6.2" fill="none" stroke="#1a1a1a" stroke-width="1.49"/>
</g>
<g transform="translate(591.17 658) rotate(215)">
<polygon points="-4.07,-16.77 10.11,-12.94 11.31,-13.44 -0.05,-18.43" fill="#fff" stroke="#1a1a1a" stroke-width="1.72" stroke-linejoin="round"/>
<polygon points="2.05,-18.43 14.69,-13.44 15.89,-12.94 6.07,-16.77" fill="#fff" stroke="#1a1a1a" stroke-width="1.72" stroke-linejoin="round"/>
<polygon points="7.88,-15.15 18.83,-10.33 19.7,-8.98 10.83,-10.61" fill="#fff" stroke="#1a1a1a" stroke-width="1.72" stroke-linejoin="round"/>
<polygon points="11.88,-7.82 21.4,-4.46 21.72,-2.61 12.95,-1.61" fill="#fff" stroke="#1a1a1a" stroke-width="1.72" stroke-linejoin="round"/>
<polygon points="12.95,1.61 21.72,2.61 21.4,4.46 11.88,7.82" fill="#fff" stroke="#1a1a1a" stroke-width="1.72" stroke-linejoin="round"/>
<polygon points="10.83,10.61 19.7,8.98 18.83,10.33 7.88,15.15" fill="#fff" stroke="#1a1a1a" stroke-width="1.72" stroke-linejoin="round"/>
<polygon points="6.07,16.77 15.89,12.94 14.69,13.44 2.05,18.43" fill="#fff" stroke="#1a1a1a" stroke-width="1.72" stroke-linejoin="round"/>
<polygon points="-0.05,18.43 11.31,13.44 10.11,12.94 -4.07,16.77" fill="#fff" stroke="#1a1a1a" stroke-width="1.72" stroke-linejoin="round"/>
<ellipse cx="1" cy="0" rx="11.28" ry="17.39" fill="#fff" stroke="#1a1a1a" stroke-width="1.61"/>
<ellipse cx="0" cy="0" rx="9.6" ry="14.8" fill="#fff" stroke="#1a1a1a" stroke-width="1.38"/>
<ellipse cx="0" cy="0" rx="7.68" ry="11.47" fill="#151515" stroke="#1a1a1a" stroke-width="1.15"/>
</g>
<g transform="translate(610.83 671.76) rotate(215)">
<path d="M0 -15.6 L6 -15.6 A9.6 15.6 0 0 1 6 15.6 L0 15.6 A9.6 15.6 0 0 1 0 -15.6Z" fill="#fff" stroke="#1a1a1a" stroke-width="1.61" stroke-linejoin="round"/>
<ellipse cx="0" cy="0" rx="9.6" ry="15.6" fill="#fff" stroke="#1a1a1a" stroke-width="1.84"/>
</g>
<g transform="translate(610.83 671.76) rotate(215)">
<ellipse cx="0" cy="0" rx="7.4" ry="12.3" fill="none" stroke="#1a1a1a" stroke-width="1.26"/>
</g>
<g transform="translate(610.83 671.76) rotate(215)">
<ellipse cx="0" cy="0" rx="5.4" ry="9.2" fill="none" stroke="#1a1a1a" stroke-width="3.68"/>
</g>
<g transform="translate(610.83 671.76) rotate(215)">
<ellipse cx="0" cy="0" rx="2" ry="4.5" fill="#fff" stroke="#1a1a1a" stroke-width="1.15"/>
</g>
<g transform="translate(631.15 687.21) rotate(215)">
<path d="M0 -35 L1.5 -35 A18.5 35 0 0 1 1.5 35 L0 35 A18.5 35 0 0 1 0 -35Z" fill="#fff" stroke="#1a1a1a" stroke-width="1.61" stroke-linejoin="round"/>
<ellipse cx="0" cy="0" rx="18.5" ry="35" fill="#fff" stroke="#1a1a1a" stroke-width="1.61"/>
</g>
<g transform="translate(632.26 664.37) rotate(215)">
<ellipse cx="0" cy="0" rx="1.36" ry="2" fill="#fff" stroke="#1a1a1a" stroke-width="1.26"/>
</g>
<g transform="translate(647.21 661.85) rotate(215)">
<ellipse cx="0" cy="0" rx="1.36" ry="2" fill="#fff" stroke="#1a1a1a" stroke-width="1.26"/>
</g>
<g transform="translate(652.75 674.19) rotate(215)">
<ellipse cx="0" cy="0" rx="1.36" ry="2" fill="#fff" stroke="#1a1a1a" stroke-width="1.26"/>
</g>
<g transform="translate(626.3 711.96) rotate(215)">
<ellipse cx="0" cy="0" rx="1.36" ry="2" fill="#fff" stroke="#1a1a1a" stroke-width="1.26"/>
</g>
<g transform="translate(612.81 710.98) rotate(215)">
<ellipse cx="0" cy="0" rx="1.36" ry="2" fill="#fff" stroke="#1a1a1a" stroke-width="1.26"/>
</g>
<g transform="translate(610.06 696.07) rotate(215)">
<ellipse cx="0" cy="0" rx="1.36" ry="2" fill="#fff" stroke="#1a1a1a" stroke-width="1.26"/>
</g>
<g transform="translate(631.15 687.21) rotate(215)">
<ellipse cx="0" cy="0" rx="12.5" ry="24" fill="none" stroke="#1a1a1a" stroke-width="1.15"/>
</g>
<g transform="translate(648.1 697.86) rotate(215)">
<path d="M0 -34.5 L3 -34.5 A19 34.5 0 0 1 3 34.5 L0 34.5 A19 34.5 0 0 1 0 -34.5Z" fill="#fff" stroke="#1a1a1a" stroke-width="1.72" stroke-linejoin="round"/>
<ellipse cx="0" cy="0" rx="19" ry="34.5" fill="#fff" stroke="#1a1a1a" stroke-width="1.72"/>
</g>
<g transform="translate(646.91 676.5) rotate(215)">
<ellipse cx="0" cy="0" rx="1.4" ry="2" fill="#fff" stroke="#1a1a1a" stroke-width="1.26"/>
</g>
<g transform="translate(662.37 672.6) rotate(215)">
<ellipse cx="0" cy="0" rx="1.4" ry="2" fill="#fff" stroke="#1a1a1a" stroke-width="1.26"/>
</g>
<g transform="translate(669.47 683.5) rotate(215)">
<ellipse cx="0" cy="0" rx="1.4" ry="2" fill="#fff" stroke="#1a1a1a" stroke-width="1.26"/>
</g>
<g transform="translate(641.91 722.85) rotate(215)">
<ellipse cx="0" cy="0" rx="1.4" ry="2" fill="#fff" stroke="#1a1a1a" stroke-width="1.26"/>
</g>
<g transform="translate(629.24 719.91) rotate(215)">
<ellipse cx="0" cy="0" rx="1.4" ry="2" fill="#fff" stroke="#1a1a1a" stroke-width="1.26"/>
</g>
<g transform="translate(627.62 704.05) rotate(215)">
<ellipse cx="0" cy="0" rx="1.4" ry="2" fill="#fff" stroke="#1a1a1a" stroke-width="1.26"/>
</g>
<rect x="632.1" y="706.86" width="3" height="9" rx="1.4" fill="#222" transform="rotate(12 634.1 710.86)"/>
<g transform="translate(664.49 709.33) rotate(215)">
<path d="M0 -20 L19 -20 A11.8 20 0 0 1 19 20 L0 20 A11.8 20 0 0 1 0 -20Z" fill="#fff" stroke="#1a1a1a" stroke-width="1.61" stroke-linejoin="round"/>
</g>
<g transform="translate(664.49 709.33) rotate(215)">
<path d="M1 -17 L18 -17 M1 17 L18 17 M3 -11 L19 -11 M4 11 L20 11" stroke="#1a1a1a" stroke-width="1.26" fill="none"/>
<path d="M-2 -19 L3 -21.5 L3 15 L-2 21 L-9 16 L-10.5 -14Z" fill="#fff" stroke="#1a1a1a" stroke-width="1.61" stroke-linejoin="round"/>
<path d="M-2 -19 L-2 21" stroke="#1a1a1a" stroke-width="1.15" fill="none"/>
<ellipse cx="-3" cy="0" rx="8.6" ry="16" fill="#fff" stroke="#1a1a1a" stroke-width="1.72"/>
<ellipse cx="-2.6" cy="0" rx="6.4" ry="12" fill="#fff" stroke="#1a1a1a" stroke-width="1.38"/>
<ellipse cx="-1.8" cy="0" rx="5" ry="9.6" fill="none" stroke="#1a1a1a" stroke-width="2.3" stroke-dasharray="1 0.9"/>
</g>
<g transform="translate(684.15 723.1) rotate(215)">
<path d="M0 -15.8 L6 -15.8 A9.8 15.8 0 0 1 6 15.8 L0 15.8 A9.8 15.8 0 0 1 0 -15.8Z" fill="#fff" stroke="#1a1a1a" stroke-width="1.61" stroke-linejoin="round"/>
<ellipse cx="0" cy="0" rx="9.8" ry="15.8" fill="#fff" stroke="#1a1a1a" stroke-width="1.84"/>
</g>
<g transform="translate(684.15 723.1) rotate(215)">
<ellipse cx="0" cy="0" rx="7.5" ry="12.4" fill="none" stroke="#1a1a1a" stroke-width="1.26"/>
</g>
<g transform="translate(684.15 723.1) rotate(215)">
<ellipse cx="0" cy="0" rx="5.4" ry="9.2" fill="none" stroke="#1a1a1a" stroke-width="3.68"/>
</g>
<g transform="translate(684.15 723.1) rotate(215)">
<ellipse cx="0" cy="0" rx="2" ry="4.5" fill="#fff" stroke="#1a1a1a" stroke-width="1.15"/>
</g>
<g transform="translate(691.93 728.55) rotate(35)">
<path d="M0 -6.6 L27 -6.6 L28 -7 L47 -7 L48 -8 L52 -8 L52 -7.6 L86 -7.6 A4.4 7.6 0 0 1 86 7.6 L52 7.6 L52 8 L48 8 L47 7 L28 7 L27 6.6 L0 6.6 A3.8 6.6 0 0 1 0 -6.6Z" fill="#fff" stroke="#1a1a1a" stroke-width="1.61"/>
<path d="M0 -6.6 L26 -6.6 A3.8 6.6 0 0 1 26 6.6 L0 6.6 A3.8 6.6 0 0 1 0 -6.6Z" fill="#151515" stroke="#1a1a1a" stroke-width="1.15"/>
<path d="M47 -7 A4 7 0 0 1 47 7 M50 -8 A4.5 8 0 0 1 50 8 M52 -7.6 A4.4 7.6 0 0 1 52 7.6 M30 -7 A4 7 0 0 1 30 7" fill="none" stroke="#1a1a1a" stroke-width="1.15"/>
<line x1="56" y1="-4.6" x2="84" y2="-4.6" stroke="#1a1a1a" stroke-width="1.72"/>
<line x1="56" y1="-1.6" x2="84" y2="-1.6" stroke="#1a1a1a" stroke-width="1.72"/>
<line x1="56" y1="1.4" x2="84" y2="1.4" stroke="#1a1a1a" stroke-width="1.72"/>
<line x1="56" y1="4.4" x2="84" y2="4.4" stroke="#1a1a1a" stroke-width="1.72"/>
<rect x="76" y="-7" width="3" height="14" fill="#fff" opacity="0.85"/>
<ellipse cx="87.5" cy="1.5" rx="1.1" ry="1.6" fill="#fff" stroke="#1a1a1a" stroke-width="1.03"/>
</g>
<g transform="translate(778.76 789.35) rotate(215)">
<path d="M0 -15.6 L2.5 -15.6 A10.5 15.6 0 0 1 2.5 15.6 L0 15.6 A10.5 15.6 0 0 1 0 -15.6Z" fill="#fff" stroke="#1a1a1a" stroke-width="1.61" stroke-linejoin="round"/>
<ellipse cx="0" cy="0" rx="10.5" ry="15.6" fill="#fff" stroke="#1a1a1a" stroke-width="1.84"/>
</g>
<g transform="translate(778.76 789.35) rotate(215)">
<ellipse cx="0" cy="0" rx="6.8" ry="10.6" fill="none" stroke="#1a1a1a" stroke-width="2.53"/>
</g>
<line x1="780.48" y1="786.89" x2="779.49" y2="793.52" stroke="#1a1a1a" stroke-width="0.92" stroke-linecap="butt"/>
<path d="M503.84 769.94 C507.83 765.46 516.79 763.47 522.77 766.95 C528.75 770.94 530.24 780.9 528.75 788.37 L520.78 784.88 511.81 778.9 504.84 774.92 Z " fill="#fff" stroke="#1a1a1a" stroke-width="2.16" stroke-linejoin="round" stroke-linecap="round" />
<path d="M508.82 778.9 C511.81 773.92 517.79 773.92 520.78 779.9 " fill="none" stroke="#1a1a1a" stroke-width="1.72" stroke-linejoin="round" stroke-linecap="round" />
<ellipse cx="523.27" cy="774.42" rx="1.5" ry="2.4" fill="#fff" stroke="#1a1a1a" stroke-width="1.26" transform="rotate(35 523.27 774.42)"/>
<path d="M478.45 797.83 C476.95 806.79 479.94 818.75 485.92 824.22 C491.89 827.21 499.86 826.22 504.34 823.73 L497.87 814.76 489.9 810.78 484.92 799.82 Z " fill="#fff" stroke="#1a1a1a" stroke-width="2.3" stroke-linejoin="round" stroke-linecap="round" />
<path d="M482.43 801.81 C481.43 808.78 483.92 816.75 488.9 821.73 " fill="none" stroke="#1a1a1a" stroke-width="1.58" stroke-linejoin="round" stroke-linecap="round" />
<ellipse cx="487.91" cy="819.74" rx="1.5" ry="2.4" fill="#fff" stroke="#1a1a1a" stroke-width="1.26" transform="rotate(35 487.91 819.74)"/>
<path d="M485.42 806.79 L486.12 814.76 " fill="none" stroke="#1a1a1a" stroke-width="4.6" stroke-linejoin="round" stroke-linecap="round" />
<path d="M494.88 779.9 L534.72 793.35 C538.71 796.83 537.71 806.79 532.73 814.76 C528.75 822.73 521.77 826.71 516.79 824.72 L489.4 812.27 C484.92 804.8 487.91 787.87 494.88 779.9 Z " fill="#fff" stroke="#1a1a1a" stroke-width="2.16" stroke-linejoin="round" stroke-linecap="round" />
<path d="M498.86 781.1 C493.88 787.87 491.89 799.82 494.88 810.78 " fill="none" stroke="#1a1a1a" stroke-width="3.74" stroke-linejoin="round" stroke-linecap="round" />
<path d="M503.35 783.39 C498.37 789.86 496.37 801.81 499.36 813.27 " fill="none" stroke="#1a1a1a" stroke-width="1.87" stroke-linejoin="round" stroke-linecap="round" />
<path d="M511.81 787.87 C506.83 794.84 504.84 804.8 507.83 816.75 " fill="none" stroke="#1a1a1a" stroke-width="1.87" stroke-linejoin="round" stroke-linecap="round" />
<path d="M516.79 790.86 C511.81 797.83 510.32 807.79 512.81 818.75 " fill="none" stroke="#1a1a1a" stroke-width="3.74" stroke-linejoin="round" stroke-linecap="round" />
<path d="M499.36 784.88 L528.75 795.84 M494.88 801.81 L509.82 810.78 M491.39 810.78 L506.83 819.74 M507.83 777.91 L533.73 789.86 " fill="none" stroke="#1a1a1a" stroke-width="2.3" stroke-linejoin="round" stroke-linecap="round" />
<ellipse cx="523.76" cy="808.78" rx="8.6" ry="14.2" fill="#fff" stroke="#1a1a1a" stroke-width="2.76" transform="rotate(35 523.76 808.78)"/>
<ellipse cx="523.76" cy="808.78" rx="6" ry="10.4" fill="#fff" stroke="#1a1a1a" stroke-width="1.49" transform="rotate(35 523.76 808.78)"/>
<path d="M511.81 819.74 L514.8 824.72 520.78 823.73 " fill="none" stroke="#1a1a1a" stroke-width="2.16" stroke-linejoin="round" stroke-linecap="round" />
<path d="M494.88 779.9 C488.9 770.94 479.94 771.93 476.95 779.9 C474.46 787.87 476.95 794.84 480.94 797.83 L489.4 794.84 C486.41 789.86 488.9 782.89 494.88 779.9 Z " fill="#fff" stroke="#1a1a1a" stroke-width="3.16" stroke-linejoin="round" stroke-linecap="round" />
<path d="M479.94 779.9 L486.41 776.41 484.92 780.9 489.9 779.4 486.41 784.88 488.41 787.87 481.93 788.86 486.41 791.85 480.94 794.84 " fill="none" stroke="#1a1a1a" stroke-width="2.73" stroke-linejoin="round" stroke-linecap="round" />
<path d="M491.89 773.92 L497.87 777.91 M500.86 771.93 L504.84 776.41 M478.94 796.83 L484.92 799.82 " fill="none" stroke="#1a1a1a" stroke-width="2.59" stroke-linejoin="round" stroke-linecap="round" />
<g transform="translate(518.78 805.8) rotate(33)">
<path d="M0 -6.9 L35 -6.9 A4 6.9 0 0 1 35 6.9 L0 6.9 A4 6.9 0 0 1 0 -6.9Z" fill="#fff" stroke="#1a1a1a" stroke-width="1.72"/>
<line x1="1" y1="-4.4" x2="33" y2="-4.4" stroke="#1a1a1a" stroke-width="2.07"/>
<line x1="1" y1="-1.6" x2="33" y2="-1.6" stroke="#1a1a1a" stroke-width="2.07"/>
<line x1="1" y1="1.2" x2="33" y2="1.2" stroke="#1a1a1a" stroke-width="2.07"/>
<line x1="1" y1="4" x2="33" y2="4" stroke="#1a1a1a" stroke-width="2.07"/>
<rect x="19" y="-6.2" width="2.4" height="12.4" fill="#fff" opacity="0.9"/>
<rect x="27" y="-6.2" width="2" height="12.4" fill="#fff" opacity="0.9"/>
<ellipse cx="35.4" cy="0.4" rx="1.3" ry="1.9" fill="#fff" stroke="#1a1a1a" stroke-width="1.03"/>
</g>
<line x1="240.75" y1="130.75" x2="240.75" y2="162" stroke="#1a1a1a" stroke-width="1.15" stroke-linecap="butt"/>
<line x1="305" y1="160" x2="260" y2="194.5" stroke="#1a1a1a" stroke-width="1.15" stroke-linecap="butt"/>
<line x1="165" y1="161.25" x2="220" y2="200" stroke="#1a1a1a" stroke-width="1.15" stroke-linecap="butt"/>
<line x1="305" y1="212.5" x2="284.5" y2="227.5" stroke="#1a1a1a" stroke-width="1.15" stroke-linecap="butt"/>
<line x1="166" y1="209.5" x2="223.75" y2="250" stroke="#1a1a1a" stroke-width="1.15" stroke-linecap="butt"/>
<line x1="195.5" y1="261" x2="235" y2="287.5" stroke="#1a1a1a" stroke-width="1.15" stroke-linecap="butt"/>
<line x1="305" y1="289" x2="271" y2="311" stroke="#1a1a1a" stroke-width="1.15" stroke-linecap="butt"/>
<line x1="196" y1="340" x2="241" y2="372" stroke="#1a1a1a" stroke-width="1.15" stroke-linecap="butt"/>
<line x1="196" y1="407" x2="240.5" y2="437" stroke="#1a1a1a" stroke-width="1.15" stroke-linecap="butt"/>
<line x1="196.25" y1="449.5" x2="226.25" y2="470" stroke="#1a1a1a" stroke-width="1.15" stroke-linecap="butt"/>
<line x1="196.25" y1="485" x2="237.5" y2="512.5" stroke="#1a1a1a" stroke-width="1.15" stroke-linecap="butt"/>
<line x1="345" y1="426.25" x2="332.5" y2="415" stroke="#1a1a1a" stroke-width="1.15" stroke-linecap="butt"/>
<line x1="314" y1="449" x2="296" y2="436" stroke="#1a1a1a" stroke-width="1.15" stroke-linecap="butt"/>
<line x1="372.5" y1="328.5" x2="372.5" y2="346" stroke="#1a1a1a" stroke-width="1.15" stroke-linecap="butt"/>
<line x1="405" y1="305.75" x2="405" y2="327.5" stroke="#1a1a1a" stroke-width="1.15" stroke-linecap="butt"/>
<line x1="443.75" y1="356.25" x2="426.25" y2="346.25" stroke="#1a1a1a" stroke-width="1.15" stroke-linecap="butt"/>
<line x1="458.75" y1="267" x2="458.75" y2="306" stroke="#1a1a1a" stroke-width="1.15" stroke-linecap="butt"/>
<line x1="502" y1="236.5" x2="502" y2="257.5" stroke="#1a1a1a" stroke-width="1.15" stroke-linecap="butt"/>
<line x1="560" y1="273.75" x2="552.5" y2="253.75" stroke="#1a1a1a" stroke-width="1.15" stroke-linecap="butt"/>
<line x1="538.75" y1="292.75" x2="538.75" y2="278.75" stroke="#1a1a1a" stroke-width="1.15" stroke-linecap="butt"/>
<line x1="474.5" y1="43.75" x2="504.5" y2="43.75" stroke="#1a1a1a" stroke-width="1.15" stroke-linecap="butt"/>
<line x1="504.5" y1="43.75" x2="565" y2="85" stroke="#1a1a1a" stroke-width="1.15" stroke-linecap="butt"/>
<line x1="631" y1="66" x2="616" y2="77.5" stroke="#1a1a1a" stroke-width="1.15" stroke-linecap="butt"/>
<line x1="526" y1="106" x2="552.5" y2="125" stroke="#1a1a1a" stroke-width="1.15" stroke-linecap="butt"/>
<line x1="526" y1="143.75" x2="576" y2="178.75" stroke="#1a1a1a" stroke-width="1.15" stroke-linecap="butt"/>
<line x1="526" y1="187.5" x2="558.75" y2="208.75" stroke="#1a1a1a" stroke-width="1.15" stroke-linecap="butt"/>
<line x1="641" y1="134" x2="634.5" y2="165" stroke="#1a1a1a" stroke-width="1.15" stroke-linecap="butt"/>
<line x1="718.25" y1="82.75" x2="718.25" y2="121" stroke="#1a1a1a" stroke-width="1.15" stroke-linecap="butt"/>
<line x1="771.25" y1="45.25" x2="771.25" y2="66" stroke="#1a1a1a" stroke-width="1.15" stroke-linecap="butt"/>
<line x1="841" y1="48.75" x2="821" y2="62.5" stroke="#1a1a1a" stroke-width="1.15" stroke-linecap="butt"/>
<line x1="676" y1="191.5" x2="666" y2="184.5" stroke="#1a1a1a" stroke-width="1.15" stroke-linecap="butt"/>
<line x1="645" y1="213" x2="627.5" y2="200" stroke="#1a1a1a" stroke-width="1.15" stroke-linecap="butt"/>
<line x1="614.25" y1="244.5" x2="600" y2="244.5" stroke="#1a1a1a" stroke-width="1.15" stroke-linecap="butt"/>
<line x1="675.5" y1="282.75" x2="675.5" y2="346" stroke="#1a1a1a" stroke-width="1.15" stroke-linecap="butt"/>
<line x1="639.25" y1="308.25" x2="639.25" y2="337.5" stroke="#1a1a1a" stroke-width="1.15" stroke-linecap="butt"/>
<line x1="606.5" y1="331.75" x2="606.5" y2="360" stroke="#1a1a1a" stroke-width="1.15" stroke-linecap="butt"/>
<line x1="714.25" y1="255" x2="714.25" y2="302.5" stroke="#1a1a1a" stroke-width="1.15" stroke-linecap="butt"/>
<line x1="751.75" y1="227.75" x2="751.75" y2="255" stroke="#1a1a1a" stroke-width="1.15" stroke-linecap="butt"/>
<line x1="793.75" y1="198.75" x2="793.75" y2="222" stroke="#1a1a1a" stroke-width="1.15" stroke-linecap="butt"/>
<line x1="832.5" y1="171.25" x2="832.5" y2="198.75" stroke="#1a1a1a" stroke-width="1.15" stroke-linecap="butt"/>
<line x1="863.75" y1="148.75" x2="863.75" y2="193.75" stroke="#1a1a1a" stroke-width="1.15" stroke-linecap="butt"/>
<line x1="902.5" y1="148.75" x2="902.5" y2="190" stroke="#1a1a1a" stroke-width="1.15" stroke-linecap="butt"/>
<line x1="941.25" y1="178.75" x2="895" y2="213.75" stroke="#1a1a1a" stroke-width="1.15" stroke-linecap="butt"/>
<line x1="995" y1="229.5" x2="995" y2="253.75" stroke="#1a1a1a" stroke-width="1.15" stroke-linecap="butt"/>
<line x1="961.75" y1="271.5" x2="970.5" y2="277.5" stroke="#1a1a1a" stroke-width="1.15" stroke-linecap="butt"/>
<line x1="1005" y1="308.75" x2="985.5" y2="304.25" stroke="#1a1a1a" stroke-width="1.15" stroke-linecap="butt"/>
<line x1="988" y1="340" x2="971.75" y2="327.5" stroke="#1a1a1a" stroke-width="1.15" stroke-linecap="butt"/>
<line x1="963" y1="365.5" x2="950.5" y2="356.25" stroke="#1a1a1a" stroke-width="1.15" stroke-linecap="butt"/>
<line x1="940.5" y1="388.75" x2="914.25" y2="370" stroke="#1a1a1a" stroke-width="1.15" stroke-linecap="butt"/>
<line x1="911.25" y1="417.5" x2="887.5" y2="401.25" stroke="#1a1a1a" stroke-width="1.15" stroke-linecap="butt"/>
<line x1="880" y1="450" x2="847.5" y2="428.75" stroke="#1a1a1a" stroke-width="1.15" stroke-linecap="butt"/>
<line x1="772.5" y1="339" x2="762.5" y2="332.5" stroke="#1a1a1a" stroke-width="1.15" stroke-linecap="butt"/>
<line x1="743.75" y1="361" x2="732.5" y2="352.5" stroke="#1a1a1a" stroke-width="1.15" stroke-linecap="butt"/>
<line x1="693.75" y1="394.5" x2="678.75" y2="383.75" stroke="#1a1a1a" stroke-width="1.15" stroke-linecap="butt"/>
<line x1="647" y1="460" x2="630" y2="448.75" stroke="#1a1a1a" stroke-width="1.15" stroke-linecap="butt"/>
<line x1="601" y1="492.5" x2="571.25" y2="471.25" stroke="#1a1a1a" stroke-width="1.15" stroke-linecap="butt"/>
<line x1="556" y1="514.5" x2="531" y2="495" stroke="#1a1a1a" stroke-width="1.15" stroke-linecap="butt"/>
<line x1="518.25" y1="394.5" x2="518.25" y2="420" stroke="#1a1a1a" stroke-width="1.15" stroke-linecap="butt"/>
<line x1="478.75" y1="422.5" x2="478.75" y2="465" stroke="#1a1a1a" stroke-width="1.15" stroke-linecap="butt"/>
<line x1="427.5" y1="449" x2="420" y2="460" stroke="#1a1a1a" stroke-width="1.15" stroke-linecap="butt"/>
<line x1="373.75" y1="486.5" x2="367.5" y2="493.75" stroke="#1a1a1a" stroke-width="1.15" stroke-linecap="butt"/>
<line x1="332" y1="526.25" x2="356.25" y2="532.5" stroke="#1a1a1a" stroke-width="1.15" stroke-linecap="butt"/>
<line x1="286.25" y1="559" x2="286.25" y2="587.5" stroke="#1a1a1a" stroke-width="1.15" stroke-linecap="butt"/>
<line x1="172.5" y1="639.5" x2="172.5" y2="660" stroke="#1a1a1a" stroke-width="1.15" stroke-linecap="butt"/>
<line x1="143.75" y1="662.5" x2="151.25" y2="686.25" stroke="#1a1a1a" stroke-width="1.15" stroke-linecap="butt"/>
<line x1="510" y1="557.5" x2="480" y2="536.25" stroke="#1a1a1a" stroke-width="1.15" stroke-linecap="butt"/>
<line x1="458.25" y1="593.75" x2="441.25" y2="582.5" stroke="#1a1a1a" stroke-width="1.15" stroke-linecap="butt"/>
<line x1="430" y1="615" x2="421.25" y2="608.75" stroke="#1a1a1a" stroke-width="1.15" stroke-linecap="butt"/>
<line x1="390" y1="643.75" x2="345" y2="623.75" stroke="#1a1a1a" stroke-width="1.15" stroke-linecap="butt"/>
<line x1="393.75" y1="637.5" x2="371.25" y2="611.25" stroke="#1a1a1a" stroke-width="1.15" stroke-linecap="butt"/>
<line x1="342.5" y1="677.5" x2="312.5" y2="657.5" stroke="#1a1a1a" stroke-width="1.15" stroke-linecap="butt"/>
<line x1="307.5" y1="701.5" x2="290" y2="688.75" stroke="#1a1a1a" stroke-width="1.15" stroke-linecap="butt"/>
<line x1="268.5" y1="728.75" x2="238.75" y2="707.5" stroke="#1a1a1a" stroke-width="1.15" stroke-linecap="butt"/>
<line x1="241.5" y1="747.5" x2="207.5" y2="722.5" stroke="#1a1a1a" stroke-width="1.15" stroke-linecap="butt"/>
<line x1="199.5" y1="777.5" x2="156.25" y2="747.5" stroke="#1a1a1a" stroke-width="1.15" stroke-linecap="butt"/>
<line x1="573" y1="593.5" x2="573" y2="633.75" stroke="#1a1a1a" stroke-width="1.15" stroke-linecap="butt"/>
<line x1="515" y1="660" x2="547.5" y2="638.75" stroke="#1a1a1a" stroke-width="1.15" stroke-linecap="butt"/>
<line x1="548.75" y1="683.75" x2="572.5" y2="670" stroke="#1a1a1a" stroke-width="1.15" stroke-linecap="butt"/>
<line x1="615" y1="622.75" x2="615" y2="655" stroke="#1a1a1a" stroke-width="1.15" stroke-linecap="butt"/>
<line x1="666.75" y1="650.25" x2="666.75" y2="671.25" stroke="#1a1a1a" stroke-width="1.15" stroke-linecap="butt"/>
<line x1="694.5" y1="679.5" x2="694.5" y2="710" stroke="#1a1a1a" stroke-width="1.15" stroke-linecap="butt"/>
<line x1="595" y1="717" x2="610" y2="707.5" stroke="#1a1a1a" stroke-width="1.15" stroke-linecap="butt"/>
<line x1="635.5" y1="746" x2="645" y2="740" stroke="#1a1a1a" stroke-width="1.15" stroke-linecap="butt"/>
<line x1="685" y1="780.5" x2="716.25" y2="758.75" stroke="#1a1a1a" stroke-width="1.15" stroke-linecap="butt"/>
<line x1="744" y1="823" x2="770" y2="806.25" stroke="#1a1a1a" stroke-width="1.15" stroke-linecap="butt"/>
<line x1="614.5" y1="856.75" x2="584.5" y2="856.75" stroke="#1a1a1a" stroke-width="1.15" stroke-linecap="butt"/>
<line x1="584.5" y1="856.75" x2="550" y2="832.5" stroke="#1a1a1a" stroke-width="1.15" stroke-linecap="butt"/>
<line x1="788" y1="447" x2="802.5" y2="457.5" stroke="#1a1a1a" stroke-width="1.15" stroke-linecap="butt"/>
<line x1="806.25" y1="525" x2="788.75" y2="513.75" stroke="#1a1a1a" stroke-width="1.15" stroke-linecap="butt"/>
<line x1="779" y1="552" x2="750" y2="530" stroke="#1a1a1a" stroke-width="1.15" stroke-linecap="butt"/>
<line x1="965.5" y1="610" x2="948.75" y2="610" stroke="#1a1a1a" stroke-width="1.15" stroke-linecap="butt"/>
<line x1="948.75" y1="610" x2="968" y2="547.5" stroke="#1a1a1a" stroke-width="1.15" stroke-linecap="butt"/>
<line x1="250.75" y1="522" x2="250.75" y2="566" stroke="#1a1a1a" stroke-width="1.2" stroke-dasharray="17 3 8 3" stroke-linecap="butt"/>
<line x1="250.75" y1="566" x2="250.75" y2="612" stroke="#1a1a1a" stroke-width="1.1" stroke-linecap="butt"/>
<line x1="585.5" y1="257" x2="585.5" y2="332" stroke="#1a1a1a" stroke-width="1.2" stroke-dasharray="17 3 8 3" stroke-linecap="butt"/>
<line x1="585.5" y1="332" x2="585.5" y2="378" stroke="#1a1a1a" stroke-width="1.1" stroke-linecap="butt"/>
<polyline points="867.5,272.5 885,295" fill="none" stroke="#1a1a1a" stroke-width="1.2" stroke-linejoin="round"/>
<line x1="885" y1="295" x2="695" y2="488.75" stroke="#1a1a1a" stroke-width="1.2" stroke-dasharray="34 5 8 5 8 5" stroke-linecap="butt"/>
<polyline points="695,488.75 730,533.75 737.5,527.5" fill="none" stroke="#1a1a1a" stroke-width="1.2" stroke-linejoin="round"/>
<line x1="810" y1="457.5" x2="897.5" y2="571.25" stroke="#1a1a1a" stroke-width="1.2" stroke-dasharray="34 5 8 5 8 5" stroke-linecap="butt"/>
<line x1="897.5" y1="571.25" x2="915" y2="553.75" stroke="#1a1a1a" stroke-width="1.2" stroke-linecap="butt"/>
<line x1="462.5" y1="567.5" x2="547.5" y2="627.5" stroke="#1a1a1a" stroke-width="1.2" stroke-dasharray="34 5 8 5 8 5" stroke-linecap="butt"/>
<line x1="455" y1="667.5" x2="528.75" y2="616.25" stroke="#1a1a1a" stroke-width="1.2" stroke-dasharray="34 5 8 5 8 5" stroke-linecap="butt"/>
<line x1="455" y1="667.5" x2="455" y2="760" stroke="#1a1a1a" stroke-width="1.2" stroke-dasharray="30 5 8 5 8 5 40 0" stroke-linecap="butt"/>
<line x1="455" y1="760" x2="477.5" y2="777.5" stroke="#1a1a1a" stroke-width="1.2" stroke-linecap="butt"/>
<circle cx="240.75" cy="113.75" r="17" fill="none" stroke="#1a1a1a" stroke-width="1.2"/>
<text transform="translate(240.75 119.35) scale(0.92 1)" font-size="16.3" text-anchor="middle" stroke="#1a1a1a" stroke-width="0.25" >9</text>
<circle cx="152" cy="150.75" r="17" fill="none" stroke="#1a1a1a" stroke-width="1.2"/>
<text transform="translate(152 156.35) scale(0.92 1)" font-size="16.3" text-anchor="middle" stroke="#1a1a1a" stroke-width="0.25" >11</text>
<circle cx="318.75" cy="150.75" r="17" fill="none" stroke="#1a1a1a" stroke-width="1.2"/>
<text transform="translate(318.75 156.35) scale(0.92 1)" font-size="16.3" text-anchor="middle" stroke="#1a1a1a" stroke-width="0.25" >10</text>
<circle cx="152" cy="199.5" r="17" fill="none" stroke="#1a1a1a" stroke-width="1.2"/>
<text transform="translate(152 205.1) scale(0.92 1)" font-size="16.3" text-anchor="middle" stroke="#1a1a1a" stroke-width="0.25" >13</text>
<circle cx="318.75" cy="203.75" r="17" fill="none" stroke="#1a1a1a" stroke-width="1.2"/>
<text transform="translate(318.75 209.35) scale(0.92 1)" font-size="16.3" text-anchor="middle" stroke="#1a1a1a" stroke-width="0.25" >12</text>
<circle cx="181.75" cy="251.25" r="17" fill="none" stroke="#1a1a1a" stroke-width="1.2"/>
<text transform="translate(181.75 256.85) scale(0.92 1)" font-size="16.3" text-anchor="middle" stroke="#1a1a1a" stroke-width="0.25" >14</text>
<circle cx="318.75" cy="279" r="17" fill="none" stroke="#1a1a1a" stroke-width="1.2"/>
<text transform="translate(318.75 284.6) scale(0.92 1)" font-size="16.3" text-anchor="middle" stroke="#1a1a1a" stroke-width="0.25" >15</text>
<circle cx="181.25" cy="331.25" r="17" fill="none" stroke="#1a1a1a" stroke-width="1.2"/>
<text transform="translate(181.25 336.85) scale(0.92 1)" font-size="16.3" text-anchor="middle" stroke="#1a1a1a" stroke-width="0.25" >16</text>
<circle cx="181.25" cy="398" r="17" fill="none" stroke="#1a1a1a" stroke-width="1.2"/>
<text transform="translate(181.25 403.6) scale(0.92 1)" font-size="16.3" text-anchor="middle" stroke="#1a1a1a" stroke-width="0.25" >17</text>
<circle cx="181.25" cy="439.5" r="17" fill="none" stroke="#1a1a1a" stroke-width="1.2"/>
<text transform="translate(181.25 445.1) scale(0.92 1)" font-size="16.3" text-anchor="middle" stroke="#1a1a1a" stroke-width="0.25" >18</text>
<circle cx="181.75" cy="475.75" r="17" fill="none" stroke="#1a1a1a" stroke-width="1.2"/>
<text transform="translate(181.75 481.35) scale(0.92 1)" font-size="16.3" text-anchor="middle" stroke="#1a1a1a" stroke-width="0.25" >19</text>
<circle cx="298.75" cy="363" r="17" fill="none" stroke="#1a1a1a" stroke-width="1.2"/>
<text transform="translate(298.75 368.6) scale(0.92 1)" font-size="16.3" text-anchor="middle" stroke="#1a1a1a" stroke-width="0.25" >2</text>
<circle cx="358" cy="437.25" r="17" fill="none" stroke="#1a1a1a" stroke-width="1.2"/>
<text transform="translate(358 442.85) scale(0.92 1)" font-size="16.3" text-anchor="middle" stroke="#1a1a1a" stroke-width="0.25" >3</text>
<circle cx="326.25" cy="460.5" r="17" fill="none" stroke="#1a1a1a" stroke-width="1.2"/>
<text transform="translate(326.25 466.1) scale(0.92 1)" font-size="16.3" text-anchor="middle" stroke="#1a1a1a" stroke-width="0.25" >1</text>
<circle cx="372.25" cy="311.5" r="17" fill="none" stroke="#1a1a1a" stroke-width="1.2"/>
<text transform="translate(372.25 317.1) scale(0.92 1)" font-size="16.3" text-anchor="middle" stroke="#1a1a1a" stroke-width="0.25" >4</text>
<circle cx="405" cy="288.75" r="17" fill="none" stroke="#1a1a1a" stroke-width="1.2"/>
<text transform="translate(405 294.35) scale(0.92 1)" font-size="16.3" text-anchor="middle" stroke="#1a1a1a" stroke-width="0.25" >5</text>
<circle cx="457" cy="367.25" r="17" fill="none" stroke="#1a1a1a" stroke-width="1.2"/>
<text transform="translate(457 372.85) scale(0.92 1)" font-size="16.3" text-anchor="middle" stroke="#1a1a1a" stroke-width="0.25" >6</text>
<circle cx="458.75" cy="250" r="17" fill="none" stroke="#1a1a1a" stroke-width="1.2"/>
<text transform="translate(458.75 255.6) scale(0.92 1)" font-size="16.3" text-anchor="middle" stroke="#1a1a1a" stroke-width="0.25" >7</text>
<circle cx="502" cy="219.5" r="17" fill="none" stroke="#1a1a1a" stroke-width="1.2"/>
<text transform="translate(502 225.1) scale(0.92 1)" font-size="16.3" text-anchor="middle" stroke="#1a1a1a" stroke-width="0.25" >3</text>
<circle cx="538.5" cy="309.75" r="17" fill="none" stroke="#1a1a1a" stroke-width="1.2"/>
<text transform="translate(538.5 315.35) scale(0.92 1)" font-size="16.3" text-anchor="middle" stroke="#1a1a1a" stroke-width="0.25" >2</text>
<circle cx="565" cy="290.5" r="17" fill="none" stroke="#1a1a1a" stroke-width="1.2"/>
<text transform="translate(565 296.1) scale(0.92 1)" font-size="16.3" text-anchor="middle" stroke="#1a1a1a" stroke-width="0.25" >1</text>
<circle cx="512" cy="96.25" r="17" fill="none" stroke="#1a1a1a" stroke-width="1.2"/>
<text transform="translate(512 101.85) scale(0.92 1)" font-size="16.3" text-anchor="middle" stroke="#1a1a1a" stroke-width="0.25" >13</text>
<circle cx="512" cy="133.75" r="17" fill="none" stroke="#1a1a1a" stroke-width="1.2"/>
<text transform="translate(512 139.35) scale(0.92 1)" font-size="16.3" text-anchor="middle" stroke="#1a1a1a" stroke-width="0.25" >17</text>
<circle cx="512" cy="177.5" r="17" fill="none" stroke="#1a1a1a" stroke-width="1.2"/>
<text transform="translate(512 183.1) scale(0.92 1)" font-size="16.3" text-anchor="middle" stroke="#1a1a1a" stroke-width="0.25" >18</text>
<circle cx="644.75" cy="57" r="17" fill="none" stroke="#1a1a1a" stroke-width="1.2"/>
<text transform="translate(644.75 62.6) scale(0.92 1)" font-size="16.3" text-anchor="middle" stroke="#1a1a1a" stroke-width="0.25" >11</text>
<circle cx="644.75" cy="117.5" r="17" fill="none" stroke="#1a1a1a" stroke-width="1.2"/>
<text transform="translate(644.75 123.1) scale(0.92 1)" font-size="16.3" text-anchor="middle" stroke="#1a1a1a" stroke-width="0.25" >2</text>
<circle cx="718.25" cy="65.75" r="17" fill="none" stroke="#1a1a1a" stroke-width="1.2"/>
<text transform="translate(718.25 71.35) scale(0.92 1)" font-size="16.3" text-anchor="middle" stroke="#1a1a1a" stroke-width="0.25" >8</text>
<circle cx="771.25" cy="28.25" r="17" fill="none" stroke="#1a1a1a" stroke-width="1.2"/>
<text transform="translate(771.25 33.85) scale(0.92 1)" font-size="16.3" text-anchor="middle" stroke="#1a1a1a" stroke-width="0.25" >3</text>
<circle cx="855.5" cy="38" r="17" fill="none" stroke="#1a1a1a" stroke-width="1.2"/>
<text transform="translate(855.5 43.6) scale(0.92 1)" font-size="16.3" text-anchor="middle" stroke="#1a1a1a" stroke-width="0.25" >1</text>
<circle cx="690" cy="201.5" r="17" fill="none" stroke="#1a1a1a" stroke-width="1.2"/>
<text transform="translate(690 207.1) scale(0.92 1)" font-size="16.3" text-anchor="middle" stroke="#1a1a1a" stroke-width="0.25" >3</text>
<circle cx="659" cy="223" r="17" fill="none" stroke="#1a1a1a" stroke-width="1.2"/>
<text transform="translate(659 228.6) scale(0.92 1)" font-size="16.3" text-anchor="middle" stroke="#1a1a1a" stroke-width="0.25" >1</text>
<circle cx="631.25" cy="243.75" r="17" fill="none" stroke="#1a1a1a" stroke-width="1.2"/>
<text transform="translate(631.25 249.35) scale(0.92 1)" font-size="16.3" text-anchor="middle" stroke="#1a1a1a" stroke-width="0.25" >19</text>
<circle cx="675.5" cy="265.75" r="17" fill="none" stroke="#1a1a1a" stroke-width="1.2"/>
<text transform="translate(675.5 271.35) scale(0.92 1)" font-size="16.3" text-anchor="middle" stroke="#1a1a1a" stroke-width="0.25" >22</text>
<circle cx="639.25" cy="291.25" r="17" fill="none" stroke="#1a1a1a" stroke-width="1.2"/>
<text transform="translate(639.25 296.85) scale(0.92 1)" font-size="16.3" text-anchor="middle" stroke="#1a1a1a" stroke-width="0.25" >23</text>
<circle cx="606.5" cy="314.75" r="17" fill="none" stroke="#1a1a1a" stroke-width="1.2"/>
<text transform="translate(606.5 320.35) scale(0.92 1)" font-size="16.3" text-anchor="middle" stroke="#1a1a1a" stroke-width="0.25" >24</text>
<circle cx="714.25" cy="238" r="17" fill="none" stroke="#1a1a1a" stroke-width="1.2"/>
<text transform="translate(714.25 243.6) scale(0.92 1)" font-size="16.3" text-anchor="middle" stroke="#1a1a1a" stroke-width="0.25" >31</text>
<circle cx="751.75" cy="210.75" r="17" fill="none" stroke="#1a1a1a" stroke-width="1.2"/>
<text transform="translate(751.75 216.35) scale(0.92 1)" font-size="16.3" text-anchor="middle" stroke="#1a1a1a" stroke-width="0.25" >24</text>
<circle cx="793.75" cy="181.75" r="17" fill="none" stroke="#1a1a1a" stroke-width="1.2"/>
<text transform="translate(793.75 187.35) scale(0.92 1)" font-size="16.3" text-anchor="middle" stroke="#1a1a1a" stroke-width="0.25" >25</text>
<circle cx="832.5" cy="154.25" r="17" fill="none" stroke="#1a1a1a" stroke-width="1.2"/>
<text transform="translate(832.5 159.85) scale(0.92 1)" font-size="16.3" text-anchor="middle" stroke="#1a1a1a" stroke-width="0.25" >24</text>
<circle cx="863.75" cy="131.75" r="17" fill="none" stroke="#1a1a1a" stroke-width="1.2"/>
<text transform="translate(863.75 137.35) scale(0.92 1)" font-size="16.3" text-anchor="middle" stroke="#1a1a1a" stroke-width="0.25" >34</text>
<circle cx="902.5" cy="131.75" r="17" fill="none" stroke="#1a1a1a" stroke-width="1.2"/>
<text transform="translate(902.5 137.35) scale(0.92 1)" font-size="16.3" text-anchor="middle" stroke="#1a1a1a" stroke-width="0.25" >29</text>
<circle cx="955" cy="168.75" r="17" fill="none" stroke="#1a1a1a" stroke-width="1.2"/>
<text transform="translate(955 174.35) scale(0.92 1)" font-size="16.3" text-anchor="middle" stroke="#1a1a1a" stroke-width="0.25" >35</text>
<circle cx="995" cy="212.5" r="17" fill="none" stroke="#1a1a1a" stroke-width="1.2"/>
<text transform="translate(995 218.1) scale(0.92 1)" font-size="16.3" text-anchor="middle" stroke="#1a1a1a" stroke-width="0.25" >9</text>
<circle cx="949.25" cy="260" r="17" fill="none" stroke="#1a1a1a" stroke-width="1.2"/>
<text transform="translate(949.25 265.6) scale(0.92 1)" font-size="16.3" text-anchor="middle" stroke="#1a1a1a" stroke-width="0.25" >10</text>
<circle cx="1021.25" cy="312.5" r="17" fill="none" stroke="#1a1a1a" stroke-width="1.2"/>
<text transform="translate(1021.25 318.1) scale(0.92 1)" font-size="16.3" text-anchor="middle" stroke="#1a1a1a" stroke-width="0.25" >11</text>
<circle cx="1001.25" cy="350.75" r="17" fill="none" stroke="#1a1a1a" stroke-width="1.2"/>
<text transform="translate(1001.25 356.35) scale(0.92 1)" font-size="16.3" text-anchor="middle" stroke="#1a1a1a" stroke-width="0.25" >12</text>
<circle cx="976.75" cy="375" r="17" fill="none" stroke="#1a1a1a" stroke-width="1.2"/>
<text transform="translate(976.75 380.6) scale(0.92 1)" font-size="16.3" text-anchor="middle" stroke="#1a1a1a" stroke-width="0.25" >13</text>
<circle cx="953.75" cy="398.75" r="17" fill="none" stroke="#1a1a1a" stroke-width="1.2"/>
<text transform="translate(953.75 404.35) scale(0.92 1)" font-size="16.3" text-anchor="middle" stroke="#1a1a1a" stroke-width="0.25" >14</text>
<circle cx="925" cy="427.5" r="17" fill="none" stroke="#1a1a1a" stroke-width="1.2"/>
<text transform="translate(925 433.1) scale(0.92 1)" font-size="16.3" text-anchor="middle" stroke="#1a1a1a" stroke-width="0.25" >15</text>
<circle cx="893.75" cy="460" r="17" fill="none" stroke="#1a1a1a" stroke-width="1.2"/>
<text transform="translate(893.75 465.6) scale(0.92 1)" font-size="16.3" text-anchor="middle" stroke="#1a1a1a" stroke-width="0.25" >44</text>
<circle cx="786.25" cy="348.75" r="17" fill="none" stroke="#1a1a1a" stroke-width="1.2"/>
<text transform="translate(786.25 354.35) scale(0.92 1)" font-size="16.3" text-anchor="middle" stroke="#1a1a1a" stroke-width="0.25" >33</text>
<circle cx="755" cy="370.5" r="17" fill="none" stroke="#1a1a1a" stroke-width="1.2"/>
<text transform="translate(755 376.1) scale(0.92 1)" font-size="16.3" text-anchor="middle" stroke="#1a1a1a" stroke-width="0.25" >32</text>
<circle cx="707.5" cy="404.75" r="17" fill="none" stroke="#1a1a1a" stroke-width="1.2"/>
<text transform="translate(707.5 410.35) scale(0.92 1)" font-size="16.3" text-anchor="middle" stroke="#1a1a1a" stroke-width="0.25" >21</text>
<circle cx="660" cy="470.75" r="17" fill="none" stroke="#1a1a1a" stroke-width="1.2"/>
<text transform="translate(660 476.35) scale(0.92 1)" font-size="16.3" text-anchor="middle" stroke="#1a1a1a" stroke-width="0.25" >25</text>
<circle cx="614.25" cy="502.5" r="17" fill="none" stroke="#1a1a1a" stroke-width="1.2"/>
<text transform="translate(614.25 508.1) scale(0.92 1)" font-size="16.3" text-anchor="middle" stroke="#1a1a1a" stroke-width="0.25" >24</text>
<circle cx="568.75" cy="526" r="17" fill="none" stroke="#1a1a1a" stroke-width="1.2"/>
<text transform="translate(568.75 531.6) scale(0.92 1)" font-size="16.3" text-anchor="middle" stroke="#1a1a1a" stroke-width="0.25" >21</text>
<circle cx="518.25" cy="377.5" r="17" fill="none" stroke="#1a1a1a" stroke-width="1.2"/>
<text transform="translate(518.25 383.1) scale(0.92 1)" font-size="16.3" text-anchor="middle" stroke="#1a1a1a" stroke-width="0.25" >26</text>
<circle cx="478.75" cy="405.5" r="17" fill="none" stroke="#1a1a1a" stroke-width="1.2"/>
<text transform="translate(478.75 411.1) scale(0.92 1)" font-size="16.3" text-anchor="middle" stroke="#1a1a1a" stroke-width="0.25" >21</text>
<circle cx="436.25" cy="434.5" r="17" fill="none" stroke="#1a1a1a" stroke-width="1.2"/>
<text transform="translate(436.25 440.1) scale(0.92 1)" font-size="16.3" text-anchor="middle" stroke="#1a1a1a" stroke-width="0.25" >30</text>
<circle cx="383.75" cy="472.5" r="17" fill="none" stroke="#1a1a1a" stroke-width="1.2"/>
<text transform="translate(383.75 478.1) scale(0.92 1)" font-size="16.3" text-anchor="middle" stroke="#1a1a1a" stroke-width="0.25" >29</text>
<circle cx="315" cy="521.75" r="17" fill="none" stroke="#1a1a1a" stroke-width="1.2"/>
<text transform="translate(315 527.35) scale(0.92 1)" font-size="16.3" text-anchor="middle" stroke="#1a1a1a" stroke-width="0.25" >24</text>
<circle cx="286.25" cy="542" r="17" fill="none" stroke="#1a1a1a" stroke-width="1.2"/>
<text transform="translate(286.25 547.6) scale(0.92 1)" font-size="16.3" text-anchor="middle" stroke="#1a1a1a" stroke-width="0.25" >26</text>
<circle cx="172.5" cy="622.5" r="17" fill="none" stroke="#1a1a1a" stroke-width="1.2"/>
<text transform="translate(172.5 628.1) scale(0.92 1)" font-size="16.3" text-anchor="middle" stroke="#1a1a1a" stroke-width="0.25" >23</text>
<circle cx="140.5" cy="646" r="17" fill="none" stroke="#1a1a1a" stroke-width="1.2"/>
<text transform="translate(140.5 651.6) scale(0.92 1)" font-size="16.3" text-anchor="middle" stroke="#1a1a1a" stroke-width="0.25" >22</text>
<circle cx="523.75" cy="567.5" r="17" fill="none" stroke="#1a1a1a" stroke-width="1.2"/>
<text transform="translate(523.75 573.1) scale(0.92 1)" font-size="16.3" text-anchor="middle" stroke="#1a1a1a" stroke-width="0.25" >24</text>
<circle cx="471.5" cy="604" r="17" fill="none" stroke="#1a1a1a" stroke-width="1.2"/>
<text transform="translate(471.5 609.6) scale(0.92 1)" font-size="16.3" text-anchor="middle" stroke="#1a1a1a" stroke-width="0.25" >28</text>
<circle cx="442.75" cy="625" r="17" fill="none" stroke="#1a1a1a" stroke-width="1.2"/>
<text transform="translate(442.75 630.6) scale(0.92 1)" font-size="16.3" text-anchor="middle" stroke="#1a1a1a" stroke-width="0.25" >27</text>
<circle cx="356.25" cy="687" r="17" fill="none" stroke="#1a1a1a" stroke-width="1.2"/>
<text transform="translate(356.25 692.6) scale(0.92 1)" font-size="16.3" text-anchor="middle" stroke="#1a1a1a" stroke-width="0.25" >24</text>
<circle cx="320.5" cy="711.25" r="17" fill="none" stroke="#1a1a1a" stroke-width="1.2"/>
<text transform="translate(320.5 716.85) scale(0.92 1)" font-size="16.3" text-anchor="middle" stroke="#1a1a1a" stroke-width="0.25" >25</text>
<circle cx="282" cy="739" r="17" fill="none" stroke="#1a1a1a" stroke-width="1.2"/>
<text transform="translate(282 744.6) scale(0.92 1)" font-size="16.3" text-anchor="middle" stroke="#1a1a1a" stroke-width="0.25" >24</text>
<circle cx="254.75" cy="758" r="17" fill="none" stroke="#1a1a1a" stroke-width="1.2"/>
<text transform="translate(254.75 763.6) scale(0.92 1)" font-size="16.3" text-anchor="middle" stroke="#1a1a1a" stroke-width="0.25" >21</text>
<circle cx="213.25" cy="787.5" r="17" fill="none" stroke="#1a1a1a" stroke-width="1.2"/>
<text transform="translate(213.25 793.1) scale(0.92 1)" font-size="16.3" text-anchor="middle" stroke="#1a1a1a" stroke-width="0.25" >20</text>
<circle cx="573" cy="576.5" r="17" fill="none" stroke="#1a1a1a" stroke-width="1.2"/>
<text transform="translate(573 582.1) scale(0.92 1)" font-size="16.3" text-anchor="middle" stroke="#1a1a1a" stroke-width="0.25" >36</text>
<circle cx="501.75" cy="670.5" r="17" fill="none" stroke="#1a1a1a" stroke-width="1.2"/>
<text transform="translate(501.75 676.1) scale(0.92 1)" font-size="16.3" text-anchor="middle" stroke="#1a1a1a" stroke-width="0.25" >1</text>
<circle cx="535.75" cy="695" r="17" fill="none" stroke="#1a1a1a" stroke-width="1.2"/>
<text transform="translate(535.75 700.6) scale(0.92 1)" font-size="16.3" text-anchor="middle" stroke="#1a1a1a" stroke-width="0.25" >37</text>
<circle cx="615" cy="605.75" r="17" fill="none" stroke="#1a1a1a" stroke-width="1.2"/>
<text transform="translate(615 611.35) scale(0.92 1)" font-size="16.3" text-anchor="middle" stroke="#1a1a1a" stroke-width="0.25" >38</text>
<circle cx="666.75" cy="633.25" r="17" fill="none" stroke="#1a1a1a" stroke-width="1.2"/>
<text transform="translate(666.75 638.85) scale(0.92 1)" font-size="16.3" text-anchor="middle" stroke="#1a1a1a" stroke-width="0.25" >39</text>
<circle cx="694.5" cy="662.5" r="17" fill="none" stroke="#1a1a1a" stroke-width="1.2"/>
<text transform="translate(694.5 668.1) scale(0.92 1)" font-size="16.3" text-anchor="middle" stroke="#1a1a1a" stroke-width="0.25" >40</text>
<circle cx="580.75" cy="726.75" r="17" fill="none" stroke="#1a1a1a" stroke-width="1.2"/>
<text transform="translate(580.75 732.35) scale(0.92 1)" font-size="16.3" text-anchor="middle" stroke="#1a1a1a" stroke-width="0.25" >13</text>
<circle cx="621" cy="755" r="17" fill="none" stroke="#1a1a1a" stroke-width="1.2"/>
<text transform="translate(621 760.6) scale(0.92 1)" font-size="16.3" text-anchor="middle" stroke="#1a1a1a" stroke-width="0.25" >21</text>
<circle cx="670.5" cy="790.75" r="17" fill="none" stroke="#1a1a1a" stroke-width="1.2"/>
<text transform="translate(670.5 796.35) scale(0.92 1)" font-size="16.3" text-anchor="middle" stroke="#1a1a1a" stroke-width="0.25" >41</text>
<circle cx="730" cy="833" r="17" fill="none" stroke="#1a1a1a" stroke-width="1.2"/>
<text transform="translate(730 838.6) scale(0.92 1)" font-size="16.3" text-anchor="middle" stroke="#1a1a1a" stroke-width="0.25" >42</text>
<circle cx="774.25" cy="437" r="17" fill="none" stroke="#1a1a1a" stroke-width="1.2"/>
<text transform="translate(774.25 442.6) scale(0.92 1)" font-size="16.3" text-anchor="middle" stroke="#1a1a1a" stroke-width="0.25" >17</text>
<circle cx="820" cy="534.5" r="17" fill="none" stroke="#1a1a1a" stroke-width="1.2"/>
<text transform="translate(820 540.1) scale(0.92 1)" font-size="16.3" text-anchor="middle" stroke="#1a1a1a" stroke-width="0.25" >43</text>
<circle cx="792.5" cy="562" r="17" fill="none" stroke="#1a1a1a" stroke-width="1.2"/>
<text transform="translate(792.5 567.6) scale(0.92 1)" font-size="16.3" text-anchor="middle" stroke="#1a1a1a" stroke-width="0.25" >19</text>
<circle cx="405" cy="650.25" r="17" fill="none" stroke="#1a1a1a" stroke-width="1.2"/>
<text transform="translate(405 655.85) scale(0.95 1)" font-size="16.3" text-anchor="middle" stroke="#1a1a1a" stroke-width="0.8" >21</text>
<polygon points="430,43.75 452,21.75 474,43.75 452,65.75" fill="#fff" stroke="#1a1a1a" stroke-width="1.2" stroke-linejoin="miter"/>
<text transform="translate(452 49.35) scale(0.92 1)" font-size="16.3" text-anchor="middle" stroke="#1a1a1a" stroke-width="0.25" >46</text>
<polygon points="614.5,856.75 637,834.25 659.5,856.75 637,879.25" fill="#fff" stroke="#1a1a1a" stroke-width="1.2" stroke-linejoin="miter"/>
<text transform="translate(637 862.35) scale(0.92 1)" font-size="16.3" text-anchor="middle" stroke="#1a1a1a" stroke-width="0.25" >45</text>
<polygon points="965.5,610 988,587.5 1010.5,610 988,632.5" fill="#fff" stroke="#1a1a1a" stroke-width="1.2" stroke-linejoin="miter"/>
<text transform="translate(988 615.6) scale(0.92 1)" font-size="16.3" text-anchor="middle" stroke="#1a1a1a" stroke-width="0.25" >47</text>
<g>
<path d="M75 51.5 Q80 51 84 53.5 L152 93 Q158 97 156 100 Q155 102.5 150 102.5 L46 102.5 Q40 102.5 42 97 L67 56 Q70 52 75 51.5 Z" fill="#fff" stroke="#222" stroke-width="1.3" stroke-linejoin="round" stroke-linecap="round" />
<polygon points="71.12,58.75 79.88,58.75 75.5,66.15" fill="none" stroke="#222" stroke-width="0.9" stroke-linejoin="round"/>
<polygon points="66.72,66.1 75.47,66.1 71.1,73.5" fill="none" stroke="#222" stroke-width="0.9" stroke-linejoin="round"/>
<polygon points="75.53,66.1 84.28,66.1 79.9,73.5" fill="none" stroke="#222" stroke-width="0.9" stroke-linejoin="round"/>
<polygon points="62.38,73.5 71.12,73.5 66.75,80.9" fill="none" stroke="#222" stroke-width="0.9" stroke-linejoin="round"/>
<polygon points="71.12,73.5 79.88,73.5 75.5,80.9" fill="none" stroke="#222" stroke-width="0.9" stroke-linejoin="round"/>
<polygon points="79.88,73.5 88.62,73.5 84.25,80.9" fill="none" stroke="#222" stroke-width="0.9" stroke-linejoin="round"/>
<text x="46.8" y="98.7" font-size="17.5" font-weight="bold" font-style="italic" textLength="22.5" lengthAdjust="spacingAndGlyphs" style="fill:#111" stroke="#111" stroke-width="0.5">B</text>
<text x="71.3" y="98.7" font-size="13.2" font-weight="bold" font-style="italic" textLength="69" lengthAdjust="spacingAndGlyphs" style="fill:#111" stroke="#111" stroke-width="0.5">ERMA</text>
</g>
<path d="M360 10 L301 401" fill="none" stroke="#e2202c" stroke-width="8.5" stroke-linejoin="round" stroke-linecap="round" />
<path d="M288.5 369.5 L301.3 402.5 L327.5 369" fill="none" stroke="#e2202c" stroke-width="9" stroke-linejoin="round" stroke-linecap="round" />
<path d="M360 10 L525 240" fill="none" stroke="#e2202c" stroke-width="8.5" stroke-linejoin="round" stroke-linecap="round" />
<path d="M498 237 L526.5 242.5 L525 211.5" fill="none" stroke="#e2202c" stroke-width="8" stroke-linejoin="round" stroke-linecap="round" />
<rect x="1032" y="0" width="32" height="904" fill="#fff"/>
<rect x="0" y="866.5" width="1064" height="38" fill="#fff"/>
</g>
</svg>
</body></html>
